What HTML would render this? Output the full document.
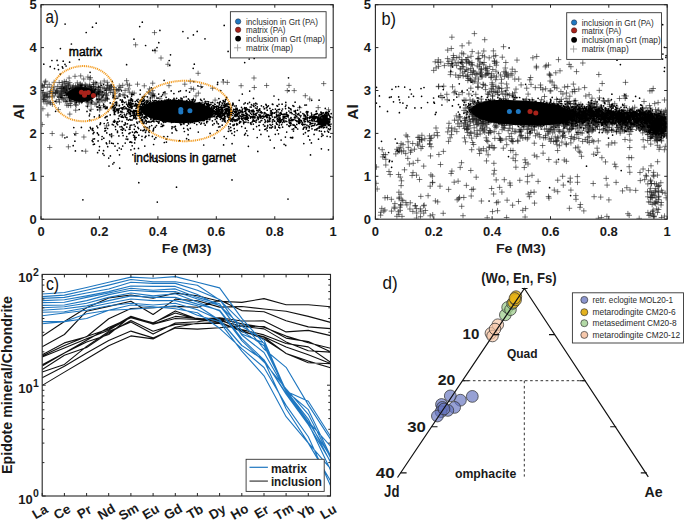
<!DOCTYPE html><html><head><meta charset="utf-8"><style>html,body{margin:0;padding:0;background:#fff;}svg{display:block;}svg text{font-family:"Liberation Sans", sans-serif;}</style></head><body><svg width="685" height="522" viewBox="0 0 685 522" font-family="Liberation Sans, sans-serif">
<rect width="685" height="522" fill="#fff"/>
<defs><clipPath id="ca"><rect x="41.5" y="5.2" width="291.2" height="213.5"/></clipPath><clipPath id="cb"><rect x="375.9" y="5.2" width="291.2" height="213.5"/></clipPath></defs>
<path clip-path="url(#ca)" d="M71.5 89.4h5.2M74.1 86.8v5.2M72.1 94.7h5.2M74.7 92.1v5.2M58.7 94h5.2M61.3 91.4v5.2M97.5 89.9h5.2M100.1 87.3v5.2M96.1 91h5.2M98.7 88.4v5.2M83.9 91.5h5.2M86.5 88.9v5.2M44.7 87.1h5.2M47.3 84.5v5.2M86 89.4h5.2M88.6 86.8v5.2M44.3 103.9h5.2M46.9 101.3v5.2M59.5 95.7h5.2M62.1 93.1v5.2M82.2 92.9h5.2M84.8 90.3v5.2M86.3 96.8h5.2M88.9 94.2v5.2M82.2 90.1h5.2M84.8 87.5v5.2M63.8 81.6h5.2M66.4 79v5.2M87 84.9h5.2M89.6 82.3v5.2M64.6 97.4h5.2M67.2 94.8v5.2M69.9 93.3h5.2M72.5 90.7v5.2M88.4 91h5.2M91 88.4v5.2M67.9 98.8h5.2M70.5 96.2v5.2M66.5 84.8h5.2M69.1 82.2v5.2M61 91.1h5.2M63.6 88.5v5.2M84.5 102.2h5.2M87.1 99.6v5.2M77.3 84.2h5.2M79.9 81.6v5.2M74.4 97.9h5.2M77 95.3v5.2M85.8 93h5.2M88.4 90.4v5.2M48.6 87.3h5.2M51.2 84.7v5.2M89.1 86.6h5.2M91.7 84v5.2M103.7 90.3h5.2M106.3 87.7v5.2M78.7 101h5.2M81.3 98.4v5.2M88.1 96.6h5.2M90.7 94v5.2M67.8 100.8h5.2M70.4 98.2v5.2M58 96.1h5.2M60.6 93.5v5.2M100.9 105.7h5.2M103.5 103.1v5.2M48.7 91.1h5.2M51.3 88.5v5.2M103.8 88.9h5.2M106.4 86.3v5.2M40.3 108.8h5.2M42.9 106.2v5.2M83.2 97.4h5.2M85.8 94.8v5.2M55.1 86.4h5.2M57.7 83.8v5.2M97.3 91.6h5.2M99.9 89v5.2M81.1 89.8h5.2M83.7 87.2v5.2M106.7 88.7h5.2M109.3 86.1v5.2M86.2 89.1h5.2M88.8 86.5v5.2M46.6 84.4h5.2M49.2 81.8v5.2M94.5 89.2h5.2M97.1 86.6v5.2M92.4 104.3h5.2M95 101.7v5.2M72.9 86.1h5.2M75.5 83.5v5.2M51.5 82.3h5.2M54.1 79.7v5.2M86.9 93.6h5.2M89.5 91v5.2M82.6 88.5h5.2M85.2 85.9v5.2M78.7 85.3h5.2M81.3 82.7v5.2M63.8 95.3h5.2M66.4 92.7v5.2M96.2 92.5h5.2M98.8 89.9v5.2M59.7 86.6h5.2M62.3 84v5.2M104.2 95.5h5.2M106.8 92.9v5.2M50.2 93.5h5.2M52.8 90.9v5.2M73.6 94.6h5.2M76.2 92v5.2M103.1 99.3h5.2M105.7 96.7v5.2M100.3 100.8h5.2M102.9 98.2v5.2M61.4 88.6h5.2M64 86v5.2M97.8 87.1h5.2M100.4 84.5v5.2M82.9 91.7h5.2M85.5 89.1v5.2M79.3 88.9h5.2M81.9 86.3v5.2M73 90.9h5.2M75.6 88.3v5.2M87.3 92.6h5.2M89.9 90v5.2M90.9 89h5.2M93.5 86.4v5.2M114.6 90.6h5.2M117.2 88v5.2M68.3 95h5.2M70.9 92.4v5.2M76.1 86.7h5.2M78.7 84.1v5.2M70 90.2h5.2M72.6 87.6v5.2M111.3 109.1h5.2M113.9 106.5v5.2M55 91.1h5.2M57.6 88.5v5.2M84 91.1h5.2M86.6 88.5v5.2M68.2 88.4h5.2M70.8 85.8v5.2M81.7 96h5.2M84.3 93.4v5.2M122.5 90.4h5.2M125.1 87.8v5.2M65.9 93.3h5.2M68.5 90.7v5.2M72.1 93h5.2M74.7 90.4v5.2M95.5 100.2h5.2M98.1 97.6v5.2M75.1 86.5h5.2M77.7 83.9v5.2M92.6 83.1h5.2M95.2 80.5v5.2M44.1 94.9h5.2M46.7 92.3v5.2M69.9 88.6h5.2M72.5 86v5.2M97.1 109.9h5.2M99.7 107.3v5.2M97.1 102h5.2M99.7 99.4v5.2M89.4 102.2h5.2M92 99.6v5.2M79.7 85h5.2M82.3 82.4v5.2M73.5 91.4h5.2M76.1 88.8v5.2M91.5 91.7h5.2M94.1 89.1v5.2M74.7 82.8h5.2M77.3 80.2v5.2M96.3 94.5h5.2M98.9 91.9v5.2M128.5 100h5.2M131.1 97.4v5.2M93.8 94.4h5.2M96.4 91.8v5.2M78.9 88.1h5.2M81.5 85.5v5.2M80.6 88.5h5.2M83.2 85.9v5.2M47.4 102.4h5.2M50 99.8v5.2M88.1 98.8h5.2M90.7 96.2v5.2M56.9 102.1h5.2M59.5 99.5v5.2M100.4 87.8h5.2M103 85.2v5.2M104.4 98.7h5.2M107 96.1v5.2M76.4 100h5.2M79 97.4v5.2M90.9 82.4h5.2M93.5 79.8v5.2M59.5 82.6h5.2M62.1 80v5.2M95.2 93.8h5.2M97.8 91.2v5.2M74.6 96.5h5.2M77.2 93.9v5.2M84 90h5.2M86.6 87.4v5.2M104.8 99.2h5.2M107.4 96.6v5.2M98 83.1h5.2M100.6 80.5v5.2M104 93.8h5.2M106.6 91.2v5.2M62.3 86.1h5.2M64.9 83.5v5.2M78.6 91.8h5.2M81.2 89.2v5.2M103.4 94.3h5.2M106 91.7v5.2M41.2 87.4h5.2M43.8 84.8v5.2M82.4 96.6h5.2M85 94v5.2M76.2 87.3h5.2M78.8 84.7v5.2M77.9 84.1h5.2M80.5 81.5v5.2M75.2 86h5.2M77.8 83.4v5.2M104.7 82.3h5.2M107.3 79.7v5.2M63.6 87h5.2M66.2 84.4v5.2M40.8 99.6h5.2M43.4 97v5.2M39.1 85.8h5.2M41.7 83.2v5.2M53 92.7h5.2M55.6 90.1v5.2M72.7 92.8h5.2M75.3 90.2v5.2M65.2 91.1h5.2M67.8 88.5v5.2M110.4 92.4h5.2M113 89.8v5.2M86.5 86.2h5.2M89.1 83.6v5.2M72.6 100.8h5.2M75.2 98.2v5.2M65.8 85.7h5.2M68.4 83.1v5.2M45.1 96.5h5.2M47.7 93.9v5.2M95.5 87.5h5.2M98.1 84.9v5.2M76.5 87.5h5.2M79.1 84.9v5.2M79.5 100.2h5.2M82.1 97.6v5.2M46.7 96.8h5.2M49.3 94.2v5.2M93.9 96.3h5.2M96.5 93.7v5.2M59.2 97.6h5.2M61.8 95v5.2M47.3 93.4h5.2M49.9 90.8v5.2M54 90.3h5.2M56.6 87.7v5.2M64.2 105.1h5.2M66.8 102.5v5.2M90.2 94.4h5.2M92.8 91.8v5.2M81.9 95.6h5.2M84.5 93v5.2M91.2 87.8h5.2M93.8 85.2v5.2M89 90.5h5.2M91.6 87.9v5.2M101.7 88.4h5.2M104.3 85.8v5.2M85 106.1h5.2M87.6 103.5v5.2M93.4 84.2h5.2M96 81.6v5.2M70.7 95.7h5.2M73.3 93.1v5.2M113.2 104h5.2M115.8 101.4v5.2M85.3 77h5.2M87.9 74.4v5.2M58.8 88.2h5.2M61.4 85.6v5.2M112.2 93.4h5.2M114.8 90.8v5.2M87 86.8h5.2M89.6 84.2v5.2M59.2 93.2h5.2M61.8 90.6v5.2M81.9 87.3h5.2M84.5 84.7v5.2M75.7 93.9h5.2M78.3 91.3v5.2M57.1 95h5.2M59.7 92.4v5.2M93.3 92h5.2M95.9 89.4v5.2M60.2 98.1h5.2M62.8 95.5v5.2M127 85.3h5.2M129.6 82.7v5.2M88.5 109.3h5.2M91.1 106.7v5.2M88.2 89.6h5.2M90.8 87v5.2M108.4 89.9h5.2M111 87.3v5.2M75.1 89.3h5.2M77.7 86.7v5.2M39.5 86h5.2M42.1 83.4v5.2M82.6 97.2h5.2M85.2 94.6v5.2M101.6 81h5.2M104.2 78.4v5.2M49.8 96.9h5.2M52.4 94.3v5.2M81.9 91.5h5.2M84.5 88.9v5.2M68.8 98.9h5.2M71.4 96.3v5.2M116.7 86h5.2M119.3 83.4v5.2M53.7 101.3h5.2M56.3 98.7v5.2M108.7 86.3h5.2M111.3 83.7v5.2M111 87.4h5.2M113.6 84.8v5.2M59.8 91h5.2M62.4 88.4v5.2M75.3 89.3h5.2M77.9 86.7v5.2M62.6 93.4h5.2M65.2 90.8v5.2M85.1 90.2h5.2M87.7 87.6v5.2M88.5 91.3h5.2M91.1 88.7v5.2M70.2 87.6h5.2M72.8 85v5.2M77.3 98h5.2M79.9 95.4v5.2M64.5 92.6h5.2M67.1 90v5.2M74.3 91.6h5.2M76.9 89v5.2M76.4 91.5h5.2M79 88.9v5.2M73.8 100.7h5.2M76.4 98.1v5.2M84.4 85.9h5.2M87 83.3v5.2M84.6 93.9h5.2M87.2 91.3v5.2M84.9 98.9h5.2M87.5 96.3v5.2M40.4 92.3h5.2M43 89.7v5.2M58.7 87.9h5.2M61.3 85.3v5.2M55.8 109.6h5.2M58.4 107v5.2M56.6 82.5h5.2M59.2 79.9v5.2M69.1 101.5h5.2M71.7 98.9v5.2M61.9 89.3h5.2M64.5 86.7v5.2M85.8 91.5h5.2M88.4 88.9v5.2M104.6 88.1h5.2M107.2 85.5v5.2M76 88.8h5.2M78.6 86.2v5.2M107.8 86.4h5.2M110.4 83.8v5.2M95.8 99.6h5.2M98.4 97v5.2M73.6 87.9h5.2M76.2 85.3v5.2M70.8 85.8h5.2M73.4 83.2v5.2M87.7 86.8h5.2M90.3 84.2v5.2M72.4 76.3h5.2M75 73.7v5.2M99.9 94h5.2M102.5 91.4v5.2M78.1 75.9h5.2M80.7 73.3v5.2M69.9 87h5.2M72.5 84.4v5.2M95 92.6h5.2M97.6 90v5.2M54.2 91.4h5.2M56.8 88.8v5.2M83.2 85.4h5.2M85.8 82.8v5.2M91.3 92.5h5.2M93.9 89.9v5.2M92.6 89.2h5.2M95.2 86.6v5.2M80.3 92.3h5.2M82.9 89.7v5.2M71.8 88.2h5.2M74.4 85.6v5.2M56.4 96.7h5.2M59 94.1v5.2M76.5 102.1h5.2M79.1 99.5v5.2M68.1 105.6h5.2M70.7 103v5.2M63.4 89h5.2M66 86.4v5.2M87.1 93h5.2M89.7 90.4v5.2M72 101.8h5.2M74.6 99.2v5.2M111.1 89.3h5.2M113.7 86.7v5.2M97.2 98.3h5.2M99.8 95.7v5.2M72.9 104.4h5.2M75.5 101.8v5.2M91.2 86.6h5.2M93.8 84v5.2M40.3 93h5.2M42.9 90.4v5.2M88.4 104h5.2M91 101.4v5.2M41.7 99.5h5.2M44.3 96.9v5.2M64.4 101.7h5.2M67 99.1v5.2M77 91h5.2M79.6 88.4v5.2M88.4 88.1h5.2M91 85.5v5.2M104.9 85.2h5.2M107.5 82.6v5.2M51.5 95.9h5.2M54.1 93.3v5.2M56.3 99.6h5.2M58.9 97v5.2M74.8 92.6h5.2M77.4 90v5.2M85.7 102.9h5.2M88.3 100.3v5.2M52.9 92.8h5.2M55.5 90.2v5.2M72.6 94.6h5.2M75.2 92v5.2M75.2 97.5h5.2M77.8 94.9v5.2M89.7 90.4h5.2M92.3 87.8v5.2M74.7 97h5.2M77.3 94.4v5.2M73.1 110.2h5.2M75.7 107.6v5.2M57.7 92.4h5.2M60.3 89.8v5.2M47.8 91.4h5.2M50.4 88.8v5.2M79.2 101.5h5.2M81.8 98.9v5.2M71.6 94.7h5.2M74.2 92.1v5.2M85.1 88.7h5.2M87.7 86.1v5.2M75.7 98.1h5.2M78.3 95.5v5.2M73.6 93.1h5.2M76.2 90.5v5.2M90.3 90.8h5.2M92.9 88.2v5.2M62.7 101.4h5.2M65.3 98.8v5.2M69.3 97.4h5.2M71.9 94.8v5.2M55.3 93.4h5.2M57.9 90.8v5.2M67.1 92h5.2M69.7 89.4v5.2M86.3 95.3h5.2M88.9 92.7v5.2M120.5 94.7h5.2M123.1 92.1v5.2M97.3 91.9h5.2M99.9 89.3v5.2M97.6 107.9h5.2M100.2 105.3v5.2M62.1 91.1h5.2M64.7 88.5v5.2M87.8 77.6h5.2M90.4 75v5.2M82.5 84.4h5.2M85.1 81.8v5.2M90.9 86.5h5.2M93.5 83.9v5.2M86.1 93.6h5.2M88.7 91v5.2M86.1 99.6h5.2M88.7 97v5.2M98.8 99.2h5.2M101.4 96.6v5.2M81.1 79h5.2M83.7 76.4v5.2M72.1 92.5h5.2M74.7 89.9v5.2M98.5 92.5h5.2M101.1 89.9v5.2M61 91h5.2M63.6 88.4v5.2M87.4 88.1h5.2M90 85.5v5.2M61.7 81.4h5.2M64.3 78.8v5.2M108 92.5h5.2M110.6 89.9v5.2M81.5 95.4h5.2M84.1 92.8v5.2M103.2 97.2h5.2M105.8 94.6v5.2M89.2 95.7h5.2M91.8 93.1v5.2M63.2 88h5.2M65.8 85.4v5.2M101.7 92.7h5.2M104.3 90.1v5.2M63.5 87.4h5.2M66.1 84.8v5.2M75.4 90.6h5.2M78 88v5.2M105.3 85.4h5.2M107.9 82.8v5.2M66.5 78h5.2M69.1 75.4v5.2M76.4 87.6h5.2M79 85v5.2M64.1 92.9h5.2M66.7 90.3v5.2M43.1 81.1h5.2M45.7 78.5v5.2M102.3 100.5h5.2M104.9 97.9v5.2M47.8 103.1h5.2M50.4 100.5v5.2M98.7 95.6h5.2M101.3 93v5.2M75.2 94.7h5.2M77.8 92.1v5.2M74.1 99.6h5.2M76.7 97v5.2M76.8 101.9h5.2M79.4 99.3v5.2M75 90.7h5.2M77.6 88.1v5.2M85.3 94.1h5.2M87.9 91.5v5.2M59.2 91.6h5.2M61.8 89v5.2M67.2 82.6h5.2M69.8 80v5.2M91 93.4h5.2M93.6 90.8v5.2M67.4 97.2h5.2M70 94.6v5.2M58.6 94.9h5.2M61.2 92.3v5.2M82 89.3h5.2M84.6 86.7v5.2M87.2 79.1h5.2M89.8 76.5v5.2M63 92.6h5.2M65.6 90v5.2M129.5 104.7h5.2M132.1 102.1v5.2M66.5 91.6h5.2M69.1 89v5.2M79.3 90h5.2M81.9 87.4v5.2M71.9 90.3h5.2M74.5 87.7v5.2M77.4 87.7h5.2M80 85.1v5.2M40.4 98.3h5.2M43 95.7v5.2M76.3 99.3h5.2M78.9 96.7v5.2M56.5 88.6h5.2M59.1 86v5.2M64 88.6h5.2M66.6 86v5.2M90.6 90.7h5.2M93.2 88.1v5.2M86 93.3h5.2M88.6 90.7v5.2M49.6 92.8h5.2M52.2 90.2v5.2M85 96.1h5.2M87.6 93.5v5.2M74.5 87.8h5.2M77.1 85.2v5.2M59.7 88.5h5.2M62.3 85.9v5.2M111.8 96.2h5.2M114.4 93.6v5.2M79.2 93.6h5.2M81.8 91v5.2M42.2 95.4h5.2M44.8 92.8v5.2M93.7 103.2h5.2M96.3 100.6v5.2M107 87.5h5.2M109.6 84.9v5.2M146.7 92.6h5.2M149.3 90v5.2M134.9 84.2h5.2M137.5 81.6v5.2M67.4 103.5h5.2M70 100.9v5.2M51.1 89.1h5.2M53.7 86.5v5.2M118.1 87.5h5.2M120.7 84.9v5.2M148.4 94h5.2M151 91.4v5.2M127.8 100h5.2M130.4 97.4v5.2M91.9 94h5.2M94.5 91.4v5.2M129.8 93.1h5.2M132.4 90.5v5.2M65.6 86.1h5.2M68.2 83.5v5.2M73.9 96.2h5.2M76.5 93.6v5.2M53.4 92.7h5.2M56 90.1v5.2M120.1 85.3h5.2M122.7 82.7v5.2M51.5 87h5.2M54.1 84.4v5.2M106.5 90h5.2M109.1 87.4v5.2M83.8 91.5h5.2M86.4 88.9v5.2M39.6 85.8h5.2M42.2 83.2v5.2M73.6 105.3h5.2M76.2 102.7v5.2M113.7 89.5h5.2M116.3 86.9v5.2M141.7 96.4h5.2M144.3 93.8v5.2M67.3 92.1h5.2M69.9 89.5v5.2M150.7 93.9h5.2M153.3 91.3v5.2M40.9 96.9h5.2M43.5 94.3v5.2M96.6 95.1h5.2M99.2 92.5v5.2M68.5 97.4h5.2M71.1 94.8v5.2M116.4 89.4h5.2M119 86.8v5.2M42.4 94.3h5.2M45 91.7v5.2M77.9 99.5h5.2M80.5 96.9v5.2M61.6 88.9h5.2M64.2 86.3v5.2M131.6 93.1h5.2M134.2 90.5v5.2M62.4 98.7h5.2M65 96.1v5.2M151.8 96.2h5.2M154.4 93.6v5.2M65.4 83.8h5.2M68 81.2v5.2M64.3 92.4h5.2M66.9 89.8v5.2M149.7 96.9h5.2M152.3 94.3v5.2M96.3 91.2h5.2M98.9 88.6v5.2M87.1 89.3h5.2M89.7 86.7v5.2M116.2 89.9h5.2M118.8 87.3v5.2M84.4 93.6h5.2M87 91v5.2M63.3 89.8h5.2M65.9 87.2v5.2M44.5 93.1h5.2M47.1 90.5v5.2M45.4 101.3h5.2M48 98.7v5.2M141.7 85.8h5.2M144.3 83.2v5.2M124 80.7h5.2M126.6 78.1v5.2M76.9 92.8h5.2M79.5 90.2v5.2M60.1 84.8h5.2M62.7 82.2v5.2M42.1 96h5.2M44.7 93.4v5.2M116.1 96.2h5.2M118.7 93.6v5.2M77.2 89.2h5.2M79.8 86.6v5.2M58.2 88.5h5.2M60.8 85.9v5.2M79.5 92.6h5.2M82.1 90v5.2M150.1 83.2h5.2M152.7 80.6v5.2M62.6 83.3h5.2M65.2 80.7v5.2M80.1 88.5h5.2M82.7 85.9v5.2M88.9 101.3h5.2M91.5 98.7v5.2M44.2 97.5h5.2M46.8 94.9v5.2M145.9 91.8h5.2M148.5 89.2v5.2M61 99.9h5.2M63.6 97.3v5.2M41.9 84.4h5.2M44.5 81.8v5.2M86.4 89.3h5.2M89 86.7v5.2M43.2 100.8h5.2M45.8 98.2v5.2M42.5 82h5.2M45.1 79.4v5.2M68.4 88.2h5.2M71 85.6v5.2M125.7 88.9h5.2M128.3 86.3v5.2M70.2 95.4h5.2M72.8 92.8v5.2M150.3 95.6h5.2M152.9 93v5.2M122.2 95.3h5.2M124.8 92.7v5.2M75.4 92.7h5.2M78 90.1v5.2M126.7 92.2h5.2M129.3 89.6v5.2M145.5 100.9h5.2M148.1 98.3v5.2M41.2 101.8h5.2M43.8 99.2v5.2M65.7 105.4h5.2M68.3 102.8v5.2M149.9 90.6h5.2M152.5 88v5.2M83.6 92.7h5.2M86.2 90.1v5.2M96.1 87.2h5.2M98.7 84.6v5.2M146.9 88.9h5.2M149.5 86.3v5.2M124.7 84.2h5.2M127.3 81.6v5.2M67.2 114.1h5.2M69.8 111.5v5.2M59.7 135.1h5.2M62.3 132.5v5.2M49.6 133.5h5.2M52.2 130.9v5.2M65.8 146.8h5.2M68.4 144.2v5.2M45.3 115h5.2M47.9 112.4v5.2M47.1 147.5h5.2M49.7 144.9v5.2M39.6 124.5h5.2M42.2 121.9v5.2M49.8 104.3h5.2M52.4 101.7v5.2M119.3 112.5h5.2M121.9 109.9v5.2M83.1 151.2h5.2M85.7 148.6v5.2M73.3 133.5h5.2M75.9 130.9v5.2M109.1 135.7h5.2M111.7 133.1v5.2M81.3 137h5.2M83.9 134.4v5.2M103.9 125.9h5.2M106.5 123.3v5.2M286.4 85.4h5.2M289 82.8v5.2M176.5 103h5.2M179.1 100.4v5.2M302.7 95.7h5.2M305.3 93.1v5.2M220.7 82h5.2M223.3 79.4v5.2M284.7 90.6h5.2M287.3 88v5.2M198.3 86.5h5.2M200.9 83.9v5.2M182.2 84.2h5.2M184.8 81.6v5.2M212.5 100.1h5.2M215.1 97.5v5.2M224.7 82.4h5.2M227.3 79.8v5.2M195.8 93.1h5.2M198.4 90.5v5.2M297 107.7h5.2M299.6 105.1v5.2M173.2 114.3h5.2M175.8 111.7v5.2M238.5 85.7h5.2M241.1 83.1v5.2M315.6 107.6h5.2M318.2 105v5.2M162.4 93.8h5.2M165 91.2v5.2M188.5 88.5h5.2M191.1 85.9v5.2M325.9 109.8h5.2M328.5 107.2v5.2M220.5 102.5h5.2M223.1 99.9v5.2M307.1 99h5.2M309.7 96.4v5.2M291.6 90.6h5.2M294.2 88v5.2M321.1 83.6h5.2M323.7 81v5.2M264 85.5h5.2M266.6 82.9v5.2M193.4 95.9h5.2M196 93.3v5.2M191 89.2h5.2M193.6 86.6v5.2M200 102.8h5.2M202.6 100.2v5.2M190.9 99.9h5.2M193.5 97.3v5.2M157.3 98.7h5.2M159.9 96.1v5.2M187.7 81.2h5.2M190.3 78.6v5.2M210 88.2h5.2M212.6 85.6v5.2M251.4 78h5.2M254 75.4v5.2M166.4 85.7h5.2M169 83.1v5.2M251.7 87.5h5.2M254.3 84.9v5.2M195.5 73.3h5.2M198.1 70.7v5.2M133 44.8h5.2M135.6 42.2v5.2M165.3 64.3h5.2M167.9 61.7v5.2M151.9 32.6h5.2M154.5 30v5.2M152.5 50.9h5.2M155.1 48.3v5.2M158.4 58h5.2M161 55.4v5.2" stroke="#1e1e1e" stroke-width="0.6" fill="none"/>
<path clip-path="url(#ca)" d="M236.7 124.8h0M166.9 107.9h0M175.9 113.7h0M234.9 112.4h0M135.1 105h0M133.1 103.6h0M163.1 109.4h0M211.5 111.3h0M141.8 117.3h0M209.4 108.3h0M156.9 105.8h0M191.4 108.1h0M118.9 109.9h0M202 108.1h0M201.5 123.1h0M182.8 108.5h0M245.4 117.6h0M169.7 110.2h0M201.6 113.6h0M208.5 115.5h0M185.4 113.4h0M182.5 114.1h0M136.3 104h0M186.3 113.6h0M183.6 106.2h0M152.6 110.2h0M192.5 108.7h0M169.5 120.3h0M211 110.3h0M178.7 112h0M185.3 112.9h0M151.4 113.2h0M162.6 113h0M147.9 106.5h0M143.9 106.3h0M151.7 108h0M214.5 111h0M159.1 109.7h0M182.2 119h0M162.4 109.3h0M166 109.8h0M197.6 107.8h0M202.2 108.8h0M170.8 110.5h0M171.2 111.9h0M173.6 118.6h0M169.6 110.5h0M152.7 109.8h0M191.9 111.9h0M232.9 125h0M172.9 119.1h0M204.1 99.1h0M112.5 107.6h0M192 112.6h0M192.8 121.8h0M200.7 109.7h0M178.9 113.5h0M195.1 113.6h0M184.2 113.3h0M119.2 108.6h0M183.7 107.3h0M155.3 110h0M194.6 110.6h0M211 102.5h0M154.4 118.9h0M200.9 104.3h0M202.6 107.7h0M162.1 113.4h0M201.7 115.8h0M130.6 113.6h0M243.9 104h0M160.3 113.4h0M184.4 114.4h0M212.8 112.3h0M149.8 103.4h0M163 109.1h0M178 112.1h0M186.9 114.2h0M129.8 119.3h0M145 113h0M177.7 110.4h0M193 110.6h0M157.5 113.2h0M122.6 109.4h0M191.1 108.6h0M175.1 111.4h0M203 111.5h0M197.7 108.6h0M183.9 104.7h0M163.3 111.8h0M157.1 113.6h0M219.3 103.9h0M178.9 108h0M209.2 108h0M210 117.8h0M161.5 107.9h0M216.1 111.6h0M155.8 111.5h0M161 114.1h0M217.8 115.1h0M178.9 100.5h0M209.5 110.2h0M162.2 108.1h0M221 109.3h0M211.5 111.4h0M191.9 112.1h0M189.6 104.9h0M140.7 109.6h0M184.7 113.6h0M170.2 106.7h0M231 109.6h0M186.9 118.3h0M229 112.2h0M177.4 115.9h0M176.8 115.8h0M180.2 108.5h0M179.2 109.4h0M155.9 103.1h0M161.2 118.6h0M173.4 114.1h0M151.8 111.4h0M186 116.5h0M174.7 103.8h0M196.3 112h0M181.7 111.4h0M177.1 107.2h0M175.9 121.9h0M177.8 114.8h0M195.5 114.2h0M182.2 100.5h0M150.8 115h0M141.2 120.6h0M128.9 107.1h0M161.6 118.9h0M139.3 106.3h0M157.9 111.6h0M187 104.6h0M229.4 107.7h0M182.1 109.9h0M225.7 105.7h0M170.2 108.2h0M185.9 110.7h0M165.2 116.4h0M164.3 117.4h0M210.5 109.3h0M146.6 102.9h0M201.8 120.5h0M226.8 108.6h0M232.6 118.5h0M192.3 109.2h0M183.6 110h0M206 118.7h0M145.7 116h0M163.7 113h0M188 109.8h0M179.2 113.9h0M166.7 105.7h0M198.4 110.9h0M169.9 103h0M162.7 107h0M208.7 113h0M200 116.7h0M205 110.7h0M136.6 106h0M154.9 103.8h0M160.5 110.8h0M185.8 112.5h0M185.2 113.5h0M196 111.3h0M183.9 123.9h0M208.9 111.6h0M131.5 108.5h0M190.6 106.1h0M149.9 102.3h0M174.1 99.2h0M174.5 107.3h0M168.7 115.6h0M207.2 107.4h0M218.8 108.1h0M163.3 118h0M161.2 113.2h0M156.9 107.1h0M187 112.3h0M182.9 111.5h0M183.9 107.3h0M203.6 114.8h0M138.7 102.5h0M181.3 105.6h0M135.1 110.6h0M179 117.5h0M164.8 106.7h0M206.7 104.2h0M155.6 116.4h0M192 106.7h0M183.4 117h0M198.9 107.7h0M192.9 113.5h0M186.3 107.2h0M163.6 118.8h0M187 108.7h0M178.7 106.5h0M162.9 110.5h0M170.3 107.7h0M220.3 113.4h0M232.4 105.4h0M199.1 108.7h0M224.9 113.2h0M175.4 115.6h0M190.8 104.8h0M192.3 109.2h0M173.1 109.7h0M140.9 104.3h0M167.6 115.5h0M158.6 113.8h0M200.8 106.5h0M142.6 105h0M201.7 114.3h0M139.2 112.7h0M161.7 108.4h0M168.9 119.9h0M184.5 118.1h0M202.1 117.2h0M160.1 114h0M164.1 104h0M200.7 108.6h0M186.7 118.3h0M164.6 112.8h0M152.6 107.3h0M158.8 113.3h0M150.9 119.4h0M194 105h0M182.9 115.4h0M107.2 107.2h0M210.3 110.4h0M202.7 104.6h0M208 113.8h0M206 108h0M137.9 111.1h0M140.9 109.8h0M193.5 116.3h0M124.3 102.6h0M188.2 104.1h0M143.5 104.4h0M232.9 103.2h0M172.8 109.2h0M174.3 105.8h0M205.6 111.3h0M142.6 105.9h0M166 107.2h0M185.3 103.3h0M208.3 113.9h0M187.5 102.7h0M164.2 108.1h0M209.6 105.9h0M192 117.4h0M145.2 108.3h0M188.5 99h0M155.7 104.5h0M198.6 119.3h0M156.8 109.1h0M165.4 110.9h0M190.7 114.9h0M190.6 114.1h0M164 107.6h0M163.3 108.8h0M220.4 112.1h0M174.5 107.1h0M168.7 105.2h0M144.6 106.5h0M164.9 113.9h0M224.9 116.4h0M224.5 109.3h0M216.5 116.7h0M209.9 104.9h0M175.3 111.2h0M242.9 112.2h0M167.2 113.2h0M190.1 109.5h0M183 102.7h0M169.7 108.1h0M216.7 116.8h0M205.6 103h0M142.7 114.5h0M151 118.4h0M190.2 119.9h0M191.5 104.3h0M135.9 110.6h0M127.9 105.1h0M158.9 111.2h0M179.8 108.1h0M169.2 110.3h0M164 109.6h0M147.5 109.2h0M127.5 111.1h0M228.7 112.1h0M145.2 108.2h0M152.8 117.5h0M159 106.5h0M188.4 111.5h0M154 114.9h0M213.8 110.8h0M153.3 119.7h0M142.3 97.7h0M148.1 109.9h0M183.9 111.6h0M171 116.9h0M150.7 101.7h0M158.4 105.9h0M133.8 110.3h0M185.2 106h0M148.8 106.8h0M188.5 114.5h0M190.9 115.4h0M157.4 110h0M107 108.6h0M152 116.6h0M167.2 106.7h0M167.7 104.3h0M147.8 115.7h0M219.1 110.3h0M203.2 115.5h0M199.5 110.2h0M195.4 111.2h0M210.1 114.9h0M153 116.7h0M208.9 115.3h0M150.9 114.1h0M166.6 116.2h0M170.7 113.3h0M163.8 114.7h0M179.3 112.9h0M181.4 109.6h0M187.3 121.3h0M164.2 113.9h0M198.7 118.9h0M159.5 111.4h0M169.5 105.7h0M166.7 105.7h0M139.8 117.8h0M210.4 109.8h0M191.2 110.6h0M191.1 116.9h0M203.3 114.1h0M204.3 111.2h0M126.4 114.8h0M208 112.4h0M167.9 109.1h0M167.2 112.8h0M181 110.1h0M218.2 111.9h0M227.8 104h0M223.5 107.3h0M181.8 110.1h0M174.6 114h0M176.6 113.6h0M221.5 109.7h0M166.6 119.3h0M176.9 112.6h0M149.8 115h0M119.2 105.8h0M176.6 98.4h0M177.5 111.3h0M216.3 111.4h0M182.7 112.6h0M162.4 103h0M204.6 103.5h0M169.1 110.2h0M155.2 105.2h0M141.7 106.7h0M207.2 105.1h0M153.6 104.6h0M159.6 113.5h0M143.5 103.9h0M221.7 115.1h0M158.4 111.5h0M244.3 108.3h0M164.1 118.6h0M160.6 104.4h0M227.4 113.7h0M160.2 112.4h0M128.7 104.6h0M149.8 104.6h0M133.4 115h0M185.9 114.5h0M198.9 111.4h0M147.4 106.6h0M200.5 120.5h0M226.4 110.1h0M198.3 120.2h0M159.4 111.6h0M206.7 118.6h0M155.1 119.4h0M172 108.8h0M134 111.8h0M191.8 103.7h0M195.8 112.7h0M147.4 113.9h0M160.9 109.3h0M177 102.7h0M185.9 116h0M218.9 107.7h0M181 114.2h0M129.1 113.7h0M202.3 115.3h0M143.6 108.5h0M184.7 108h0M195.6 104.6h0M156.3 105.2h0M152.4 106.4h0M183 109.7h0M203.8 111.7h0M207.6 107.6h0M181.9 113.5h0M158.5 112.4h0M173 110.6h0M256.7 110.5h0M198.6 115.5h0M159.7 111.5h0M183.4 115.7h0M220.7 114.9h0M206.7 122.7h0M178.2 109.3h0M183.4 108h0M185.7 110.2h0M128.6 112.2h0M116.7 105.4h0M186.4 111.9h0M156.7 112.6h0M226.9 104.3h0M176.8 104.5h0M136.6 118.3h0M165.6 114.3h0M163.6 109.2h0M257.9 116.7h0M179.6 109.4h0M177.4 106.2h0M225 118.2h0M182.6 112.1h0M187.7 118.2h0M132.1 119.9h0M192.1 110.3h0M180.3 121.9h0M168.5 113.9h0M141.2 113.6h0M196.7 108.8h0M177.7 108.2h0M162.5 109.7h0M179.4 108.1h0M176.5 111.3h0M174.8 113.6h0M237.1 110.4h0M189.6 100.3h0M215.2 119.4h0M196.6 107.4h0M227.9 106.3h0M198.6 117h0M155.4 108.6h0M191.6 116h0M168.2 112.2h0M179.9 109.1h0M170.8 116.2h0M211 104.3h0M175.5 105.7h0M190 108h0M191 114.7h0M193.4 106.4h0M154.8 100.5h0M233.3 104.1h0M230.6 109.1h0M169.4 113.2h0M157 109.3h0M177.5 107.5h0M125.2 97.8h0M238.2 113h0M196.1 109.1h0M185.5 111.9h0M175.1 114.4h0M183 110.9h0M186.8 115h0M179.4 110.5h0M194.2 116.3h0M189.4 106.4h0M194 113h0M165.4 111.3h0M197.5 104h0M174.2 113.5h0M188.2 110.1h0M154.5 113.3h0M175.7 107.4h0M147 114.3h0M191.5 116.9h0M181.2 109.1h0M175.4 115.4h0M176.8 112.2h0M187.2 114.9h0M207 119.6h0M173.7 110.5h0M203.6 114.5h0M192.7 113.9h0M197.7 103.2h0M167.8 108.2h0M153.9 105.2h0M210.2 111.7h0M148.5 107.7h0M208.6 106.6h0M199.7 120.1h0M160.5 103.3h0M146.1 104.1h0M227.8 108.9h0M207.8 113.3h0M146.1 110h0M173.1 110.7h0M196.7 112h0M183.4 108.8h0M178.2 102h0M190 110.7h0M172.9 113.4h0M213.7 111.3h0M150 112.3h0M174.7 112.6h0M206.9 117.2h0M191.3 110.5h0M147.4 109.3h0M175.9 108.2h0M166.5 108.8h0M134.5 114.2h0M199 106.5h0M178 113.5h0M206.8 121.6h0M157.3 106.7h0M195.5 116.2h0M128.7 102h0M182.4 115h0M179.8 106.5h0M110.2 102.9h0M197.8 121.2h0M198.6 119.8h0M208.3 109.9h0M237.6 115.7h0M178.5 105.7h0M161.5 113.4h0M168.6 110.6h0M149.9 107.3h0M192.6 110.8h0M223 113.9h0M212.7 114.5h0M198.2 120.5h0M183.5 111.7h0M165.3 113.1h0M169.2 113.7h0M120.7 111.4h0M163.9 112.6h0M150.5 110.3h0M199 112.6h0M165.4 103.8h0M204 107.3h0M208.7 113.3h0M174.9 105.3h0M163.8 110.7h0M188.3 109.3h0M171.1 105.8h0M173.7 107.1h0M206.5 108.6h0M197.6 116.8h0M143.9 112.3h0M190.8 104h0M146.2 108h0M155.9 113.3h0M171.1 107.1h0M183.9 105.3h0M152.4 105.5h0M202.8 111.2h0M190.9 113.8h0M149.7 111.5h0M161.4 96.4h0M165.6 102.4h0M183.6 109.4h0M197.9 115.1h0M202.4 109.8h0M138.5 106.4h0M192.9 109.1h0M220 114.1h0M191.8 107.6h0M154.7 104.1h0M140.2 115.4h0M192.1 116.3h0M175.3 118.3h0M180.2 116.1h0M187.3 118.2h0M190.1 112.4h0M180 111h0M181.8 117h0M110.9 108h0M153.7 111.9h0M189.6 120.4h0M158.3 112.8h0M150.5 108.1h0M174.6 114.4h0M152.4 105.9h0M161 107.3h0M190.2 120h0M149.8 109.6h0M187.3 107.3h0M199.4 106.6h0M168.5 111.3h0M198.7 113.4h0M206.1 119.2h0M195.5 112.1h0M126.6 104.1h0M186.5 110.9h0M150 111.8h0M218.1 116h0M87 111.4h0M146.8 110.1h0M168 114.6h0M156.2 104.9h0M140.4 100h0M164 115.3h0M199 108.8h0M150.9 106.1h0M130 113.2h0M208 113h0M144.1 107h0M202.4 111.7h0M130.8 110.6h0M189.3 107.4h0M227.1 113.6h0M165.6 110.4h0M210.1 116.3h0M212.7 124.9h0M199.3 114.6h0M190.4 107.9h0M147.2 109.9h0M184.7 108.1h0M153.9 114.4h0M127.7 96.8h0M173.3 111.5h0M139 104.8h0M164.3 103.4h0M200.7 111.4h0M197.5 116.6h0M169.8 113.1h0M145 109.4h0M174.5 103.7h0M90.2 110.6h0M154.2 112h0M189.4 109.2h0M179.1 112.9h0M191.3 109.4h0M129.9 110.1h0M142.2 114.9h0M182.2 110.5h0M181.3 114.9h0M173 114.8h0M188.4 107.8h0M224.5 106.4h0M157.2 112h0M153.7 108.3h0M230.4 109.2h0M120.5 114.5h0M144.3 107h0M178.4 109.2h0M225.2 116.3h0M156 100.6h0M187.3 114.7h0M125 115.9h0M114.1 108h0M179.5 106h0M174.7 113.8h0M158.8 101h0M131.9 108.1h0M179 107.8h0M167.7 107.9h0M199.8 112.1h0M166.3 111.1h0M153 110.7h0M170.4 109.4h0M213.5 105.8h0M166.6 107.4h0M186.1 107.4h0M178.9 109.4h0M166 113.9h0M201.3 105.4h0M195.8 109.2h0M185.3 113h0M131.4 105.8h0M183.6 113.5h0M153 103.7h0M130.9 100.6h0M195.2 100.1h0M159.5 110.1h0M165 109.4h0M172.8 114h0M206.6 115.4h0M165 107.6h0M164.2 112.2h0M187.7 112.7h0M145.6 109.9h0M172.6 102.4h0M149.5 105h0M157.7 111.6h0M169.7 109.1h0M201 103.2h0M161.6 103.8h0M204.5 107.8h0M158.4 105.7h0M175.5 108.9h0M171.3 107.3h0M207.7 106.4h0M172.9 105.8h0M216.5 116.5h0M217.1 118.4h0M192.6 108.4h0M217.3 110.8h0M165.7 114h0M145.4 105.8h0M172.1 113.8h0M192.3 114.8h0M166.8 112.4h0M221.8 105.4h0M174.2 117.9h0M185.6 110.6h0M187.5 108.3h0M169.9 106h0M200.3 110.5h0M167.6 112.5h0M196.5 116.5h0M174.1 114h0M141.7 106.5h0M177.7 110.5h0M201.3 118.6h0M176.6 109.2h0M200.2 116.6h0M197.2 110.3h0M214 106.6h0M192.8 101.1h0M178.3 112.7h0M169.4 114.8h0M177.6 119.5h0M176.1 108.6h0M204.4 113.3h0M214.9 115.1h0M174.8 119.4h0M158.3 113.7h0M216.7 109.6h0M150 107.2h0M190.7 112.2h0M178.9 112.1h0M164.4 118.3h0M176 104.7h0M215.1 113.3h0M159.2 110.9h0M201.4 109.9h0M163.3 108.4h0M173 108.1h0M167.9 117.1h0M179.8 107.2h0M149.9 110.1h0M200.8 113.2h0M161.6 100.7h0M199.6 106.7h0M154.1 102.3h0M135.9 111.5h0M197.3 105.2h0M154.5 112.8h0M183.4 119.7h0M194.7 108.7h0M166.9 107.8h0M198.2 110h0M191.7 104.2h0M166.1 109.5h0M165 105.4h0M167.9 108.1h0M181.8 110.5h0M222.1 112.7h0M214.4 108.2h0M211.9 112.7h0M202 108.1h0M162.7 108.9h0M175.1 110.7h0M211.4 115.2h0M135.6 117h0M166.8 113.2h0M178.7 108.1h0M223 110.9h0M190.1 114.4h0M193.1 105h0M212.4 120.8h0M200.9 104.3h0M199.3 118.2h0M170.6 107.7h0M188.9 114.7h0M155.8 105.4h0M144.5 102.9h0M178.8 109.3h0M144.6 112.1h0M195.8 118h0M230.8 119h0M147.4 109.3h0M190.5 107.8h0M168.9 111.3h0M172.4 113.1h0M113.1 103.9h0M184.7 110.2h0M162.4 108.9h0M178 111h0M206.3 119.5h0M184.7 115.7h0M170.3 103.6h0M150.9 110.1h0M163.4 105.8h0M153.6 117.4h0M191.3 112.7h0M170.3 105.5h0M155.9 111.5h0M182.1 108.9h0M165.3 105.5h0M234.9 114.6h0M225.6 122h0M213.9 113.5h0M181.8 112.3h0M162.3 115.9h0M168.4 104.4h0M207.1 113.3h0M165 113.4h0M148 101.4h0M195.1 110.7h0M165.9 114.8h0M211.6 108.3h0M154.3 105.3h0M150.4 106.7h0M154.1 111.7h0M190.8 109.2h0M203.9 115.4h0M218.2 106h0M178.1 108.5h0M158.7 110.6h0M145 109h0M183.4 104.8h0M202.3 107.8h0M169.2 111.3h0M169.7 109.3h0M129.6 105.4h0M138.8 111.5h0M178.9 113h0M220.3 112.6h0M218 106.8h0M165.8 108.4h0M211.1 113.4h0M180.6 113.3h0M179.8 112.3h0M180.4 106.2h0M213.5 111.4h0M183.4 107h0M171 115.2h0M206.4 115.9h0M201.8 115.9h0M224.5 117.1h0M199.8 104.7h0M154.1 103h0M157.6 117.9h0M196.6 108.2h0M173.2 121.9h0M177 112h0M168.8 111.6h0M133.1 111.6h0M223.8 105.3h0M169.2 113.6h0M188.3 106.2h0M196.6 116.6h0M182.4 110.2h0M214.6 106.6h0M191.6 105.6h0M168.4 103.3h0M167.6 108.5h0M201.5 115.7h0M160.6 118h0M182.5 111.1h0M170.1 108.1h0M124.9 108.8h0M180.5 111.9h0M198.4 103.5h0M167.1 114.5h0M163.1 109.7h0M193.1 115.1h0M203.6 116.2h0M199.2 109.5h0M190 101.3h0M171.7 111.2h0M190.4 107.2h0M144.5 108.2h0M159.6 107.1h0M212.9 111.7h0M175.6 109.7h0M103.7 104.4h0M192.5 110.4h0M168.3 113.6h0M173.8 105h0M175.7 104.5h0M113.4 110.4h0M185.3 111h0M136.4 112.1h0M209.9 117.7h0M153.3 114.7h0M164.4 107.2h0M193.3 120.4h0M215.2 114.7h0M163.5 102.6h0M176.3 116.2h0M162.2 113.4h0M152.8 111.2h0M200.5 109.9h0M143.5 96.8h0M153.3 109.2h0M179.1 107.2h0M170 108.3h0M231.5 112.2h0M151 108.2h0M158.1 111.6h0M183.1 109.3h0M171.2 106.6h0M173.5 116.4h0M200.5 113.1h0M209 114.8h0M192.8 109.8h0M110.2 114.9h0M150.1 103.3h0M130.7 104.8h0M205.9 109.4h0M195.4 113.5h0M178.1 109.6h0M189 107.8h0M173.1 113.6h0M164.1 108.3h0M136.4 114.8h0M167.9 112.8h0M171.5 122.5h0M169.7 111.5h0M197.9 120.4h0M170.6 108.2h0M190.7 105.7h0M205 116.4h0M194.4 112.8h0M158 103h0M162.4 114h0M168 114.1h0M203.8 109.9h0M213.7 110.1h0M162.8 105.3h0M161.8 112.2h0M174.1 110.3h0M208.6 114.5h0M187.2 111.1h0M146.5 114.5h0M172.8 108.6h0M186.4 108.8h0M179.6 112.7h0M189.1 115.6h0M144.3 110.9h0M142.1 111.7h0M159.4 112.5h0M177.2 114.3h0M167.6 118h0M182 114.8h0M188.6 123.9h0M158 108.8h0M116.4 110h0M180.7 110.3h0M140.4 108.2h0M182.1 115.2h0M197.2 111.6h0M178.8 112.7h0M192.2 110.7h0M207.2 109.7h0M162.7 111.1h0M201.6 113.2h0M188.1 108.6h0M173.8 121.1h0M181.7 109.8h0M181.8 114.3h0M209.1 112.4h0M162.5 113.4h0M187.4 116h0M152.9 100.6h0M211.7 107.1h0M213 109.2h0M135.5 103.6h0M209.8 109.6h0M128.6 103.2h0M213.1 114.2h0M181.6 107.2h0M176.2 105.6h0M180.4 107.6h0M180.5 117.5h0M153 95.3h0M185.4 104.9h0M207.3 103.9h0M192.5 113.9h0M178.8 119.5h0M173.5 106.3h0M123.2 107.7h0M199.3 105.4h0M154.7 112.8h0M130.5 113.6h0M192 101.7h0M149.1 103.3h0M189.2 113.3h0M234.3 124.3h0M176.6 109.6h0M232.7 104.4h0M236.2 112.2h0M203.4 105.3h0M191.4 109.5h0M173.6 112.4h0M146.9 100.6h0M166.9 119.8h0M185.1 111.1h0M182.8 102.5h0M175.6 111.8h0M159.3 110.1h0M167.1 109.3h0M258.2 111.8h0M156.4 101h0M200.4 107.7h0M196.6 107.6h0M195.6 104.8h0M204.1 105.4h0M165.5 110.2h0M159.7 105.6h0M199.6 113.6h0M193.3 99.2h0M210 117h0M176 107.7h0M177.4 108.9h0M208.5 110.3h0M150.2 106.3h0M175.8 110h0M163.8 116.5h0M146.4 111.1h0M150.9 122.1h0M207.7 117.1h0M159.8 107.5h0M116.6 102.2h0M158.6 106.9h0M166 108.8h0M181 110.8h0M131.5 115.7h0M177.3 104.1h0M164.4 107.7h0M182.5 108.6h0M203.7 118.5h0M185.4 111.7h0M170.3 114.3h0M158.2 114.7h0M150.2 98.1h0M221.9 112.2h0M197.4 115.8h0M107.1 116.4h0M182 104.2h0M177.3 115.2h0M172.1 115h0M142.6 110.4h0M168.1 114h0M155.6 114.1h0M184.4 104.5h0M172.9 100.2h0M136.9 107.9h0M148.7 110.3h0M181 108.2h0M207.3 114.3h0M146.5 110.4h0M185.9 114.2h0M201.2 103.8h0M141.9 107.7h0M204.4 120.5h0M183.6 111.9h0M141.8 103.3h0M183.9 113.1h0M189.7 108.1h0M198.1 108.7h0M188.8 116.5h0M167.5 109.7h0M107.4 98.3h0M168.6 115.2h0M131.7 107.8h0M179.2 113.4h0M167.7 114.4h0M159.1 110.4h0M161.8 106.9h0M174.7 109.9h0M188.7 105.2h0M193.7 110.2h0M174.1 114.2h0M169.6 107.2h0M184.1 112.7h0M144.2 116.5h0M186.6 106.2h0M187.9 117.3h0M172.9 109.4h0M154.8 108.2h0M173.2 114.3h0M146.5 105.8h0M187.5 115.1h0M152.3 105.6h0M193.6 112.6h0M219.2 113.5h0M151.3 104.6h0M173.5 108.9h0M179.3 115.3h0M147.9 110.4h0M214.3 116.6h0M213.1 110.9h0M149.9 108.4h0M192.9 115.3h0M123.8 107h0M149.9 107.6h0M129.4 109.5h0M157.6 116.7h0M172.2 109.6h0M164.1 115.6h0M183.8 118.9h0M192 108.9h0M221.3 108.2h0M187.4 109.8h0M179 116.8h0M215.7 109.6h0M171 115.7h0M216.3 109.6h0M148 106.5h0M226.8 112.5h0M188.6 112.9h0M162.3 105.2h0M257 113h0M175.2 106.9h0M170.5 107h0M199.5 116.1h0M150.9 110h0M199.6 110.2h0M210 118.1h0M190.9 114h0M180.9 109.3h0M153.6 110.8h0M148.6 108.4h0M156.6 112.1h0M183.9 113.9h0M207.6 114.7h0M200 110.2h0M151.9 110.7h0M157 111.5h0M171.4 102.1h0M167.6 103.1h0M189.7 117.1h0M119.4 105.4h0M127.6 105.5h0M204.6 109.8h0M173 111.6h0M184.9 112.3h0M164.7 111.9h0M208.1 114.6h0M188 116.3h0M160.2 116.3h0M173.3 107.4h0M186.1 113.2h0M193.9 112.8h0M187.8 109.8h0M192.1 122.5h0M145.2 105.9h0M175.6 100.3h0M172.4 113h0M216.4 109.5h0M226.6 110.1h0M173.2 107.2h0M158.3 112h0M164.2 111.2h0M198.1 113.6h0M186.5 113.2h0M200.8 124.1h0M173 109.7h0M150.9 105h0M183.8 105h0M202.8 108.6h0M174.5 115.5h0M172.7 112.6h0M184.7 113h0M256 120.8h0M208.2 113.9h0M172.2 106.2h0M178.4 116.2h0M188.8 111.9h0M126 107.8h0M151.5 113.1h0M190.6 109.7h0M171 100.5h0M189 113.9h0M184.3 111.4h0M122.4 115.8h0M143 100h0M173.7 111.8h0M164 105.7h0M179 102.9h0M198.3 103.9h0M175.4 108.8h0M167.3 111h0M134.4 111.7h0M154.2 112.7h0M209.2 110.6h0M209.4 107.9h0M201.7 106.9h0M163 106.4h0M170.2 112.8h0M208.6 101.9h0M153.5 101.8h0M199.4 115.3h0M185.3 109.2h0M187.8 112.6h0M145.8 109.3h0M200.2 107.9h0M195.1 106.3h0M153.2 109.9h0M187 106.4h0M182.3 108.5h0M181.7 101.2h0M123 108.7h0M241.1 111.9h0M131.9 108.4h0M142 112.4h0M184 103.1h0M190.1 108.1h0M204.1 110.7h0M156.6 110.3h0M186.9 112.2h0M161.4 111.7h0M140.3 113.9h0M176 112.2h0M179.3 104.3h0M185.9 111.1h0M148.6 114.5h0M187.8 115h0M189.2 115.9h0M181.7 111.1h0M203.6 113.4h0M168.9 109.2h0M179.7 103h0M171.8 112.9h0M170.3 108.2h0M184.3 107.7h0M143.3 98.1h0M224.9 112.5h0M147.7 108.8h0M188.8 121.2h0M178.7 117.4h0M189.9 104.8h0M204.5 118.5h0M213.3 107.8h0M169.2 108h0M216.7 113.6h0M177.9 113.2h0M207.6 121.5h0M214.3 116.4h0M201.8 118.9h0M154.6 112.5h0M199.3 118.8h0M193.6 114.1h0M209.8 113.2h0M190.6 111.9h0M223.7 114h0M177.7 101.6h0M180.3 107.6h0M159.7 109.1h0M120.9 108.1h0M162 116.9h0M142.5 104.2h0M189.1 117.9h0M224.2 115.5h0M169 109.2h0M149.6 117h0M159.5 104.6h0M202.4 118.7h0M208.8 111.6h0M191 110.9h0M188.8 115.6h0M155.3 113h0M169 107.5h0M147.6 102.3h0M162.3 112.7h0M196.1 109.3h0M169.8 115.2h0M153 117h0M207.3 106.8h0M225.6 110.1h0M186.8 107.5h0M202.4 112.7h0M187.2 101.2h0M135.5 115.5h0M154 106.3h0M208.4 113.3h0M195.3 111.5h0M185.9 113.4h0M177.6 110.7h0M207 101.6h0M132.4 106.6h0M178.2 106.3h0M205.2 108.1h0M198.8 115.7h0M135.2 101.5h0M208.9 116.1h0M211 108.8h0M116.2 104.3h0M153.3 104.4h0M161.1 113.4h0M139.2 110.2h0M204.1 114.7h0M131.2 99.2h0M225.1 109.2h0M164.7 115.7h0M136.8 106.6h0M211.3 116.7h0M178.3 111.9h0M171.8 108.1h0M231.3 115.5h0M199.9 106.5h0M171.1 111.1h0M144.3 104.5h0M164.9 113.1h0M180 114.6h0M151.9 111h0M216 113h0M191.7 117.8h0M129 100.6h0M168.2 117.3h0M175.6 107.8h0M134.5 113.1h0M184.9 115.1h0M198.5 107h0M189.6 113h0M177.2 113.5h0M175 109.1h0M170.7 106h0M244.2 115.6h0M187 107.2h0M194.7 112.3h0M166.2 105.6h0M194.2 108.9h0M157.9 107h0M198.5 112.2h0M194.7 101.4h0M130.7 106.1h0M148.6 115.8h0M172.4 108h0M179.7 116h0M141.8 111.9h0M178.7 114.5h0M140.1 101.3h0M157 110.6h0M164.4 112.8h0M179.4 112.1h0M194.1 116.6h0M140.5 100.4h0M176.4 107.1h0M208.4 109.2h0M179.3 117.8h0M137.6 104.7h0M195.6 108.7h0M136.1 118.9h0M151.4 115.1h0M182.4 115.5h0M218.6 115h0M164 106.2h0M186.7 115.1h0M199.3 102.6h0M147.1 110.7h0M150.9 118.5h0M194.3 108.1h0M203.2 109.6h0M126.9 108.9h0M161.3 115.4h0M150.1 106.1h0M170.8 101.4h0M190.4 119.9h0M201.2 105.8h0M179.1 116.3h0M223.5 118.3h0M176.2 119.3h0M146.3 117.3h0M206.2 106.3h0M168 116.5h0M176.8 108.9h0M139.3 114.6h0M175.7 107.3h0M180.2 108.7h0M146.3 120.9h0M186.3 115.2h0M175.2 112.3h0M190.7 114.7h0M215.4 111.9h0M191.9 108.3h0M205 109.8h0M133.4 111.9h0M226.1 110.2h0M192.7 109h0M161.9 113.2h0M161.7 104.7h0M187.7 102.8h0M191.2 102.4h0M190.1 116.6h0M223.1 110.7h0M209 110.8h0M169.9 109.6h0M149.4 115.1h0M155.4 112.2h0M143.4 109.9h0M186.2 101.6h0M225.8 112.6h0M201.2 112.5h0M188.4 111.2h0M164.4 109.8h0M140.1 107.2h0M170.9 115.4h0M169 107.8h0M160.8 107.8h0M193.1 104h0M150.2 110.1h0M191.6 104.2h0M185.1 107.4h0M140.4 112h0M221.3 113.6h0M234.3 116.1h0M171.1 117.8h0M194.8 110h0M230.6 111.8h0M171.8 117h0M176.2 106.2h0M197.5 105.7h0M200.8 111.7h0M194 110.4h0M143.7 101.4h0M188.1 115.9h0M188.3 109.7h0M204.2 104.9h0M99.3 105.2h0M218.1 116.5h0M130 107.6h0M187.1 109.3h0M149.5 111.8h0M183.4 107.4h0M235.4 111.4h0M162.6 121.1h0M206.3 112.3h0M175.5 115.2h0M197.5 119.7h0M181.2 110.2h0M186.2 104.8h0M175.8 110.1h0M200.7 118.7h0M170.7 110.1h0M203.3 115.3h0M199.3 109.6h0M139.5 116.2h0M140.9 108.6h0M183.7 107.5h0M199.8 114h0M206.3 107.9h0M190.7 108.9h0M144.7 107.7h0M151.4 115.3h0M169.2 109.7h0M176.9 112.2h0M152.2 108.8h0M159 116.6h0M180.8 103.9h0M167.8 115.3h0M214.5 104h0M170.6 111.4h0M183.9 97h0M181.8 106.1h0M189.9 119.6h0M149.5 115.4h0M189.7 110.6h0M225.2 113.7h0M186.4 110.6h0M182 99.9h0M185.8 104h0M212.3 114.8h0M196.3 113.1h0M181.2 110h0M178.9 112.9h0M219.1 113.4h0M196.7 103.4h0M194.7 106.4h0M214.7 106.9h0M223.4 119h0M229.7 112.4h0M132.5 112h0M141.8 109.4h0M139.3 114h0M186.1 110.2h0M157.4 111h0M175.7 110.2h0M178.2 111.7h0M201.4 119.1h0M165.4 109.6h0M167.8 112.9h0M166.9 109.3h0M211 112.7h0M171.3 108.7h0M172 119.5h0M185.4 112.7h0M163.3 107.1h0M179.5 113.4h0M121.1 116.7h0M178.7 111.2h0M189.8 110h0M165.8 116.2h0M149.6 110.3h0M148.1 106h0M143.5 117.8h0M173.2 118.8h0M221.1 116.9h0M177 111.8h0M156.8 118.2h0M129.4 104.8h0M205.2 101.4h0M139.9 106.6h0M178 106.7h0M164.8 106.8h0M201.9 108.7h0M216.4 112.9h0M218.9 115.5h0M222.2 125.2h0M178.7 114.5h0M178.4 105.8h0M197.2 110.9h0M223.1 119.3h0M156.9 102.8h0M187 120.8h0M187.3 116.6h0M217.2 106.7h0M164 104h0M156.4 105.5h0M193.6 111.8h0M140.9 110.6h0M118.1 111.1h0M129.7 103.1h0M152.9 121.2h0M193.7 109.5h0M165 100.2h0M198.7 111.1h0M161.4 124h0M190.9 106.6h0M162.8 116.8h0M177.2 118.5h0M178.5 107h0M218 110.9h0M183.5 107.3h0M215.1 113.5h0M146 113.2h0M145.2 113.6h0M175.2 108.9h0M182.4 110.5h0M168.9 108.3h0M201.6 107.9h0M217.7 113.5h0M171.7 102.4h0M183.6 108.9h0M169.5 105.8h0M167.7 115h0M176.7 112.7h0M200.3 113.3h0M181.6 111.8h0M187.3 114h0M207.4 118.4h0M168.2 113.6h0M195.4 111.1h0M191.1 112.7h0M159.5 115.3h0M169.5 112.9h0M185.7 109.3h0M204 112.1h0M158.7 114.9h0M179.9 109h0M229.6 111.7h0M224.6 103.5h0M150.8 103.9h0M208.2 105.4h0M178.1 106.1h0M165.7 110.5h0M178.8 102.3h0M172.7 105.9h0M180.1 114.1h0M184.7 107.8h0M159.6 107h0M159.6 114.1h0M184.1 112h0M152.5 117.4h0M178.9 109.5h0M166.3 109.3h0M138.2 107.3h0M189.3 109.8h0M162.2 109.7h0M181.8 105.7h0M185.6 109.7h0M159.3 105.9h0M209.2 114.1h0M195.1 109.8h0M177.1 116.7h0M224.5 121.2h0M186.3 112.7h0M208.4 113.8h0M179.4 107.8h0M190.3 113.6h0M196.2 109.5h0M204.3 114h0M177.1 112.5h0M156.3 108.7h0M189.1 104.4h0M169.8 108.5h0M208.3 112.3h0M180 110.1h0M160.2 114.7h0M207.6 110.9h0M176.4 116.4h0M181.4 105.3h0M148.2 113.8h0M207.4 105h0M219 114.8h0M194.1 114.8h0M192 112.9h0M183.5 104.5h0M187.2 112.1h0M179.8 109.5h0M164.9 109.2h0M194 103.9h0M124.4 114.3h0M146 105.4h0M242.2 112.1h0M181.5 105.4h0M114.5 109.2h0M96.9 106.9h0M165 112.4h0M187.2 113.7h0M207.4 111.7h0M188.3 99.1h0M166.6 105.9h0M156.7 104h0M203.5 110.9h0M204.2 104.1h0M214.3 112h0M176.9 105.4h0M140 112.1h0M191 108.5h0M226.9 104.2h0M186.8 108.9h0M144 110.3h0M185.1 112h0M179.9 107.9h0M153.5 112.4h0M132 103.6h0M150.9 117.6h0M198.4 112.4h0M203.5 113.3h0M233.7 109.4h0M182.3 110.3h0M173 106.7h0M230.4 114.5h0M150 106.8h0M206.1 118.6h0M160.3 114.7h0M192.9 108.8h0M159.3 115.2h0M196.1 120.9h0M195.1 112h0M228.2 107.9h0M163.3 111.4h0M171.1 113.8h0M180.5 106.2h0M139.2 110.3h0M217.1 108.6h0M157.2 113.6h0M156.2 117.3h0M208.1 111.4h0M160.3 116.7h0M168.4 112.7h0M222.9 114.4h0M181.3 105.8h0M195.6 112.1h0M121.8 102.1h0M193.8 113.2h0M176 115h0M155.1 116.7h0M191.3 108.7h0M182.9 107.2h0M192.2 110.6h0M155.5 107.1h0M209 108.9h0M210.6 114h0M153 103.9h0M163.3 109h0M173.4 110.4h0M171.3 112.9h0M132.3 100.1h0M183.6 119.8h0M154.9 115h0M159.2 121.8h0M193.2 103.6h0M172 107h0M193.8 117h0M209.8 119.6h0M163.5 111.8h0M210.7 111.3h0M175.1 114.3h0M180.7 110.6h0M197.2 104.9h0M197.3 111.3h0M174.4 103.1h0M183.5 110.9h0M224.6 105.1h0M193 111.7h0M162 105.1h0M166.7 105.8h0M158.2 109.4h0M188.7 110.4h0M184.4 109.1h0M149.4 114.7h0M174.5 102.2h0M175.1 114.8h0M161.4 109.9h0M208.7 114.4h0M192.8 110.3h0M169.2 114.7h0M174.4 113.9h0M192.2 119.3h0M207.3 108.2h0M193.2 104.3h0M193.8 119.1h0M179.7 108.6h0M160.8 115.2h0M189.5 108.7h0M167.4 111.4h0M165.3 112.8h0M176.9 105.7h0M137 110.7h0M219.8 110.7h0M182.3 107h0M152.6 115.3h0M135.8 115.8h0M184.7 107h0M167.7 113.4h0M188.7 108.2h0M184.9 119.7h0M164.4 121.8h0M184.6 114.8h0M161.5 103.1h0M212.2 109.7h0M185.4 110.1h0M163.3 110.3h0M227.3 116.5h0M161.4 109.3h0M201.2 107.7h0M153.6 110.4h0M171.6 116.1h0M180.3 112.9h0M201.9 109.5h0M158.4 109.6h0M169.2 113.2h0M165.9 105.3h0M167.8 118.1h0M158.5 106.2h0M233.4 117.5h0M169.2 111.8h0M142.3 107.5h0M177 109.3h0M235.6 114h0M198.6 107.6h0M162.1 112.8h0M218.2 108.8h0M182 115.8h0M200.9 109.1h0M234.5 106h0M198.9 110.2h0M179.9 113.2h0M186.2 109.8h0M195 106.3h0M186.3 113.4h0M199 104.3h0M157 108h0M192.4 108.7h0M191.2 111.6h0M175.7 102.8h0M222.6 118.7h0M113.5 106.3h0M161.1 112.4h0M137.6 107.5h0M176.9 113.1h0M201.3 100.4h0M216 106.7h0M167.8 107.3h0M177.4 105.3h0M193.2 111.4h0M192.5 114.5h0M198.6 104.5h0M169.1 107.8h0M135.8 104.8h0M200.8 116.2h0M222.9 111.8h0M134.1 115.3h0M200.7 112.7h0M206.5 118.8h0M175.8 106.1h0M161 106.9h0M169.2 108.7h0M186.6 100.7h0M146.7 105.9h0M211.9 117h0M180.4 100.2h0M205.2 125.2h0M172.3 118.3h0M186.1 114.3h0M164 114h0M185.9 113.1h0M155.2 110.9h0M188.7 115h0M206.7 119.3h0M188.8 112.8h0M218.5 115.1h0M161.4 116.2h0M229.1 109.7h0M150.6 111.2h0M153.9 102.8h0M189 120.4h0M183.7 106.7h0M178.4 108.5h0M175.5 109.6h0M183.8 114.1h0M187.2 110.2h0M177.4 113.8h0M152.4 108.6h0M199.4 122.5h0M164.7 104h0M201.7 114.8h0M212.9 116.5h0M158.2 101h0M167.2 111.2h0M136.2 113.8h0M148.3 110.2h0M131.4 104.1h0M169.2 113.1h0M162.1 106.7h0M217.6 114h0M219.6 104.8h0M212.7 110.6h0M140.2 106.2h0M167.9 109.4h0M130.1 110.2h0M184.3 115.2h0M185.9 103.3h0M184.2 114h0M239.3 122.8h0M154.8 107.9h0M163.2 120.6h0M185 107.1h0M158 103.2h0M191.1 105.7h0M139.3 109.2h0M219.3 102.9h0M212.1 111.9h0M183 113.7h0M206.5 114.9h0M181.5 120.3h0M139.8 101.1h0M179.8 109.7h0M122.1 108.8h0M231.4 119.5h0M117.4 109.2h0M164.7 111.1h0M146.1 115.7h0M146.6 106.5h0M177.1 106.8h0M150.7 106.9h0M167 109.8h0M202.3 111.4h0M169.3 118h0M180 107.1h0M162.1 110.4h0M132.9 115.2h0M188.7 105.1h0M170.4 118.1h0M168.6 117.5h0M171.2 101.5h0M186 111.6h0M205 113.4h0M186.9 110.1h0M189.8 117.9h0M196.6 107.3h0M119.5 121.1h0M155.2 102.9h0M178.9 107.5h0M192.6 107.1h0M161.9 112.8h0M188 108.2h0M193.2 109.6h0M165.8 105.1h0M190.5 106.2h0M112.6 103.6h0M115.3 107.4h0M161.1 109.5h0M166 111.7h0M183.3 109.2h0M157.7 121.7h0M158.1 107.4h0M156.5 107.9h0M168.8 114.7h0M208.6 104.1h0M175.7 110.8h0M203.2 117.8h0M155.7 104.6h0M201.7 113.8h0M158.2 108.3h0M141.8 111.6h0M172.3 121.9h0M193.7 107.7h0M206.1 118.4h0M144.9 113.2h0M144.4 99.8h0M152.9 111.2h0M183.7 108.7h0M216.1 117.1h0M201.2 110.8h0M147.8 108.8h0M141.8 101.7h0M159.3 105.3h0M212.2 114.8h0M154.9 109.2h0M151 105.4h0M182.9 114.4h0M160.4 106.6h0M140.5 101.4h0M157.8 110.8h0M154.2 102.2h0M199.9 105.3h0M195.4 110.9h0M222.6 109.2h0M189.8 108.4h0M197.6 110.1h0M174 118h0M232.2 118.7h0M122 111.9h0M229 106.8h0M162.6 108.8h0M177.7 120h0M169.6 109h0M209 117.4h0M119.2 115.9h0M187 110.6h0M182.3 110.1h0M168.7 116.7h0M190.2 109.3h0M193.5 105.3h0M145.8 120.5h0M131.5 98.9h0M154.3 107.9h0M177.9 107.2h0M262.7 116.2h0M173.9 113.3h0M184.8 108.4h0M152.8 103.5h0M208.5 109.7h0M175.4 111.7h0M135.1 106h0M152.7 112.1h0M204.5 116h0M164.6 106.1h0M227.2 115.7h0M207.4 114.8h0M188.5 108.8h0M148.4 104.7h0M225.6 112.2h0M185.4 116.5h0M225.3 112.1h0M144.8 105.8h0M139.9 112.5h0M122.3 102.1h0M236.5 115.8h0M161.1 112.8h0M163.5 107.5h0M216.7 116.8h0M189.9 119.6h0M218.4 112.6h0M159.9 102.8h0M175.5 104.1h0M206.6 103.9h0M157.3 109.6h0M188 111.9h0M218.4 115.5h0M204.7 105.2h0M127 113.4h0M154.6 112.4h0M188.6 111.9h0M180.4 112.9h0M176.2 108.3h0M197.9 115.1h0M175.3 114.1h0M173.6 117.3h0M203.4 108.4h0M175.1 113.8h0M166.3 113.4h0M137.7 101.5h0M264.8 119.6h0M147.6 106.8h0M194.3 118.7h0M127.8 106.3h0M126 102h0M165.3 109.8h0M178.3 113.3h0M174.6 111.9h0M211.1 112.3h0M177.5 113.1h0M161.7 113.5h0M178.6 102h0M207.7 110.6h0M222.2 107.5h0M183.8 111.6h0M149.5 108.4h0M170 117.8h0M144.6 100.3h0M184 108.5h0M183.6 113h0M190.5 106h0M170.2 107.9h0M205.3 113.9h0M182.8 114.3h0M194.2 113h0M208.5 115.4h0M222.8 113.8h0M156.2 114.1h0M195.8 115.3h0M225.8 106.4h0M192 117.9h0M177.7 114.1h0M130.7 106.9h0M236.2 115.3h0M199.6 105.4h0M153.1 111.3h0M185.4 108.7h0M148.2 108.5h0M175.5 106.1h0M136.3 111.8h0M165.1 111.7h0M197.3 114.3h0M250.3 116.6h0M200.4 106.7h0M203.7 112.6h0M156.5 111.1h0M195.8 110.7h0M193.6 108.5h0M155.1 114.2h0M216.2 114.3h0M136.7 100.4h0M156.4 114.3h0M203.8 116.9h0M155.4 104.9h0M156.8 98h0M180.9 98.1h0M181.7 110.5h0M161.5 111.1h0M165.2 110.3h0M198.6 117.4h0M154.2 119.7h0M217.9 112.5h0M178 110.9h0M204.8 110.1h0M200.7 112.3h0M175.1 110.8h0M129.4 103.7h0M136.8 113.8h0M196 111.1h0M199.7 103.4h0M227.3 105.9h0M172.4 100.8h0M155.2 110.2h0M204.5 112.6h0M175.2 112.2h0M214.2 123.6h0M211.8 106.9h0M176.4 107.9h0M152.9 104.5h0M258.8 118h0M215.1 112.3h0M169.4 112.6h0M173.3 116.4h0M142.6 101.5h0M177.9 108h0M186.5 108.7h0M138.2 113.7h0M195 106.6h0M148.2 112.3h0M150.2 106.5h0M187.4 110.8h0M161.2 108.4h0M179.2 114.2h0M187.1 114.1h0M203.4 108.6h0M160.3 107.2h0M180.1 114.1h0M154.3 117.6h0M148.6 107.9h0M210.1 114.8h0M182.5 109.2h0M198.9 109.3h0M210.6 108.2h0M158.3 108.1h0M116.7 109.2h0M178.9 107.9h0M170.4 106.4h0M213.1 115.9h0M164 108.9h0M191.2 110.5h0M200.2 117h0M198.7 105.9h0M207.5 109.7h0M172.1 108.5h0M176.4 118.1h0M162.4 110.3h0M164.8 114.6h0M172.2 112.2h0M180.2 111h0M182.9 106.1h0M181.9 108.9h0M146.2 123.4h0M167.8 107.1h0M169.4 113.3h0M145.7 105.3h0M164.5 109h0M208.1 109.2h0M237.3 113.5h0M203.5 108.3h0M161.1 109.8h0M163.5 115h0M186.2 114.6h0M222.5 115.8h0M164 109.7h0M164.7 109.9h0M162.4 116.8h0M114.9 114.4h0M218.3 110h0M182.4 113h0M174.5 109.1h0M141.8 113.1h0M154.9 103.9h0M150.6 104.1h0M166.1 97.3h0M176.3 110.4h0M213.9 107.8h0M203 116.6h0M208.2 103.8h0M175.6 112.8h0M149.6 104.8h0M186.1 110.9h0M145.9 101.8h0M201.3 111.6h0M217.2 116.6h0M201.5 116.2h0M215.4 113.3h0M210.5 113.8h0M188.8 105.7h0M154.6 109.3h0M156.3 105.8h0M162.5 111.8h0M173 105h0M150.9 109.8h0M169.7 112.9h0M157.6 110.7h0M183.5 118.2h0M184.5 116.5h0M178.7 99.9h0M152.9 110h0M171.6 105.8h0M165.9 118.6h0M136 108.3h0M185 105.9h0M164.2 107h0M150.3 103.5h0M176.5 113.8h0M183 102.6h0M156.1 115.7h0M151.6 115.1h0M177 109h0M174 109.6h0M209.5 113.2h0M145.4 120.2h0M184.7 114.1h0M171.8 108.5h0M190.5 118.5h0M153.2 109.4h0M174.6 105.1h0M165.1 119.9h0M209.1 119.5h0M152.8 107.9h0M150.5 97.9h0M184.6 108.4h0M166.9 99.8h0M187.2 125.5h0M214.3 138h0M144.4 112.5h0M171.9 128.6h0M226.7 97.3h0M131.1 111.4h0M142.6 121.8h0M204.1 114.6h0M162.5 114.9h0M122.1 100.5h0M138.1 99.4h0M149.2 122.1h0M223.1 113.8h0M142.4 123.1h0M189.6 92.2h0M190 121.3h0M124.1 124.9h0M162.1 113.1h0M141.7 99.8h0M130.3 125.4h0M185.5 110.1h0M151.8 103.9h0M113.2 95.2h0M249.7 91.1h0M171.2 90.9h0M168.7 99.1h0M159.1 113.7h0M186.6 138.7h0M158.7 94.1h0M55.6 111.3h0M201.7 112h0M174 98.4h0M179.4 140.6h0M130.8 120.1h0M172.1 122h0M162.7 94.8h0M55.3 101.4h0M202.2 108.5h0M167.2 115.4h0M180.5 113.1h0M139.2 106.2h0M135.3 116.8h0M153 131h0M189.6 117.1h0M122.4 117.2h0M114.3 97.8h0M186.2 90.7h0M145.1 107.2h0M129.9 127.2h0M163.3 111h0M201.7 119.7h0M208.4 103.9h0M133.5 118.5h0M131.9 94.3h0M145.8 104.9h0M201.3 119.5h0M148.2 111.8h0M137.3 132.5h0M130.1 111.9h0M173.9 93.6h0M97.5 109.8h0M123 101.4h0M193 114.6h0M222.4 121h0M146.6 129.7h0M141.8 114.8h0M192.1 99.8h0M156.5 125.6h0M154 121.7h0M149 121.4h0M133.7 116.9h0M147.3 118.4h0M114.3 114.4h0M188.3 108h0M145.9 130.8h0M117.5 131.2h0M142.4 120.2h0M99.7 107.7h0M108.6 125h0M139.4 105.7h0M236 120.8h0M156.3 121.2h0M159.1 118.4h0M259.6 130.1h0M162.5 126.3h0M180.1 122.9h0M188.3 130h0M246.1 113.6h0M100.1 107.3h0M149 130.9h0M183.3 122.8h0M194.4 123.2h0M200.6 114.3h0M180.1 114.2h0M152.9 120.8h0M183.6 107.2h0M151.3 87.8h0M230.2 130.8h0M207.5 117.1h0M175.4 126.3h0M228.7 126.7h0M163.6 125.4h0M239.2 100.3h0M117.1 121.9h0M180.3 121.7h0M153.4 129.9h0M176.1 130.1h0M197.9 85.8h0M154.4 95.4h0M180.7 124.7h0M153.7 128.4h0M171 107.4h0M201.5 119.8h0M121.9 117.2h0M229.3 112.7h0M164.3 142.5h0M150.4 109.3h0M131.2 99.1h0M145.5 127.2h0M144.9 117.4h0M204.1 123.4h0M99.9 117.2h0M186.2 96.7h0M124.6 97.5h0M192 110.5h0M137.9 127.4h0M130.9 104.4h0M174.8 102.7h0M234.7 116h0M164.9 92h0M117.9 121.9h0M152.8 121h0M172 126.8h0M210.1 133.4h0M136.2 137.5h0M114.3 108.8h0M190.2 118.7h0M198.2 108.4h0M145.1 116.7h0M180.4 90.8h0M150.2 111.5h0M187 100.8h0M182.5 102.7h0M126.9 119.5h0M94.3 116.8h0M253.8 113.1h0M170 112.8h0M172.1 132.9h0M140.8 118.4h0M173 127h0M162.7 125.4h0M117.4 124.5h0M136.6 105.6h0M216.7 108.9h0M158.7 123.2h0M108 122.8h0M225.1 101.6h0M175 119.3h0M166.8 110.8h0M166.4 110.8h0M137.9 115.6h0M153.6 102.6h0M120.3 99.9h0M163.5 122.5h0M167.5 114.6h0M158 110.8h0M145.1 137.4h0M192.6 116.5h0M228.8 111.3h0M92 100.6h0M141 109.3h0M249.5 102.4h0M125.8 117.3h0M106.7 107.8h0M187.6 129h0M183.6 104.4h0M196.8 124.6h0M140.8 130.2h0M118.4 112.2h0M168.1 99.8h0M176.9 120.2h0M113.4 96.8h0M172.8 116.5h0M129.2 129.3h0M190.3 128.3h0M188.5 108.3h0M152.4 136.4h0M182 98.5h0M135.9 131.9h0M207.3 114.3h0M143.4 100.8h0M156.3 110.5h0M151.7 125.5h0M174.8 126.9h0M100.5 122.9h0M212.7 102.4h0M247.7 103.7h0M226.8 113h0M150.4 110.3h0M131.2 106.9h0M149.9 112.9h0M134.9 117.8h0M203.2 118.8h0M141.5 112.6h0M199.5 118.4h0M123.1 135.6h0M116.7 102.8h0M163.4 110.1h0M206.7 112.6h0M184.6 122.4h0M106.7 108.3h0M163.1 108.9h0M127 117.9h0M241.7 126.6h0M170.3 99.8h0M158 114.5h0M87.3 106.4h0M150.2 100.1h0M163.3 120.7h0M182.9 119.1h0M147.5 96.9h0M203.2 114.7h0M196.7 105.8h0M188.3 115.5h0M169.3 111h0M187.7 111.7h0M146.2 117h0M183.7 128.3h0M166.3 106.7h0M172.9 119.6h0M165.8 122.1h0M203.2 120.7h0M104.7 131h0M177.8 113.5h0M149.1 132.3h0M161.1 126.5h0M142.2 116.1h0M138.1 112.2h0M139.2 121.8h0M158.2 98h0M225.3 104.4h0M139.3 116h0M200.6 106.1h0M106.1 116.7h0M139.2 106.8h0M190.4 122.7h0M246.3 119.5h0M257.5 118.1h0M163.5 92.6h0M147.1 121.9h0M221.5 116.5h0M184.4 131.5h0M233.2 103.9h0M179.9 107.3h0M148.1 121.9h0M108.2 111.5h0M212.6 105.5h0M200.8 107.3h0M132.4 132.1h0M190.5 114h0M203.3 119.4h0M133.9 110.6h0M145.9 136.2h0M144 126.8h0M125.2 122.8h0M201.9 87.2h0M230.9 121.1h0M209.1 116.9h0M181.6 124.3h0M163.9 136.6h0M233.3 125.4h0M188.4 123.2h0M176.7 130.5h0M152.7 104.8h0M188.7 139.8h0M198.3 132.1h0M177.3 109.7h0M142.8 119.9h0M157.5 111.1h0M200.6 99.3h0M178.8 91.6h0M131.4 94.2h0M156.9 106.6h0M162 115h0M132.5 111.3h0M241.9 114.2h0M165.9 116h0M193.2 118.5h0M166.5 113.4h0M215.1 104.4h0M127.5 123.8h0M167.4 105.7h0M202.7 118.6h0M245.7 118h0M218.9 98.6h0M226 113.6h0M188.1 134.7h0M100.5 123.5h0M193.4 103h0M162.8 103.3h0M141.9 107.1h0M92.2 140.7h0M106.8 143.8h0M166.4 142.1h0M109.7 134.5h0M148.9 135.4h0M145.5 121h0M114 162.6h0M107.7 146.7h0M166.1 139.1h0M104.2 123.5h0M129.9 142.2h0M153.7 115.8h0M135.1 139.7h0M108.7 158.1h0M137.4 123.3h0M107.6 128.5h0M203.7 145h0M89.6 120.2h0M118.9 135.9h0M142.9 130.7h0M151.4 121.5h0M155.3 127.2h0M79.2 109.5h0M89.7 114h0M134.4 148.7h0M130.2 116.3h0M105.3 128.3h0M111.7 143.2h0M114.5 110.7h0M144.4 129.3h0M126.8 127.1h0M135.2 126.3h0M89.3 115.8h0M109 166.1h0M144.8 146.1h0M125.4 130.3h0M115.1 121.3h0M122.4 132.9h0M106.8 132.9h0M104.9 128.3h0M159 114.5h0M138.5 148.4h0M152.3 115.6h0M176 161.1h0M129 133.7h0M153.6 144.5h0M119.9 95.8h0M151.5 157.4h0M129.1 109.4h0M114.5 120.4h0M130.9 149.8h0M114.3 112.7h0M155.9 137.6h0M154.5 139.1h0M134.3 129.3h0M100 124.4h0M119.7 168.2h0M109.6 141.1h0M109.5 143h0M112.8 164h0M149.1 128h0M134.5 132.8h0M130.1 132.8h0M103.6 150.7h0M130.4 114.4h0M134.1 105.9h0M97.3 132.8h0M114.5 111.4h0M167.6 136.5h0M145.5 132.5h0M105.7 130.6h0M104.7 106.8h0M142.2 112h0M136.9 163.9h0M147.1 127.7h0M73.8 127.6h0M151.9 104.5h0M105.1 117.7h0M136.3 131.5h0M122.1 121.4h0M141.9 119.6h0M119.3 148h0M159 110.4h0M115.7 129.5h0M147.2 154.3h0M140.1 94.3h0M134.9 139.2h0M175.6 128.9h0M133.5 135.2h0M132.8 154.8h0M99.2 150.3h0M149.4 130.4h0M155.2 158.3h0M114.9 108.1h0M110.4 155.9h0M111.5 134h0M128.4 110.3h0M159.2 106.8h0M142 136.3h0M117.3 150.3h0M157.9 111h0M130.7 141.9h0M144.2 122h0M132.2 145.8h0M134.2 137.2h0M145.6 120.5h0M138.8 135.2h0M163.7 117.9h0M157.8 117h0M143.9 123.4h0M104.1 155.3h0M107.2 120.2h0M149.6 126.5h0M130.7 102.7h0M119.5 154.8h0M93.1 133.7h0M144.7 118.5h0M123.6 117.3h0M127.6 139.5h0M253.4 117.8h0M289.1 108.3h0M271.1 125.5h0M323.4 112.9h0M267.6 126.1h0M245.5 119.3h0M245.8 110.3h0M303.9 115.8h0M234.2 128.7h0M271.2 110.6h0M259.9 110.4h0M259.2 125.4h0M230.4 119.6h0M321.5 127.1h0M291.5 120.7h0M249.1 109.6h0M267.1 127.9h0M319.6 118.3h0M321.9 133.9h0M232.2 112.4h0M321.3 127.4h0M263.4 124.5h0M329.2 111.4h0M309.7 118.3h0M259 114.5h0M302.1 122.5h0M269.7 119.8h0M307.5 117.9h0M299.6 107.1h0M241.5 107.3h0M259.1 122h0M317.8 117h0M324 124.2h0M228.6 117.6h0M224.2 120.4h0M267.3 117.6h0M328.3 125.3h0M264 114h0M235.9 108.1h0M278.2 120.1h0M264.8 116.6h0M272.6 112.7h0M267.2 110.2h0M239.9 115.6h0M222.4 110.9h0M305.5 115.6h0M317.7 119.7h0M266.6 107.8h0M277.6 119h0M223.9 113.9h0M292.4 120.5h0M321.1 125.4h0M309.8 120.5h0M279.4 115.8h0M290.9 118.2h0M271.8 115.6h0M220.2 113.9h0M248.1 122.5h0M267.1 116.4h0M237 111.3h0M309.3 127.7h0M255.9 113.6h0M308.3 126h0M261.1 120.6h0M280.3 112.7h0M292.9 105.7h0M277 119h0M254.4 117.6h0M242.6 114.5h0M267 117.4h0M315.3 118.6h0M250.7 123.6h0M242.8 116.2h0M298.7 123.2h0M256.2 115.5h0M309.2 126.5h0M328.6 132.2h0M217.5 102.7h0M316.3 114h0M260.6 115.1h0M304.1 120.9h0M305.7 116.4h0M279 117.4h0M220.5 119.3h0M304.2 118.3h0M216.4 107.3h0M245.8 119.6h0M288.8 125.9h0M266.8 117.6h0M239.8 122.4h0M277.3 124.3h0M238.9 119.5h0M251.7 116.9h0M256 114h0M299.5 121.9h0M299.7 120.6h0M229.6 114h0M227.3 116.7h0M245 119.2h0M317.1 120.8h0M323.3 122.7h0M295.6 110.5h0M280.3 118.1h0M325.3 108.4h0M217.8 115.3h0M238.9 110.7h0M265.4 115.7h0M311.6 120.7h0M251.5 104.6h0M247.4 114.4h0M240.5 111.1h0M229.9 110.7h0M236.8 114.5h0M267.2 110h0M251.1 124.3h0M298.8 120.5h0M255.5 108h0M280.3 122.2h0M270.5 118.3h0M317.2 118h0M285.6 108.6h0M317.4 113.6h0M220.1 114.5h0M277.4 121.1h0M311.4 123.6h0M292.1 113.7h0M238.2 118.4h0M328.3 125.1h0M237.7 115h0M247.6 116.8h0M229.7 110.3h0M236.2 109.4h0M306.9 113.8h0M314.4 116.1h0M230.7 112.3h0M269.9 108.4h0M322.5 123.5h0M325.4 116.6h0M255.5 105.3h0M239.1 117h0M278.5 115.2h0M313 121.1h0M304.5 119.5h0M227.7 120.8h0M325.5 113.8h0M298.7 113.7h0M252.5 117.8h0M301.9 124.2h0M221.3 108.8h0M307.9 121.8h0M270.1 115.3h0M278.4 121.6h0M219.2 115.3h0M314.2 120.1h0M293.5 131.1h0M324.2 114.6h0M325.3 114h0M299.2 115.1h0M285.4 106.5h0M266.3 115.5h0M284.1 116.4h0M219.6 117.1h0M321.5 120.9h0M231.9 112.7h0M329.7 121.6h0M233 117.8h0M318.6 124h0M231.3 120h0M263.4 116.1h0M264.1 116.7h0M222.8 111.1h0M325 121h0M312.2 120.2h0M295.6 120.3h0M272.5 120h0M274.7 117.1h0M307.7 112.6h0M264.2 108.8h0M246.6 114.9h0M290.1 112.7h0M281.3 113h0M274.7 121.2h0M329 121.1h0M253.8 114.9h0M252 111.8h0M220.3 109.5h0M321.3 131.3h0M295.8 117.8h0M299.5 118.9h0M299.4 123.5h0M239.8 121.3h0M304.7 121.8h0M235.4 119.8h0M308 111.8h0M327.8 118.6h0M228.5 111.5h0M298.8 119.3h0M305.2 127h0M275.1 128.1h0M290.2 122.9h0M291.1 123.6h0M302.6 122.5h0M281.6 114.1h0M264.3 112.6h0M265.6 121.2h0M260.9 118.1h0M265 126.1h0M226.6 103.8h0M218.2 114.1h0M267.5 121.9h0M283.8 120.5h0M218.1 110.3h0M315.9 116.4h0M269.3 118.5h0M253.2 105.6h0M311.6 116.1h0M243.8 115.3h0M307.1 111.7h0M269.8 119.8h0M307.3 117.3h0M314.7 118.7h0M284 120h0M328.6 122.5h0M232.9 119.8h0M223.2 113.7h0M308.5 121.7h0M292.2 129.3h0M322.6 119h0M286.6 112.6h0M264.3 112.5h0M244.8 107.6h0M230.2 117.7h0M242.4 118.6h0M253.3 110.1h0M266.4 115.4h0M298.4 122.1h0M254 103.9h0M253.6 120.1h0M285.4 114h0M287.3 114.8h0M289 119.1h0M230.5 112.9h0M280.2 115.6h0M286.8 114.3h0M319 124.5h0M283.1 118.3h0M247.7 114.7h0M246.2 118.2h0M266.3 114.1h0M238.2 116.3h0M231.3 113.1h0M261.3 111.8h0M302.9 124.2h0M261.5 113h0M304.5 115.1h0M321.3 123.8h0M244.9 108.9h0M294 119.6h0M259.8 116.6h0M317.2 117.7h0M257.3 117.8h0M276.3 122.9h0M239.9 112.7h0M294 114.5h0M278.2 109.5h0M265.7 116.5h0M224.2 113.8h0M310.1 116.4h0M279 119.4h0M249.5 112h0M248.2 120.5h0M306.2 112.1h0M295.9 113.2h0M229.3 118.9h0M221.4 111.4h0M276.5 114h0M310 124.6h0M243.9 117.8h0M328.2 121.1h0M221.6 118.1h0M328.2 121.6h0M229.7 104h0M290.7 125.2h0M250.2 107h0M227.8 110.9h0M327.8 112.4h0M289.6 120.1h0M247.4 119.1h0M226.2 112.2h0M286.1 118.3h0M256.2 113.8h0M322.4 115.7h0M244.6 111.4h0M291.2 112.3h0M274.5 112.8h0M229 104.5h0M236.2 114.2h0M270.6 110.8h0M279.4 119.2h0M269.7 127.7h0M221.1 112.9h0M252.6 116.6h0M232.6 121.4h0M231 119.5h0M249.9 110.8h0M228.7 120.3h0M294.5 117.3h0M234 119.4h0M291.4 119.7h0M235.1 111.9h0M262.2 112.8h0M279.2 114h0M279.2 125.2h0M226.3 108.5h0M253.9 106.4h0M321.3 124.9h0M303.5 128.3h0M281.6 119.8h0M229.7 114.1h0M316 118h0M253 121.1h0M227.8 110.4h0M296.8 116.3h0M316.7 129.2h0M252.5 110.4h0M295.3 111.9h0M258.7 117.8h0M311.1 117.5h0M268.8 115.1h0M252.9 120h0M274.8 117.6h0M256.6 126.6h0M295.3 127.2h0M302.9 113.6h0M279.6 120.3h0M317.2 117.3h0M307.6 120.5h0M238.6 112.6h0M326.2 112h0M276.6 115.2h0M279.5 122.8h0M279.8 119h0M226.6 111.7h0M232.1 115.3h0M293 124.6h0M295.2 126h0M322.4 120.1h0M243.3 114.8h0M305.1 115.9h0M304.1 114.3h0M234.1 125.2h0M301.5 121.2h0M261.7 120.5h0M325.8 120.5h0M305.5 121.4h0M299.7 123.1h0M271.8 115.6h0M316.8 125.1h0M294.3 125.1h0M308 117.7h0M276.6 116.8h0M318.6 120.7h0M297.7 129h0M233.3 113.6h0M254.8 118h0M258.8 125.5h0M329.6 122.3h0M230.4 115.3h0M225 117.8h0M246.1 117.1h0M267.3 106.8h0M311.8 114.7h0M280 121.9h0M285 116.6h0M255.8 103.2h0M299.1 121.1h0M310.4 117.6h0M255.7 114.7h0M230.7 127.4h0M311.4 113h0M325.6 120.4h0M219 109.6h0M247.5 109.4h0M250.6 113.3h0M293.1 125.1h0M250.5 118.1h0M300.1 122.2h0M270 124.5h0M269.2 117.2h0M269.4 115.5h0M286.5 114.2h0M316.5 111h0M313.6 117.8h0M236.3 119.9h0M247.2 116.4h0M229 128.8h0M217 116h0M284.4 114.2h0M229.1 111.4h0M319.9 124.5h0M253.8 116.9h0M326.4 118.1h0M283.5 117.1h0M278.2 119.2h0M299.9 107.1h0M228.2 115.1h0M258.9 109.8h0M325.4 121.1h0M245.2 102.9h0M246.4 113.2h0M280.2 122h0M322.7 115.6h0M324.2 118.1h0M309.9 122.7h0M218.4 123.9h0M245.3 109h0M258.2 119.4h0M297 120.8h0M290.7 108.9h0M224.5 107.1h0M295.7 120.5h0M225.2 111.3h0M330 119.6h0M306.9 125.1h0M326.8 115.5h0M247.6 118.2h0M275.4 109.1h0M292.6 119.6h0M312.4 125.6h0M313 116.6h0M239 114h0M277.5 118.4h0M281.8 110.8h0M266.4 107.5h0M237.4 120.4h0M265.2 113h0M216.7 106.2h0M231.3 109.7h0M245.4 111.5h0M316.8 130h0M236.2 105.9h0M284.6 117.8h0M257.9 110.6h0M243.3 114.4h0M283.3 114.4h0M224.9 114.1h0M295.5 116h0M266.4 114.4h0M328.7 123.3h0M270.5 113h0M234.8 120.9h0M253.2 111.1h0M307.1 118.7h0M287.8 116.1h0M267.9 114.7h0M301.4 120.5h0M292.7 120.5h0M286 116.2h0M302.7 125.1h0M294.5 117.8h0M285.8 121h0M269.2 115.4h0M279 104.3h0M279.8 127.8h0M253.8 114.5h0M300.5 112h0M244.6 122.2h0M260.9 134.4h0M323.3 127.8h0M315.1 117.4h0M239.5 123.1h0M223.8 101.3h0M251.2 124h0M288.2 117h0M322.3 120.9h0M224.4 113.9h0M220.5 114.4h0M276.3 116.9h0M288.4 115.3h0M263.5 106.8h0M325.7 125.5h0M278.1 112h0M246.3 115.1h0M244.8 115.6h0M252.9 111.2h0M220.5 117.4h0M250.4 122.8h0M228.7 119.9h0M305.1 124.4h0M264.3 112.6h0M266.3 105.2h0M320.9 121.4h0M300.2 120.1h0M220.3 116h0M311 123.4h0M252 122.1h0M246.8 109.7h0M218.6 116.2h0M255.1 117h0M327.8 119.6h0M319.2 120.4h0M263.9 117h0M229 115.4h0M306.3 128.9h0M306.5 119h0M226.9 113.2h0M312.3 117.1h0M243.1 120.4h0M314 116.9h0M216.5 109.9h0M328.3 128.9h0M307.7 115.2h0M282.5 109h0M322 121.5h0M326.1 113.6h0M242.1 110.7h0M253.3 124.1h0M223.2 100.6h0M265.9 104.3h0M272.9 104.4h0M296.3 127.6h0M254.7 116.9h0M263.4 116.8h0M317.5 128.5h0M251.6 110.7h0M281.6 124.7h0M262.8 118.3h0M227.4 114.7h0M251.8 114.5h0M298 117.9h0M299.7 121.8h0M298.6 121.4h0M310.4 122.6h0M280.7 120.3h0M261.3 116.7h0M314.9 117.4h0M288.4 115.4h0M246.4 116.5h0M274.4 113.2h0M277.9 116h0M271.2 111.4h0M289 122h0M283 116.8h0M216.4 117.8h0M328.1 120.5h0M229.1 116.5h0M241.7 116.4h0M218.6 115.5h0M272.6 113.2h0M259.9 116.1h0M239.7 110.7h0M244.1 115h0M253.3 119.9h0M253.3 113.2h0M218.5 108.8h0M272.5 124.3h0M216.6 111.9h0M268.4 105.8h0M239.7 110.1h0M230.2 123.9h0M273.4 119.6h0M252.7 116.7h0M286.8 121.5h0M287 124.6h0M259.4 115.3h0M311.8 119.6h0M314.9 118.6h0M304 120.6h0M235.9 116.4h0M314.3 117.4h0M309.7 117.4h0M323 125.2h0M246 122.1h0M242.9 118.4h0M259.8 108.8h0M237.3 109.2h0M231.8 115.4h0M288.9 111.1h0M276.1 112.2h0M240.2 121.6h0M277.3 115.6h0M233.1 110.9h0M225.1 120h0M291.1 109.8h0M226.3 112.4h0M276.7 110.7h0M219.4 107.7h0M284.8 114.3h0M225.5 113.2h0M283.5 121.7h0M276.7 124.1h0M261.4 105.8h0M264.5 126.1h0M328.9 123.7h0M304 127.4h0M289 120.3h0M325.6 112.5h0M241 116.4h0M281.1 121.2h0M305.4 118.2h0M241.5 116.4h0M265 122.4h0M296.9 121.4h0M330.2 136.8h0M307.5 120.4h0M272.8 109.5h0M323.5 125.5h0M219.3 111.7h0M269.9 121.3h0M228.3 114.8h0M271.5 114.2h0M266.9 115.4h0M256 122.3h0M260.6 116.3h0M231.5 107.6h0M326.9 120.4h0M248.4 118.1h0M300.9 115.6h0M272.5 117h0M231.4 114.6h0M239.8 118.3h0M260.2 112.4h0M326.4 127.4h0M326.1 118.6h0M289.5 126.4h0M254.4 121.2h0M220.4 107.2h0M282.7 119.6h0M223.9 113.7h0M289.6 123.4h0M248.6 111.1h0M247.7 117.8h0M318.2 119.8h0M271.8 113.1h0M328.1 118.6h0M307 117.3h0M224.9 121.4h0M297.5 114.4h0M306.7 111.6h0M257 108.7h0M309.1 130.5h0M270.8 115.1h0M245.7 111.7h0M222 108.5h0M235 109.7h0M314.7 125h0M233.5 120h0M228.6 113.2h0M246.3 107.9h0M274.3 121.2h0M285.8 102.4h0M284.1 144.3h0M222.1 111.9h0M243.7 123.7h0M231.9 133.4h0M268.8 121.5h0M269.9 108.3h0M277.6 106.2h0M251.5 104.8h0M321.4 148.8h0M328.6 113.9h0M267.6 115.2h0M245.6 119.6h0M232.1 143.7h0M274 96h0M267.7 125.3h0M228.3 131.3h0M305.9 119.1h0M237.5 124.4h0M217.7 82.4h0M285.9 105h0M264.6 108.7h0M321.8 120.1h0M242.3 94.1h0M221.8 112.8h0M260.6 117.2h0M327.1 136.3h0M220.2 101.7h0M275.1 126.1h0M282.4 122.6h0M267.2 130.8h0M295.1 102.2h0M230 114.4h0M246.3 116.2h0M288.9 90.8h0M314.8 129.9h0M230.5 112.2h0M270.2 140.1h0M329.8 129.7h0M240.9 121.8h0M231.1 130.5h0M314.1 134.4h0M217.5 84.4h0M246.2 116.7h0M246.4 114.8h0M306.7 127.4h0M318.5 139.2h0M217 122.8h0M285.4 137.1h0M275.3 134.3h0M229.3 114.4h0M225.4 99.9h0M228.5 117.5h0M278.6 99.6h0M257 104h0M243.5 122h0M280.8 114.1h0M265.8 129.2h0M282.1 104.2h0M237 119.3h0M282.6 127.2h0M297.6 110.2h0M218.6 127h0M284.6 122h0M309.8 139.9h0M249.2 115.4h0M245.5 133.4h0M241.8 119.3h0M303.5 134.1h0M245.2 118.5h0M311.7 100.3h0M244.6 134.9h0M224.4 118.9h0M313.9 125.6h0M293.7 128.9h0M294.1 111.1h0M234.6 131.8h0M293.9 106.3h0M283 114.7h0M245.6 113.5h0M219.9 126.7h0M321.6 136.3h0M279.5 109.3h0M275.3 127.4h0M248.4 146.3h0M271.9 114.3h0M216.6 121.3h0M287.4 115.3h0M274.3 147.9h0M303.2 118.6h0M226.3 98.9h0M284.3 117.9h0M290.7 125.2h0M267.8 120.2h0M311.5 126.3h0M230.5 119.7h0M319.4 130.9h0M296.8 124.4h0M321.7 112.7h0M308.3 136.2h0M226.3 138.5h0M255.2 114.3h0M232.7 105.2h0M217.2 130.5h0M223.6 144.9h0M286.7 132.1h0M316.2 111.4h0M237 108.3h0M254.1 111.3h0M221.6 106h0M291.1 137.7h0M303.8 143.6h0M224.9 106.9h0M323 135.3h0M272.4 104.2h0M236.1 108.7h0M328.5 149.8h0M272.5 126.9h0M253.5 129.1h0M268.8 136.4h0M247.7 135.5h0M242.4 109.2h0M234.3 135.3h0M223.9 115.2h0M247.3 109.4h0M304.3 124.6h0M251.2 107.1h0M315.4 116.6h0M304.9 105.1h0M287.1 116.1h0M271.3 127.9h0M237.2 130.5h0M295.6 115.1h0M313.4 116.1h0M281.1 140.1h0M272.4 121.9h0M260.1 122.1h0M256.4 120.2h0M220.8 90.6h0M290.8 122.6h0M234.3 111.8h0M308 130.9h0M290.5 137.5h0M246.8 130.8h0M311.4 142.9h0M312 128.8h0M245.3 128.2h0M225.1 111h0M316.1 129.3h0M278.5 133.8h0M316.6 113.6h0M294.5 117.4h0M277.3 130.2h0M241.7 118.2h0M292.7 137.4h0M319.1 100.2h0M326.9 127h0M228.2 103.1h0M257.3 106.8h0M325.4 118.1h0M303.2 129.2h0M322.5 117h0M222.3 103.6h0M224.2 136.6h0M324.7 131.7h0M264.8 129.5h0M285.7 145.4h0M318.3 128h0M253.5 98.4h0M290.1 120.7h0M291 117.7h0M318.7 121.8h0M257.8 151.4h0M238.5 112.6h0M288.7 107.5h0M300.5 116.8h0M234.3 115.8h0M310.5 154.9h0M306.4 105h0M278.7 127.2h0M310.3 117.5h0M292.5 137.9h0M236.6 123.6h0M314.2 114.6h0M305.4 132.7h0M223.1 79.8h0M223.3 119.2h0M324.6 120.1h0M257.2 137.5h0M277 105.7h0M319.8 123.2h0M312.3 118.4h0M322.1 116.4h0M320.6 120.3h0M326.1 117.3h0M324.4 124h0M332.5 117.6h0M328.9 115.1h0M329.1 119.1h0M325 118.4h0M316.5 117.8h0M318.8 119.1h0M318.6 118.1h0M320.9 112.2h0M323.8 118.8h0M319.1 121.5h0M322.8 121.5h0M321.1 123.5h0M326.3 121.8h0M319.5 119.3h0M319.5 121.1h0M320.8 123.6h0M322 123.3h0M317.6 119.3h0M321.7 125.4h0M321.3 119.9h0M324.9 119.3h0M324.1 118.5h0M320.9 123.2h0M325.7 121.9h0M323 118.3h0M327.1 116.4h0M320 121.8h0M325.4 125.3h0M317.6 118.5h0M320.4 123.6h0M326.5 118.8h0M327 121.6h0M321.8 121.7h0M324.3 127.3h0M320 118.2h0M319.6 120.7h0M323.5 118.8h0M321 124.3h0M330.4 126.4h0M323.5 121.2h0M331.2 113.7h0M327.2 123.9h0M319.5 123h0M320.8 119.7h0M319.6 121.3h0M329.4 115.7h0M315 123.7h0M321.4 116.2h0M321.6 114.2h0M324.6 115.7h0M319.3 121.6h0M327.4 118.6h0M315 121.4h0M323.8 118.4h0M320.3 114.7h0M323.7 115.7h0M324.8 120.2h0M321.6 124.4h0M326.7 118h0M327 121.8h0M318.7 121.8h0M321.7 120.6h0M327.3 123.6h0M320.9 118.2h0M326.9 113.2h0M325.3 123.3h0M318.5 123.2h0M323.3 119.7h0M322.7 122.6h0M322.2 120.8h0M325.6 120.2h0M319.5 124.4h0M329.4 120.8h0M322.3 120.6h0M327.9 121.6h0M323.8 121.3h0M325.5 123.9h0M323.9 117.1h0M328.1 118.5h0M324.3 115.3h0M326.1 115.9h0M317.9 124.2h0M326.5 121.4h0M321.2 123.7h0M329.4 124.5h0M323.5 125.2h0M322.3 113.1h0M318.7 115.1h0M319.3 126.5h0M324.5 124.1h0M316.8 116.8h0M319.9 124.1h0M323.8 121.2h0M327.9 120.2h0M329.9 116.7h0M330.7 116.8h0M323.3 118.7h0M323.1 125.7h0M318 118.1h0M312.9 123.3h0M317.5 120.7h0M318.6 119.7h0M322.2 122.1h0M319.4 127.9h0M323.4 124.8h0M321.8 119.3h0M327.5 118.2h0M329.4 125.2h0M325.9 115.3h0M324.7 124.2h0M324.7 122.2h0M320.3 117h0M322.3 124.2h0M320.1 114h0M319.4 118.3h0M323.8 116.6h0M321.8 123.7h0M320.3 123.9h0M321.7 116.3h0M325.9 121.1h0M325.7 119.6h0M327.9 115h0M321.7 120.6h0M322.3 116.5h0M324.7 117.9h0M326.9 122.6h0M323.6 115.9h0M327 117.8h0M321.8 121.7h0M319.4 121.4h0M322.8 125.3h0M328 123.1h0M324.1 118.5h0M320.7 126.5h0M327.2 119.2h0M322 116.8h0M326.9 123.7h0M322.7 126.4h0M321.9 115.8h0M319.5 117.8h0M316.6 121.5h0M327.1 114.8h0M325 118h0M330.4 128.6h0M315.7 114.2h0M323.3 119.7h0M323.2 122.6h0M323 120.9h0M325.9 118.3h0M327.2 118.6h0M318.9 115.9h0M311.6 120.1h0M324.5 122.3h0M331 124.1h0M318.1 122.2h0M324.8 117.9h0M323.5 118.3h0M320 122.5h0M323.6 125h0M323.8 121.8h0M326 123.9h0M320.8 122.4h0M321.5 123.8h0M321.9 125h0M325.3 118.3h0M323 121.1h0M319.3 123.7h0M322.1 123.5h0M318 120h0M323 121.9h0M319.6 120.7h0M320.1 121.9h0M323.8 118.1h0M326.3 122.5h0M328.2 124.4h0M322.3 116.2h0M321.5 121.8h0M317.9 121h0M321.2 123h0M328.1 123.1h0M330.2 117.7h0M325.8 122.5h0M320.9 127.1h0M324.2 121.4h0M324.7 122.7h0M325.1 125.5h0M313.7 118.9h0M327.6 131h0M328.5 121.7h0M80.7 99.8h0M73.6 91.8h0M75.8 94.5h0M80.7 87.3h0M89.6 99h0M78 98.4h0M70.3 96.8h0M91.4 94.2h0M87.7 94.8h0M78.5 94.1h0M81.4 87.6h0M97.3 93h0M87.1 101.4h0M81 85.9h0M75.3 91.5h0M92.4 95.8h0M80.1 96h0M88.8 94.3h0M94.8 90.2h0M81.9 85.2h0M79.4 96.5h0M80 97.5h0M78.5 94.6h0M89.6 99.9h0M70.2 97.1h0M79.5 92.8h0M75.4 89h0M77.6 95.1h0M82.5 90.2h0M84.6 94.3h0M77.4 93.8h0M85.4 95.6h0M81.8 100.8h0M77.5 90.2h0M94 94.6h0M63.7 87.9h0M80.6 85.3h0M78.5 90.8h0M76.8 89.5h0M91.8 98.1h0M93 84.3h0M80.1 98.6h0M84.4 95.8h0M69.3 98.1h0M84.1 99.7h0M91.1 92.8h0M80.5 89.4h0M74.2 91.9h0M70.6 95.5h0M87.4 96.2h0M81 92.1h0M94.9 89.8h0M85.9 95.3h0M69.8 88.3h0M97.8 102h0M89.4 94.5h0M88 93.2h0M80.4 94.4h0M81.7 90.2h0M79.8 96.3h0M87.5 92.1h0M85.7 93.4h0M94.4 90.4h0M83.8 95.1h0M87.6 101h0M77.6 96.9h0M83.4 95.7h0M102.8 91.7h0M85.4 86.4h0M82 95.5h0M92.4 91.4h0M89.8 90.1h0M78.9 96.7h0M75.9 94h0M90.4 98.1h0M77.5 99.1h0M98.9 91.5h0M83.8 98.7h0M73.3 96.6h0M82.3 98.9h0M80.1 90h0M82.1 94h0M64.3 95.3h0M80.8 96.8h0M70.3 94.6h0M73.4 96.3h0M68.5 94.7h0M89.7 97.3h0M84.7 99.7h0M86.9 92.4h0M78.7 91.2h0M74.6 94.2h0M96.2 94.4h0M72.5 90.3h0M86.5 95.3h0M66.7 101h0M69.2 89.1h0M84.5 97.4h0M91.7 89.2h0M74.9 92.6h0M68.1 93h0M97.3 99.4h0M82.5 96.6h0M81.2 94h0M84.3 91.2h0M86.3 90.6h0M90.5 90.5h0M76.3 92.9h0M78.8 97.4h0M98.5 93.3h0M82.4 101.8h0M80 91.6h0M80.3 96.3h0M94.4 95.5h0M79.2 94.7h0M80 90.6h0M86.8 94.6h0M79 95.2h0M96.2 95.4h0M87.5 100h0M84.7 91.9h0M92.7 93.2h0M86.9 93.2h0M91 87.1h0M83.7 97.3h0M87 94.8h0M87.4 91.6h0M83.3 95.9h0M84.6 98.8h0M84.3 97.5h0M85.8 93.9h0M80.2 98.6h0M82.4 96.8h0M80.8 91.9h0M90 98.9h0M89.8 89.5h0M91.4 93.4h0M81.2 88.2h0M79.3 99.8h0M82.8 93.3h0M73.3 98.7h0M98.6 94h0M88.5 96.4h0M69.3 95h0M93.2 96.7h0M67 95h0M79.6 94.3h0M73.2 95.5h0M77.4 91.2h0M83.3 91.3h0M81.6 102h0M65.6 92.5h0M89.3 91.2h0M81.4 100.7h0M77.9 92.9h0M93.6 95.6h0M77.3 97.1h0M90.5 91.3h0M66.7 90h0M74.3 99.6h0M68.6 96.9h0M101.4 85.3h0M71.6 96.8h0M83.3 92.9h0M78 100h0M78.5 96.8h0M67 93.8h0M69.7 100.5h0M94.7 91h0M94.1 93.9h0M78.5 94.7h0M70.5 91.7h0M84.3 95.4h0M66.3 94.8h0M95.7 89.2h0M89.4 95.6h0M83.2 92.4h0M83.6 90.6h0M76.4 102.6h0M61.7 97.6h0M70.4 92h0M91 94.4h0M86.5 94.1h0M83.5 96h0M78.6 90.1h0M79.8 94.5h0M92 90.9h0M78.7 93.5h0M73.5 93.9h0M84.7 94.4h0M83.4 93.1h0M60.8 97.3h0M82.6 96.1h0M73.9 95.2h0M95.5 95.2h0M76.6 96.1h0M72 92.6h0M73.7 91.1h0M89.6 92.3h0M90.7 94.7h0M67.2 94.6h0M87.4 99.9h0M71.8 90.5h0M85.7 89.6h0M87.6 94.1h0M85.6 91.3h0M81.8 95.1h0M84.6 95.5h0M102.3 97.1h0M69.3 99h0M90.8 95.8h0M83.3 95.1h0M84.3 99.5h0M82.7 96.4h0M91.1 92.1h0M71.4 97.8h0M86.8 90.1h0M88.5 94.9h0M91.4 102.8h0M77.5 97.8h0M73.3 92.4h0M84.4 93.3h0M80.9 92.1h0M88.6 96.4h0M89.9 97.7h0M96.9 99h0M79.6 98.2h0M82.4 89.7h0M75.7 88h0M93.9 93h0M77.1 91.1h0M57.9 97.1h0M90.1 94.5h0M103 96.8h0M70.8 95.1h0M86.9 88.3h0M67.1 93.8h0M92.7 96.8h0M78.2 98.7h0M88.5 91.4h0M122.6 104.6h0M128.2 109.2h0M124.4 97.3h0M132.6 101.2h0M115.4 98.7h0M92.3 129.9h0M137.1 105.9h0M99.4 115h0M112.1 106.7h0M103.4 95.1h0M90.1 72.3h0M98.9 86.7h0M123.7 128.9h0M96.9 106.9h0M118.1 113h0M114.4 105.6h0M98 106.9h0M146.5 115.8h0M99.8 99.3h0M133.4 94.5h0M105.3 108.6h0M117.1 110.3h0M119.9 93.9h0M122 107.8h0M111.4 85h0M96.7 82.3h0M124.7 106.5h0M103.6 84.4h0M131.6 96.1h0M144 130.4h0M115.7 111.6h0M103.9 106.7h0M121.9 101h0M112.3 124.4h0M122.2 99.9h0M144.6 95.8h0M114.5 122.2h0M153.2 116.2h0M117.1 98.2h0M121.5 90.8h0M99.4 116.4h0M116.7 123.3h0M105.5 90.1h0M118.5 109h0M106.1 107h0M113.8 121.3h0M125.6 123.9h0M132.7 112h0M81.4 127.4h0M118.4 118.7h0M140.3 90.1h0M144.5 96.3h0M133.7 115.4h0M133 113.2h0M113.5 125h0M115.1 102.5h0M113.4 121.8h0M127.3 96h0M113 97.7h0M128.5 120.2h0M252.4 32.9h0M170.5 54.8h0M169.2 60.5h0M260.4 28.8h0M134 39.2h0M112.2 81.4h0M235.8 35.3h0M142.3 22.2h0M244.7 62.6h0M255.5 31.2h0M92.5 27.2h0M169.8 65.4h0M154.9 50.2h0M194.3 64.2h0M71.4 44h0M244.3 40.2h0M159.9 30.4h0M60.2 74.2h0M60.4 48.6h0M193.2 68.3h0M193.8 81.7h0M65.1 24.1h0M288.5 77.8h0M228.1 51.4h0M197.2 31.4h0M224.2 25.4h0M234.9 27h0M86.2 32.5h0M139.7 26.6h0M263.8 23.9h0M254.2 58.4h0M193.4 34.9h0M70.9 49.5h0M205 38.8h0M145.6 45.5h0M249.2 59h0M234.9 27.7h0M152.7 50.3h0M182.9 31.6h0M126.6 64.7h0M158.8 42.7h0M96.2 23.2h0M187.9 38h0M164.1 80.3h0M157 47.6h0M79.2 59.6h0M50.2 66.7h0M65 64.3h0M51.9 60.5h0M63.2 61.2h0M57.1 60.4h0M54.5 68.6h0M58.5 69.6h0M69.6 62.2h0M43.8 64.2h0M66.1 66h0M62.3 66.8h0M58 65.1h0M62.9 68.1h0M176.5 187.2h0M157.3 202.1h0M232 179.9h0M82.9 199.8h0M288 199.1h0M138.8 182.7h0M157.3 162.1h0M82.1 150.8h0M99.5 146.6h0M117.6 124.7h0M73.2 145.7h0M74.9 141.2h0M93.1 130.5h0M97.6 133.5h0M74.8 134.7h0M134.1 124.7h0M75.4 150.9h0M135.5 131.6h0M122.5 128h0M113.3 143.6h0M90.3 127.4h0M98.1 140.9h0M88.9 130.6h0M141.9 139.9h0M131.8 142.4h0M97.7 127.7h0M120 126.8h0M136.9 122.2h0M106.3 142.9h0M64.9 137.8h0M92.8 128.4h0M117.5 132.5h0M102.9 153.7h0M130 129.2h0M102.1 136.5h0M127.8 139h0M101.9 139.3h0M122.5 130.2h0M90.8 128.7h0M94 132.4h0M138.6 128.6h0M94.4 144.2h0M98.6 134.9h0M67 137.1h0M134.7 136.1h0M121.1 129.5h0M97.6 152.7h0M131.8 125h0M121.3 149.1h0M103.8 138.2h0M93.1 139.1h0M125.2 143.1h0M111.5 136.5h0M122.7 146h0M117.9 143.5h0M126.1 139h0M135 137.9h0M115.4 126.7h0M134.6 142.9h0M121.7 126.7h0M93 141.7h0M93.3 144.5h0M96.9 126.1h0M126.7 136.6h0M115 146.1h0M124.7 125.1h0M94.5 138.8h0" stroke="#000" stroke-width="1.7" stroke-linecap="round" fill="none"/>
<ellipse cx="177" cy="111.5" rx="36" ry="11.5" fill="#000" transform="rotate(3 177 111.5)"/>
<ellipse cx="81.5" cy="94.5" rx="14" ry="7.5" fill="#000"/>
<circle cx="81.4" cy="92.2" r="2.5" fill="#a8231b"/>
<circle cx="85.2" cy="93" r="2.5" fill="#a8231b"/>
<circle cx="84.5" cy="95.3" r="2.5" fill="#a8231b"/>
<circle cx="88.3" cy="92.5" r="2.5" fill="#a8231b"/>
<circle cx="93.4" cy="95.6" r="2.5" fill="#a8231b"/>
<circle cx="180.8" cy="109.4" r="2.5" fill="#1f78c1"/>
<circle cx="180.8" cy="112" r="2.5" fill="#1f78c1"/>
<circle cx="189.9" cy="110.8" r="2.5" fill="#1f78c1"/>
<ellipse cx="83.3" cy="93.7" rx="31.8" ry="27.6" fill="none" stroke="#f39a1c" stroke-width="2" stroke-dasharray="1.1 0.8"/>
<ellipse cx="184.6" cy="111" rx="46.7" ry="30.2" fill="none" stroke="#f39a1c" stroke-width="2" stroke-dasharray="1.1 0.8"/>
<rect x="41" y="4.7" width="292.2" height="214.5" fill="none" stroke="#262626" stroke-width="1.1"/>
<path d="M41 219.2v-3M41 4.7v3M99.4 219.2v-3M99.4 4.7v3M157.9 219.2v-3M157.9 4.7v3M216.3 219.2v-3M216.3 4.7v3M274.8 219.2v-3M274.8 4.7v3M333.2 219.2v-3M333.2 4.7v3M41 219.2h3M333.2 219.2h-3M41 176.3h3M333.2 176.3h-3M41 133.4h3M333.2 133.4h-3M41 90.5h3M333.2 90.5h-3M41 47.6h3M333.2 47.6h-3M41 4.7h3M333.2 4.7h-3" stroke="#262626" stroke-width="1" fill="none"/>
<text x="41" y="235.7" font-size="13" font-weight="bold" text-anchor="middle" fill="#1a1a1a">0</text>
<text x="99.4" y="235.7" font-size="13" font-weight="bold" text-anchor="middle" fill="#1a1a1a">0.2</text>
<text x="157.9" y="235.7" font-size="13" font-weight="bold" text-anchor="middle" fill="#1a1a1a">0.4</text>
<text x="216.3" y="235.7" font-size="13" font-weight="bold" text-anchor="middle" fill="#1a1a1a">0.6</text>
<text x="274.8" y="235.7" font-size="13" font-weight="bold" text-anchor="middle" fill="#1a1a1a">0.8</text>
<text x="333.2" y="235.7" font-size="13" font-weight="bold" text-anchor="middle" fill="#1a1a1a">1</text>
<text x="36.7" y="223.8" font-size="13" font-weight="bold" text-anchor="end" fill="#1a1a1a">0</text>
<text x="36.7" y="180.9" font-size="13" font-weight="bold" text-anchor="end" fill="#1a1a1a">1</text>
<text x="36.7" y="138" font-size="13" font-weight="bold" text-anchor="end" fill="#1a1a1a">2</text>
<text x="36.7" y="95.2" font-size="13" font-weight="bold" text-anchor="end" fill="#1a1a1a">3</text>
<text x="36.7" y="52.2" font-size="13" font-weight="bold" text-anchor="end" fill="#1a1a1a">4</text>
<text x="36.7" y="9.3" font-size="13" font-weight="bold" text-anchor="end" fill="#1a1a1a">5</text>
<text x="186.6" y="252.7" font-size="13.5" font-weight="bold" text-anchor="middle" fill="#1a1a1a" textLength="49.8" lengthAdjust="spacingAndGlyphs">Fe (M3)</text>
<text transform="translate(23.5 112) rotate(-90)" font-size="15.5" font-weight="bold" text-anchor="middle" fill="#1a1a1a">Al</text>
<rect x="230.4" y="11.7" width="95.7" height="46.2" fill="#fff" stroke="#333" stroke-width="0.9"/>
<circle cx="238.1" cy="21.5" r="2.7" fill="#1f78c1" stroke="#223" stroke-width="0.5"/>
<text x="246" y="24.7" font-size="9.3" font-weight="normal" text-anchor="start" fill="#2a2a2a" textLength="72" lengthAdjust="spacingAndGlyphs">inclusion in Grt (PA)</text>
<circle cx="238.1" cy="29.8" r="2.7" fill="#a8231b" stroke="#311" stroke-width="0.5"/>
<text x="246" y="33" font-size="9.3" font-weight="normal" text-anchor="start" fill="#2a2a2a" textLength="39.5" lengthAdjust="spacingAndGlyphs">matrix (PA)</text>
<circle cx="238.1" cy="38.6" r="2.9" fill="#000"/>
<text x="246" y="41.8" font-size="9.3" font-weight="normal" text-anchor="start" fill="#2a2a2a" textLength="79" lengthAdjust="spacingAndGlyphs">inclusion in Grt (map)</text>
<path d="M234.1 47.8h7M237.6 44.3v7" stroke="#999" stroke-width="0.9"/>
<text x="246" y="51" font-size="9.3" font-weight="normal" text-anchor="start" fill="#2a2a2a" textLength="47" lengthAdjust="spacingAndGlyphs">matrix (map)</text>
<text x="45.4" y="22.8" font-size="17.5" font-weight="normal" text-anchor="start" fill="#111" textLength="13.5" lengthAdjust="spacingAndGlyphs">a)</text>
<text x="68.8" y="56.4" font-size="12.5" font-weight="normal" text-anchor="start" fill="#000" textLength="33.2" lengthAdjust="spacingAndGlyphs" stroke="#000" stroke-width="0.45">matrix</text>
<text x="133.7" y="161.9" font-size="12.5" font-weight="normal" text-anchor="start" fill="#000" textLength="102.2" lengthAdjust="spacingAndGlyphs" stroke="#000" stroke-width="0.45">inclusions in garnet</text>
<path clip-path="url(#cb)" d="M511.7 113.3h5.6M514.5 110.5v5.6M594.4 106.3h5.6M597.2 103.5v5.6M556.3 117.6h5.6M559.1 114.8v5.6M469.6 113.9h5.6M472.4 111.1v5.6M538.7 117.7h5.6M541.5 114.9v5.6M574.8 117.9h5.6M577.6 115.1v5.6M532.5 114.9h5.6M535.3 112.1v5.6M539.4 105.4h5.6M542.2 102.6v5.6M614 118.2h5.6M616.8 115.4v5.6M475.1 116.8h5.6M477.9 114v5.6M633.7 126.1h5.6M636.5 123.3v5.6M602.9 120h5.6M605.7 117.2v5.6M576.2 115.7h5.6M579 112.9v5.6M658.3 120.7h5.6M661.1 117.9v5.6M589.4 127.1h5.6M592.2 124.3v5.6M644 112.9h5.6M646.8 110.1v5.6M585.5 109h5.6M588.3 106.2v5.6M549.5 114.6h5.6M552.3 111.8v5.6M581.1 115.1h5.6M583.9 112.3v5.6M634 121.7h5.6M636.8 118.9v5.6M529.6 114.1h5.6M532.4 111.3v5.6M489.7 110.6h5.6M492.5 107.8v5.6M521.2 126.7h5.6M524 123.9v5.6M502.5 115.2h5.6M505.3 112.4v5.6M525.4 119.4h5.6M528.2 116.6v5.6M538.1 108.8h5.6M540.9 106v5.6M599.9 116.5h5.6M602.7 113.7v5.6M582.2 115.3h5.6M585 112.5v5.6M610.4 116.8h5.6M613.2 114v5.6M599.6 116.2h5.6M602.4 113.4v5.6M481.7 104.1h5.6M484.5 101.3v5.6M500.3 116.5h5.6M503.1 113.7v5.6M549 112.8h5.6M551.8 110v5.6M537.7 113.6h5.6M540.5 110.8v5.6M640.5 111.6h5.6M643.3 108.8v5.6M593.5 122.2h5.6M596.3 119.4v5.6M583.1 124.8h5.6M585.9 122v5.6M566 116.4h5.6M568.8 113.6v5.6M546.6 112.5h5.6M549.4 109.7v5.6M548.2 119h5.6M551 116.2v5.6M601.7 112.6h5.6M604.5 109.8v5.6M553.6 116.4h5.6M556.4 113.6v5.6M547.5 113.6h5.6M550.3 110.8v5.6M623.3 113.6h5.6M626.1 110.8v5.6M505.6 117.4h5.6M508.4 114.6v5.6M581.9 116h5.6M584.7 113.2v5.6M620.1 113.7h5.6M622.9 110.9v5.6M505.6 108.6h5.6M508.4 105.8v5.6M595.3 119h5.6M598.1 116.2v5.6M514 116.9h5.6M516.8 114.1v5.6M528.1 119.6h5.6M530.9 116.8v5.6M639.8 109h5.6M642.6 106.2v5.6M623.6 123.5h5.6M626.4 120.7v5.6M508.2 109.2h5.6M511 106.4v5.6M558.9 113.2h5.6M561.7 110.4v5.6M546 115.6h5.6M548.8 112.8v5.6M507.1 110.3h5.6M509.9 107.5v5.6M564.2 119.7h5.6M567 116.9v5.6M479.1 114.1h5.6M481.9 111.3v5.6M625.5 125h5.6M628.3 122.2v5.6M609.9 118.1h5.6M612.7 115.3v5.6M517.9 117.9h5.6M520.7 115.1v5.6M585.8 104.3h5.6M588.6 101.5v5.6M609.8 114h5.6M612.6 111.2v5.6M565.4 117.3h5.6M568.2 114.5v5.6M577.3 114.7h5.6M580.1 111.9v5.6M620 116.6h5.6M622.8 113.8v5.6M602.9 115.9h5.6M605.7 113.1v5.6M560.8 114.1h5.6M563.6 111.3v5.6M660.9 126h5.6M663.7 123.2v5.6M639.5 122.4h5.6M642.3 119.6v5.6M583.6 110.5h5.6M586.4 107.7v5.6M557 111.8h5.6M559.8 109v5.6M628.9 126.8h5.6M631.7 124v5.6M518.3 120.5h5.6M521.1 117.7v5.6M583 116.9h5.6M585.8 114.1v5.6M472 109h5.6M474.8 106.2v5.6M500 118.3h5.6M502.8 115.5v5.6M636 127.8h5.6M638.8 125v5.6M613.5 121.3h5.6M616.3 118.5v5.6M590.6 115.4h5.6M593.4 112.6v5.6M534 115.3h5.6M536.8 112.5v5.6M500.9 115.3h5.6M503.7 112.5v5.6M474.4 114.4h5.6M477.2 111.6v5.6M495.5 109.2h5.6M498.3 106.4v5.6M557.9 109.3h5.6M560.7 106.5v5.6M559.7 108.7h5.6M562.5 105.9v5.6M518.5 113h5.6M521.3 110.2v5.6M486.8 109h5.6M489.6 106.2v5.6M547.3 113.8h5.6M550.1 111v5.6M501.5 116h5.6M504.3 113.2v5.6M612.6 117.3h5.6M615.4 114.5v5.6M640.1 120.4h5.6M642.9 117.6v5.6M657.6 118.4h5.6M660.4 115.6v5.6M485.3 117.4h5.6M488.1 114.6v5.6M563.3 123.3h5.6M566.1 120.5v5.6M643.1 114.2h5.6M645.9 111.4v5.6M646.2 112.6h5.6M649 109.8v5.6M644.3 116.2h5.6M647.1 113.4v5.6M568.9 120.8h5.6M571.7 118v5.6M634.8 122.3h5.6M637.6 119.5v5.6M475 108.5h5.6M477.8 105.7v5.6M508.8 104.9h5.6M511.6 102.1v5.6M529.3 104.1h5.6M532.1 101.3v5.6M537.8 106h5.6M540.6 103.2v5.6M553.7 116.6h5.6M556.5 113.8v5.6M489.5 115.2h5.6M492.3 112.4v5.6M654.3 116.7h5.6M657.1 113.9v5.6M551.2 110.8h5.6M554 108v5.6M478.2 112.3h5.6M481 109.5v5.6M644.7 110.9h5.6M647.5 108.1v5.6M585.3 112.3h5.6M588.1 109.5v5.6M524.4 110.8h5.6M527.2 108v5.6M661.2 125.6h5.6M664 122.8v5.6M578 104.3h5.6M580.8 101.5v5.6M542.4 119.2h5.6M545.2 116.4v5.6M604.1 118.8h5.6M606.9 116v5.6M473.4 119.4h5.6M476.2 116.6v5.6M603.4 117.4h5.6M606.2 114.6v5.6M487.5 115.7h5.6M490.3 112.9v5.6M482.1 114.3h5.6M484.9 111.5v5.6M634.7 119.9h5.6M637.5 117.1v5.6M550.1 106h5.6M552.9 103.2v5.6M552.6 115.4h5.6M555.4 112.6v5.6M504.6 119.7h5.6M507.4 116.9v5.6M637.3 115.9h5.6M640.1 113.1v5.6M643.3 120.1h5.6M646.1 117.3v5.6M598.8 116.4h5.6M601.6 113.6v5.6M603.3 123.7h5.6M606.1 120.9v5.6M627.7 126.9h5.6M630.5 124.1v5.6M591.2 115.8h5.6M594 113v5.6M653.9 122.7h5.6M656.7 119.9v5.6M599.2 114.6h5.6M602 111.8v5.6M594.3 115.3h5.6M597.1 112.5v5.6M528.7 109.9h5.6M531.5 107.1v5.6M563.9 117.5h5.6M566.7 114.7v5.6M567.3 111.5h5.6M570.1 108.7v5.6M643.3 121.3h5.6M646.1 118.5v5.6M610.3 130.2h5.6M613.1 127.4v5.6M641.6 125.2h5.6M644.4 122.4v5.6M615.4 119.8h5.6M618.2 117v5.6M512 113.7h5.6M514.8 110.9v5.6M596.1 111.4h5.6M598.9 108.6v5.6M536.7 109.1h5.6M539.5 106.3v5.6M544.6 110.1h5.6M547.4 107.3v5.6M615.1 127.8h5.6M617.9 125v5.6M556.2 131.2h5.6M559 128.4v5.6M649.9 123.6h5.6M652.7 120.8v5.6M587.7 106.3h5.6M590.5 103.5v5.6M477.8 105.8h5.6M480.6 103v5.6M491.8 114.2h5.6M494.6 111.4v5.6M616.2 121.4h5.6M619 118.6v5.6M603.1 111.5h5.6M605.9 108.7v5.6M597.3 107.4h5.6M600.1 104.6v5.6M561.4 116.7h5.6M564.2 113.9v5.6M630.1 111h5.6M632.9 108.2v5.6M485.3 115.2h5.6M488.1 112.4v5.6M541.7 116.2h5.6M544.5 113.4v5.6M501.5 117.8h5.6M504.3 115v5.6M558.1 111.5h5.6M560.9 108.7v5.6M488.3 107.2h5.6M491.1 104.4v5.6M611 115h5.6M613.8 112.2v5.6M489.8 99.4h5.6M492.6 96.6v5.6M592.3 119.4h5.6M595.1 116.6v5.6M591.5 120h5.6M594.3 117.2v5.6M576.3 119h5.6M579.1 116.2v5.6M562.1 118h5.6M564.9 115.2v5.6M632.3 122.1h5.6M635.1 119.3v5.6M534.2 117.1h5.6M537 114.3v5.6M640.8 113.5h5.6M643.6 110.7v5.6M569.2 113.9h5.6M572 111.1v5.6M553 112.6h5.6M555.8 109.8v5.6M633.5 119.1h5.6M636.3 116.3v5.6M557.9 117h5.6M560.7 114.2v5.6M479.1 105.7h5.6M481.9 102.9v5.6M484.8 107.4h5.6M487.6 104.6v5.6M507.4 121.3h5.6M510.2 118.5v5.6M531 109.8h5.6M533.8 107v5.6M570.8 113.8h5.6M573.6 111v5.6M616 129.1h5.6M618.8 126.3v5.6M579.8 113.6h5.6M582.6 110.8v5.6M600.4 116.7h5.6M603.2 113.9v5.6M494.4 110.9h5.6M497.2 108.1v5.6M479.7 112.8h5.6M482.5 110v5.6M663.6 126.5h5.6M666.4 123.7v5.6M585.4 112.9h5.6M588.2 110.1v5.6M492.1 115h5.6M494.9 112.2v5.6M613.1 113.5h5.6M615.9 110.7v5.6M621.8 119.8h5.6M624.6 117v5.6M559.1 118.8h5.6M561.9 116v5.6M647.9 117.5h5.6M650.7 114.7v5.6M589.3 112.4h5.6M592.1 109.6v5.6M663.5 112.1h5.6M666.3 109.3v5.6M559.1 114.2h5.6M561.9 111.4v5.6M572.3 114.8h5.6M575.1 112v5.6M585.9 118.9h5.6M588.7 116.1v5.6M530.9 113.8h5.6M533.7 111v5.6M550.2 123.9h5.6M553 121.1v5.6M498.6 111.8h5.6M501.4 109v5.6M579.1 125.1h5.6M581.9 122.3v5.6M614.7 114.2h5.6M617.5 111.4v5.6M603.7 119h5.6M606.5 116.2v5.6M626.6 120h5.6M629.4 117.2v5.6M530.2 102.1h5.6M533 99.3v5.6M655.8 133.2h5.6M658.6 130.4v5.6M641.8 126.9h5.6M644.6 124.1v5.6M621.8 122.8h5.6M624.6 120v5.6M583.7 112.2h5.6M586.5 109.4v5.6M626.3 129.1h5.6M629.1 126.3v5.6M511.3 107.2h5.6M514.1 104.4v5.6M570.7 114h5.6M573.5 111.2v5.6M525.8 111.2h5.6M528.6 108.4v5.6M478.2 118.6h5.6M481 115.8v5.6M546.3 118.2h5.6M549.1 115.4v5.6M624.8 126.8h5.6M627.6 124v5.6M485.6 114.3h5.6M488.4 111.5v5.6M533.4 111h5.6M536.2 108.2v5.6M635 118.8h5.6M637.8 116v5.6M495.4 116.9h5.6M498.2 114.1v5.6M600.4 120.6h5.6M603.2 117.8v5.6M639.3 112.5h5.6M642.1 109.7v5.6M657.7 133h5.6M660.5 130.2v5.6M546.8 105.5h5.6M549.6 102.7v5.6M523.2 114.5h5.6M526 111.7v5.6M533.1 124.9h5.6M535.9 122.1v5.6M488.3 113.7h5.6M491.1 110.9v5.6M643.1 123.2h5.6M645.9 120.4v5.6M548.5 121.6h5.6M551.3 118.8v5.6M543.5 122.1h5.6M546.3 119.3v5.6M555.5 110.4h5.6M558.3 107.6v5.6M608.4 116.2h5.6M611.2 113.4v5.6M472.6 113h5.6M475.4 110.2v5.6M652.9 116.5h5.6M655.7 113.7v5.6M548 105.4h5.6M550.8 102.6v5.6M512.8 107.4h5.6M515.6 104.6v5.6M586.2 116.4h5.6M589 113.6v5.6M479.5 107.1h5.6M482.3 104.3v5.6M641.1 119.2h5.6M643.9 116.4v5.6M615.5 118.5h5.6M618.3 115.7v5.6M550.3 109.4h5.6M553.1 106.6v5.6M607.4 119h5.6M610.2 116.2v5.6M567.4 110.8h5.6M570.2 108v5.6M515.3 121.7h5.6M518.1 118.9v5.6M567.5 111.9h5.6M570.3 109.1v5.6M479.8 115.9h5.6M482.6 113.1v5.6M514.2 107.4h5.6M517 104.6v5.6M544.7 119.7h5.6M547.5 116.9v5.6M504.6 114.8h5.6M507.4 112v5.6M640 108.3h5.6M642.8 105.5v5.6M487.5 107.2h5.6M490.3 104.4v5.6M577.2 121.9h5.6M580 119.1v5.6M591.3 118.7h5.6M594.1 115.9v5.6M641.6 120.3h5.6M644.4 117.5v5.6M508 111.2h5.6M510.8 108.4v5.6M640.6 127.1h5.6M643.4 124.3v5.6M545 120.3h5.6M547.8 117.5v5.6M532.2 116.9h5.6M535 114.1v5.6M647.4 126.5h5.6M650.2 123.7v5.6M500.3 117.4h5.6M503.1 114.6v5.6M646.2 112.6h5.6M649 109.8v5.6M560.1 114.9h5.6M562.9 112.1v5.6M593.9 119.8h5.6M596.7 117v5.6M533.3 115.9h5.6M536.1 113.1v5.6M505.4 117.3h5.6M508.2 114.5v5.6M521.5 115.1h5.6M524.3 112.3v5.6M647.4 128.5h5.6M650.2 125.7v5.6M549.8 105.8h5.6M552.6 103v5.6M519 109.5h5.6M521.8 106.7v5.6M609.3 124h5.6M612.1 121.2v5.6M474.9 111h5.6M477.7 108.2v5.6M513.2 113.4h5.6M516 110.6v5.6M641.3 125.7h5.6M644.1 122.9v5.6M626.6 134.3h5.6M629.4 131.5v5.6M469.4 114.5h5.6M472.2 111.7v5.6M547.3 116.7h5.6M550.1 113.9v5.6M639.2 119.8h5.6M642 117v5.6M498.2 116.4h5.6M501 113.6v5.6M543.5 116.9h5.6M546.3 114.1v5.6M559.9 116.4h5.6M562.7 113.6v5.6M599.3 114.1h5.6M602.1 111.3v5.6M591.3 104h5.6M594.1 101.2v5.6M489.7 104.9h5.6M492.5 102.1v5.6M512.5 114.3h5.6M515.3 111.5v5.6M564.8 110.6h5.6M567.6 107.8v5.6M645.5 113.8h5.6M648.3 111v5.6M590.9 112.7h5.6M593.7 109.9v5.6M519.2 117.3h5.6M522 114.5v5.6M642.3 114.8h5.6M645.1 112v5.6M620.8 120.6h5.6M623.6 117.8v5.6M538.8 114.3h5.6M541.6 111.5v5.6M628.6 124h5.6M631.4 121.2v5.6M593.8 115h5.6M596.6 112.2v5.6M476.8 116.6h5.6M479.6 113.8v5.6M490.9 119h5.6M493.7 116.2v5.6M550.5 112.4h5.6M553.3 109.6v5.6M572.5 119.6h5.6M575.3 116.8v5.6M536.5 119.7h5.6M539.3 116.9v5.6M536.2 116.2h5.6M539 113.4v5.6M649.7 127.1h5.6M652.5 124.3v5.6M534.3 133.3h5.6M537.1 130.5v5.6M560.1 123h5.6M562.9 120.2v5.6M540.7 106.2h5.6M543.5 103.4v5.6M601.8 114.5h5.6M604.6 111.7v5.6M521.6 107.4h5.6M524.4 104.6v5.6M647.5 129h5.6M650.3 126.2v5.6M579.7 106.3h5.6M582.5 103.5v5.6M535.6 126.6h5.6M538.4 123.8v5.6M604.5 121.8h5.6M607.3 119v5.6M630 126h5.6M632.8 123.2v5.6M496.3 115.6h5.6M499.1 112.8v5.6M631.5 124.2h5.6M634.3 121.4v5.6M528.3 120.2h5.6M531.1 117.4v5.6M618.1 123.2h5.6M620.9 120.4v5.6M662.8 121.4h5.6M665.6 118.6v5.6M619.9 123.1h5.6M622.7 120.3v5.6M605 127.4h5.6M607.8 124.6v5.6M544.1 103.1h5.6M546.9 100.3v5.6M600.1 120.9h5.6M602.9 118.1v5.6M553.9 117h5.6M556.7 114.2v5.6M642.7 119.6h5.6M645.5 116.8v5.6M631.3 124.2h5.6M634.1 121.4v5.6M626 122.3h5.6M628.8 119.5v5.6M473.1 114.8h5.6M475.9 112v5.6M587.8 114.4h5.6M590.6 111.6v5.6M538.1 123.8h5.6M540.9 121v5.6M549.2 122.4h5.6M552 119.6v5.6M491.4 101.7h5.6M494.2 98.9v5.6M560.5 114.7h5.6M563.3 111.9v5.6M555.2 112.8h5.6M558 110v5.6M469 110.6h5.6M471.8 107.8v5.6M644 114.9h5.6M646.8 112.1v5.6M561.4 114.2h5.6M564.2 111.4v5.6M581 115.2h5.6M583.8 112.4v5.6M593.9 109.3h5.6M596.7 106.5v5.6M661.4 116.6h5.6M664.2 113.8v5.6M489 109.5h5.6M491.8 106.7v5.6M525.5 113.6h5.6M528.3 110.8v5.6M626.7 117.4h5.6M629.5 114.6v5.6M522.7 114.1h5.6M525.5 111.3v5.6M624.6 128.9h5.6M627.4 126.1v5.6M473.8 120.7h5.6M476.6 117.9v5.6M592.5 122.8h5.6M595.3 120v5.6M587 126.1h5.6M589.8 123.3v5.6M573.2 111.5h5.6M576 108.7v5.6M537.7 120.8h5.6M540.5 118v5.6M505.5 112.7h5.6M508.3 109.9v5.6M600.4 113.4h5.6M603.2 110.6v5.6M470.9 118.2h5.6M473.7 115.4v5.6M548.1 114.7h5.6M550.9 111.9v5.6M567.7 118.9h5.6M570.5 116.1v5.6M602.5 122.5h5.6M605.3 119.7v5.6M472.2 112.4h5.6M475 109.6v5.6M606.5 114h5.6M609.3 111.2v5.6M571.4 109.6h5.6M574.2 106.8v5.6M610.2 106.5h5.6M613 103.7v5.6M615.1 108.5h5.6M617.9 105.7v5.6M639.5 115.8h5.6M642.3 113v5.6M542.9 106.6h5.6M545.7 103.8v5.6M605.8 119.6h5.6M608.6 116.8v5.6M654.1 125.5h5.6M656.9 122.7v5.6M554.6 123.9h5.6M557.4 121.1v5.6M498.5 110.7h5.6M501.3 107.9v5.6M644 125.4h5.6M646.8 122.6v5.6M497.2 102.4h5.6M500 99.6v5.6M493.1 115.8h5.6M495.9 113v5.6M554.9 117.5h5.6M557.7 114.7v5.6M508 114.5h5.6M510.8 111.7v5.6M603 126.6h5.6M605.8 123.8v5.6M495.1 105.4h5.6M497.9 102.6v5.6M484.8 109.7h5.6M487.6 106.9v5.6M608.9 130.3h5.6M611.7 127.5v5.6M628.8 122.7h5.6M631.6 119.9v5.6M597 114.2h5.6M599.8 111.4v5.6M525.7 119.8h5.6M528.5 117v5.6M480.9 114.1h5.6M483.7 111.3v5.6M592.5 125h5.6M595.3 122.2v5.6M569 128h5.6M571.8 125.2v5.6M542.5 111.2h5.6M545.3 108.4v5.6M496.2 103.5h5.6M499 100.7v5.6M644.1 122.5h5.6M646.9 119.7v5.6M661.6 123.5h5.6M664.4 120.7v5.6M565.2 114.5h5.6M568 111.7v5.6M564.7 123.2h5.6M567.5 120.4v5.6M517.8 107.1h5.6M520.6 104.3v5.6M658.6 119.3h5.6M661.4 116.5v5.6M631.1 114.6h5.6M633.9 111.8v5.6M514.6 114.1h5.6M517.4 111.3v5.6M548.9 119.4h5.6M551.7 116.6v5.6M560.7 115.4h5.6M563.5 112.6v5.6M652.8 109.7h5.6M655.6 106.9v5.6M649.7 119.2h5.6M652.5 116.4v5.6M555 114.2h5.6M557.8 111.4v5.6M613.6 131.7h5.6M616.4 128.9v5.6M662 124.6h5.6M664.8 121.8v5.6M602.4 118h5.6M605.2 115.2v5.6M481.6 106.1h5.6M484.4 103.3v5.6M545.9 114.8h5.6M548.7 112v5.6M505.1 117.7h5.6M507.9 114.9v5.6M574.2 109.9h5.6M577 107.1v5.6M490.4 117.1h5.6M493.2 114.3v5.6M553.3 113.9h5.6M556.1 111.1v5.6M550.7 105h5.6M553.5 102.2v5.6M555.6 112h5.6M558.4 109.2v5.6M556.6 118.6h5.6M559.4 115.8v5.6M660.6 122.8h5.6M663.4 120v5.6M595.7 110.8h5.6M598.5 108v5.6M534.4 118.3h5.6M537.2 115.5v5.6M631.4 123.2h5.6M634.2 120.4v5.6M577.7 117.5h5.6M580.5 114.7v5.6M605.2 124.9h5.6M608 122.1v5.6M545.1 111.7h5.6M547.9 108.9v5.6M532.5 110h5.6M535.3 107.2v5.6M471.7 110.5h5.6M474.5 107.7v5.6M562.8 122.4h5.6M565.6 119.6v5.6M606.6 115.2h5.6M609.4 112.4v5.6M609.1 116.8h5.6M611.9 114v5.6M476.9 107h5.6M479.7 104.2v5.6M657.9 125.2h5.6M660.7 122.4v5.6M636.9 123.6h5.6M639.7 120.8v5.6M553.7 112.5h5.6M556.5 109.7v5.6M619.3 127.1h5.6M622.1 124.3v5.6M662.7 118.4h5.6M665.5 115.6v5.6M615.3 127.4h5.6M618.1 124.6v5.6M565.5 116.6h5.6M568.3 113.8v5.6M582.5 128.1h5.6M585.3 125.3v5.6M661.9 114.2h5.6M664.7 111.4v5.6M579.9 118.9h5.6M582.7 116.1v5.6M579.4 117.4h5.6M582.2 114.6v5.6M650.6 119.5h5.6M653.4 116.7v5.6M518.7 103.9h5.6M521.5 101.1v5.6M608.4 119.4h5.6M611.2 116.6v5.6M620.4 111.1h5.6M623.2 108.3v5.6M475.2 107.8h5.6M478 105v5.6M516.6 119.2h5.6M519.4 116.4v5.6M529 122.7h5.6M531.8 119.9v5.6M503.7 115.9h5.6M506.5 113.1v5.6M482.6 110.9h5.6M485.4 108.1v5.6M547.7 107.1h5.6M550.5 104.3v5.6M618 119.1h5.6M620.8 116.3v5.6M584.2 122h5.6M587 119.2v5.6M497.4 118.7h5.6M500.2 115.9v5.6M515.1 118.5h5.6M517.9 115.7v5.6M599.2 107.9h5.6M602 105.1v5.6M576 104.9h5.6M578.8 102.1v5.6M649.2 121.8h5.6M652 119v5.6M612.1 121.5h5.6M614.9 118.7v5.6M589 123.1h5.6M591.8 120.3v5.6M617.5 112.4h5.6M620.3 109.6v5.6M601.8 114.7h5.6M604.6 111.9v5.6M646.7 105.6h5.6M649.5 102.8v5.6M553.8 99.4h5.6M556.6 96.6v5.6M536.2 122.3h5.6M539 119.5v5.6M506.3 112.7h5.6M509.1 109.9v5.6M497.1 106h5.6M499.9 103.2v5.6M515.3 113.5h5.6M518.1 110.7v5.6M588.5 118h5.6M591.3 115.2v5.6M548.6 116.1h5.6M551.4 113.3v5.6M562.4 119.8h5.6M565.2 117v5.6M510.5 102.1h5.6M513.3 99.3v5.6M540.6 113.5h5.6M543.4 110.7v5.6M526.6 109h5.6M529.4 106.2v5.6M574.7 118.4h5.6M577.5 115.6v5.6M496.4 122.1h5.6M499.2 119.3v5.6M630.1 113h5.6M632.9 110.2v5.6M628.8 115.4h5.6M631.6 112.6v5.6M479.2 113.7h5.6M482 110.9v5.6M494.3 116.5h5.6M497.1 113.7v5.6M541.1 120.3h5.6M543.9 117.5v5.6M608.1 116.5h5.6M610.9 113.7v5.6M550.5 107.6h5.6M553.3 104.8v5.6M496.2 111.9h5.6M499 109.1v5.6M625.3 122.2h5.6M628.1 119.4v5.6M617.7 124h5.6M620.5 121.2v5.6M509 110.7h5.6M511.8 107.9v5.6M496.1 114.2h5.6M498.9 111.4v5.6M578.9 121.5h5.6M581.7 118.7v5.6M540.8 115h5.6M543.6 112.2v5.6M617.9 115.1h5.6M620.7 112.3v5.6M553.5 108.7h5.6M556.3 105.9v5.6M499 103.3h5.6M501.8 100.5v5.6M513.7 109.4h5.6M516.5 106.6v5.6M620.9 112.5h5.6M623.7 109.7v5.6M475 103.7h5.6M477.8 100.9v5.6M631.4 123h5.6M634.2 120.2v5.6M551.4 117.4h5.6M554.2 114.6v5.6M520.2 112.7h5.6M523 109.9v5.6M639.2 122h5.6M642 119.2v5.6M631.9 107.3h5.6M634.7 104.5v5.6M648.9 116.2h5.6M651.7 113.4v5.6M631.9 114.5h5.6M634.7 111.7v5.6M529.8 114h5.6M532.6 111.2v5.6M573.2 115.1h5.6M576 112.3v5.6M576.4 115.3h5.6M579.2 112.5v5.6M592.6 112.9h5.6M595.4 110.1v5.6M502.7 110.2h5.6M505.5 107.4v5.6M551 126.1h5.6M553.8 123.3v5.6M494.4 116.6h5.6M497.2 113.8v5.6M489.4 114.1h5.6M492.2 111.3v5.6M607.6 122h5.6M610.4 119.2v5.6M517.2 115.1h5.6M520 112.3v5.6M610.4 113.5h5.6M613.2 110.7v5.6M583.4 119.3h5.6M586.2 116.5v5.6M512 120.4h5.6M514.8 117.6v5.6M528.6 112.4h5.6M531.4 109.6v5.6M587.2 118.5h5.6M590 115.7v5.6M492.1 112.7h5.6M494.9 109.9v5.6M549.9 110.9h5.6M552.7 108.1v5.6M584.9 111.1h5.6M587.7 108.3v5.6M591.1 111.3h5.6M593.9 108.5v5.6M619.7 123.5h5.6M622.5 120.7v5.6M491.5 103.3h5.6M494.3 100.5v5.6M584.5 125.9h5.6M587.3 123.1v5.6M630.7 124.6h5.6M633.5 121.8v5.6M500.2 114.5h5.6M503 111.7v5.6M562.8 118h5.6M565.6 115.2v5.6M643.6 129.3h5.6M646.4 126.5v5.6M570.2 111h5.6M573 108.2v5.6M472.5 113.1h5.6M475.3 110.3v5.6M552.2 124.5h5.6M555 121.7v5.6M514.5 115.8h5.6M517.3 113v5.6M473.8 112h5.6M476.6 109.2v5.6M635.4 122.8h5.6M638.2 120v5.6M579.6 112.1h5.6M582.4 109.3v5.6M619.9 113.4h5.6M622.7 110.6v5.6M512.6 111.4h5.6M515.4 108.6v5.6M497.9 113.1h5.6M500.7 110.3v5.6M585.1 120.1h5.6M587.9 117.3v5.6M649.4 126.7h5.6M652.2 123.9v5.6M508.3 106.4h5.6M511.1 103.6v5.6M537.6 112.5h5.6M540.4 109.7v5.6M546.4 124h5.6M549.2 121.2v5.6M524.7 106.8h5.6M527.5 104v5.6M604.2 121.9h5.6M607 119.1v5.6M647.2 121.7h5.6M650 118.9v5.6M518.9 114.7h5.6M521.7 111.9v5.6M605.9 114.3h5.6M608.7 111.5v5.6M604.4 119.6h5.6M607.2 116.8v5.6M585.3 114.7h5.6M588.1 111.9v5.6M534.9 122.1h5.6M537.7 119.3v5.6M469.2 113.7h5.6M472 110.9v5.6M477.8 106.9h5.6M480.6 104.1v5.6M486 122.1h5.6M488.8 119.3v5.6M512.5 122.7h5.6M515.3 119.9v5.6M529.3 109.4h5.6M532.1 106.6v5.6M655.9 110h5.6M658.7 107.2v5.6M480 105.1h5.6M482.8 102.3v5.6M586.6 108.1h5.6M589.4 105.3v5.6M647.5 121.4h5.6M650.3 118.6v5.6M537.6 102.9h5.6M540.4 100.1v5.6M522.5 117.1h5.6M525.3 114.3v5.6M619.7 115.1h5.6M622.5 112.3v5.6M545.4 116.8h5.6M548.2 114v5.6M619.5 129.6h5.6M622.3 126.8v5.6M553.6 120.8h5.6M556.4 118v5.6M556.5 113.2h5.6M559.3 110.4v5.6M639.9 115.5h5.6M642.7 112.7v5.6M520 105.6h5.6M522.8 102.8v5.6M580.4 122.6h5.6M583.2 119.8v5.6M527.9 111.2h5.6M530.7 108.4v5.6M630.8 119h5.6M633.6 116.2v5.6M656.3 115.8h5.6M659.1 113v5.6M652 121.1h5.6M654.8 118.3v5.6M555 123.5h5.6M557.8 120.7v5.6M629.1 109.9h5.6M631.9 107.1v5.6M601.6 118.2h5.6M604.4 115.4v5.6M504.7 110.3h5.6M507.5 107.5v5.6M520.4 111h5.6M523.2 108.2v5.6M530.4 107.3h5.6M533.2 104.5v5.6M511 109.3h5.6M513.8 106.5v5.6M469.5 114.9h5.6M472.3 112.1v5.6M470.7 112.5h5.6M473.5 109.7v5.6M577.9 116.9h5.6M580.7 114.1v5.6M473.9 119h5.6M476.7 116.2v5.6M574.5 114.8h5.6M577.3 112v5.6M511.2 105.3h5.6M514 102.5v5.6M628 131.5h5.6M630.8 128.7v5.6M651.1 114.7h5.6M653.9 111.9v5.6M575.1 117.2h5.6M577.9 114.4v5.6M549.8 114.3h5.6M552.6 111.5v5.6M513.2 116.6h5.6M516 113.8v5.6M557.1 131.8h5.6M559.9 129v5.6M534.6 119h5.6M537.4 116.2v5.6M469.7 119.9h5.6M472.5 117.1v5.6M487.6 104.6h5.6M490.4 101.8v5.6M570.3 124.7h5.6M573.1 121.9v5.6M532.9 120.5h5.6M535.7 117.7v5.6M587.6 102.6h5.6M590.4 99.8v5.6M579.3 120.9h5.6M582.1 118.1v5.6M535.1 119.6h5.6M537.9 116.8v5.6M601.9 124.9h5.6M604.7 122.1v5.6M600.9 124.2h5.6M603.7 121.4v5.6M537.6 108.6h5.6M540.4 105.8v5.6M514.4 107.6h5.6M517.2 104.8v5.6M502.2 108.6h5.6M505 105.8v5.6M524.1 115.4h5.6M526.9 112.6v5.6M550.3 109.9h5.6M553.1 107.1v5.6M659.5 127.3h5.6M662.3 124.5v5.6M547.2 116.1h5.6M550 113.3v5.6M576 113.7h5.6M578.8 110.9v5.6M569.1 122.2h5.6M571.9 119.4v5.6M537.5 112.9h5.6M540.3 110.1v5.6M486.4 108.4h5.6M489.2 105.6v5.6M524.5 108.2h5.6M527.3 105.4v5.6M580.9 115.1h5.6M583.7 112.3v5.6M491.3 112h5.6M494.1 109.2v5.6M590.8 123.2h5.6M593.6 120.4v5.6M553 112.9h5.6M555.8 110.1v5.6M492.5 120.4h5.6M495.3 117.6v5.6M576.2 117.2h5.6M579 114.4v5.6M541.3 105.4h5.6M544.1 102.6v5.6M512.7 97.3h5.6M515.5 94.5v5.6M492.2 108.8h5.6M495 106v5.6M518 111.9h5.6M520.8 109.1v5.6M549.2 115.8h5.6M552 113v5.6M553.5 119.4h5.6M556.3 116.6v5.6M659.4 129.2h5.6M662.2 126.4v5.6M531.2 110.8h5.6M534 108v5.6M469.9 109.2h5.6M472.7 106.4v5.6M521.5 122.3h5.6M524.3 119.5v5.6M488.3 120.2h5.6M491.1 117.4v5.6M521.3 108h5.6M524.1 105.2v5.6M547 119.7h5.6M549.8 116.9v5.6M483 108.2h5.6M485.8 105.4v5.6M589.4 115.6h5.6M592.2 112.8v5.6M480.2 122h5.6M483 119.2v5.6M469.4 111.3h5.6M472.2 108.5v5.6M525.1 120.4h5.6M527.9 117.6v5.6M612.7 114.1h5.6M615.5 111.3v5.6M601.6 122.2h5.6M604.4 119.4v5.6M591.3 115h5.6M594.1 112.2v5.6M558.8 109.3h5.6M561.6 106.5v5.6M583.4 119.6h5.6M586.2 116.8v5.6M599.1 123.9h5.6M601.9 121.1v5.6M598.6 116.7h5.6M601.4 113.9v5.6M586.1 112.1h5.6M588.9 109.3v5.6M565.6 115.9h5.6M568.4 113.1v5.6M659.4 117.6h5.6M662.2 114.8v5.6M528.4 120.5h5.6M531.2 117.7v5.6M503.8 117.9h5.6M506.6 115.1v5.6M553.4 112.3h5.6M556.2 109.5v5.6M518.9 120.8h5.6M521.7 118v5.6M488.8 111.2h5.6M491.6 108.4v5.6M597.7 118.3h5.6M600.5 115.5v5.6M517.5 117.1h5.6M520.3 114.3v5.6M476.4 119.7h5.6M479.2 116.9v5.6M549.4 113.6h5.6M552.2 110.8v5.6M584 118h5.6M586.8 115.2v5.6M479.4 112.7h5.6M482.2 109.9v5.6M568 108.2h5.6M570.8 105.4v5.6M556 119.3h5.6M558.8 116.5v5.6M519.7 108.2h5.6M522.5 105.4v5.6M618.4 112.5h5.6M621.2 109.7v5.6M545.7 111h5.6M548.5 108.2v5.6M607.2 115.5h5.6M610 112.7v5.6M619.6 127.9h5.6M622.4 125.1v5.6M545.1 108h5.6M547.9 105.2v5.6M473.5 108.1h5.6M476.3 105.3v5.6M606.8 106.6h5.6M609.6 103.8v5.6M485.8 113.2h5.6M488.6 110.4v5.6M563 110.3h5.6M565.8 107.5v5.6M473.8 105.3h5.6M476.6 102.5v5.6M520.5 116.9h5.6M523.3 114.1v5.6M475.1 123.1h5.6M477.9 120.3v5.6M609.4 123.6h5.6M612.2 120.8v5.6M636.8 113.5h5.6M639.6 110.7v5.6M480.1 117.6h5.6M482.9 114.8v5.6M529.7 119.1h5.6M532.5 116.3v5.6M511.3 116h5.6M514.1 113.2v5.6M482.1 106.3h5.6M484.9 103.5v5.6M527.3 120.2h5.6M530.1 117.4v5.6M560.8 113.4h5.6M563.6 110.6v5.6M591.9 119.3h5.6M594.7 116.5v5.6M514.5 105.1h5.6M517.3 102.3v5.6M654.2 125.8h5.6M657 123v5.6M543.7 119.7h5.6M546.5 116.9v5.6M537.6 114.7h5.6M540.4 111.9v5.6M655.3 102.6h5.6M658.1 99.8v5.6M646.5 123.1h5.6M649.3 120.3v5.6M564.6 122.3h5.6M567.4 119.5v5.6M553.1 125.5h5.6M555.9 122.7v5.6M648.5 118.5h5.6M651.3 115.7v5.6M539.2 118.9h5.6M542 116.1v5.6M603.9 115.5h5.6M606.7 112.7v5.6M506.8 109.3h5.6M509.6 106.5v5.6M489.8 95.9h5.6M492.6 93.1v5.6M629.3 129.5h5.6M632.1 126.7v5.6M567.4 116.1h5.6M570.2 113.3v5.6M555.2 123.8h5.6M558 121v5.6M570.6 113.2h5.6M573.4 110.4v5.6M536.1 111.4h5.6M538.9 108.6v5.6M538.7 116.8h5.6M541.5 114v5.6M515.4 116.9h5.6M518.2 114.1v5.6M639.9 116.8h5.6M642.7 114v5.6M621.2 131.2h5.6M624 128.4v5.6M507 123.5h5.6M509.8 120.7v5.6M626.5 118h5.6M629.3 115.2v5.6M513.5 120.7h5.6M516.3 117.9v5.6M471.1 110.4h5.6M473.9 107.6v5.6M516.5 113.9h5.6M519.3 111.1v5.6M556.3 123.6h5.6M559.1 120.8v5.6M580.5 121.6h5.6M583.3 118.8v5.6M485.6 112.8h5.6M488.4 110v5.6M614 117.3h5.6M616.8 114.5v5.6M619.3 124.3h5.6M622.1 121.5v5.6M630.7 122.6h5.6M633.5 119.8v5.6M657.8 129.8h5.6M660.6 127v5.6M476.7 105.8h5.6M479.5 103v5.6M620.9 120.7h5.6M623.7 117.9v5.6M613 112.1h5.6M615.8 109.3v5.6M486.3 107.7h5.6M489.1 104.9v5.6M612 120.9h5.6M614.8 118.1v5.6M522.3 109.1h5.6M525.1 106.3v5.6M627.2 121.8h5.6M630 119v5.6M613.8 121.8h5.6M616.6 119v5.6M505.1 110.5h5.6M507.9 107.7v5.6M618.6 125.6h5.6M621.4 122.8v5.6M589.4 108.4h5.6M592.2 105.6v5.6M559.6 116.3h5.6M562.4 113.5v5.6M584.3 120.9h5.6M587.1 118.1v5.6M528.8 115.9h5.6M531.6 113.1v5.6M625.1 112.7h5.6M627.9 109.9v5.6M603.1 130.8h5.6M605.9 128v5.6M567.6 122.8h5.6M570.4 120v5.6M595.8 111.9h5.6M598.6 109.1v5.6M653.3 120.2h5.6M656.1 117.4v5.6M523.3 119.3h5.6M526.1 116.5v5.6M477.7 110.4h5.6M480.5 107.6v5.6M546 120.7h5.6M548.8 117.9v5.6M479.2 123.6h5.6M482 120.8v5.6M523.1 113.4h5.6M525.9 110.6v5.6M614.2 117.7h5.6M617 114.9v5.6M585.4 125h5.6M588.2 122.2v5.6M517.7 116.9h5.6M520.5 114.1v5.6M657.9 126.9h5.6M660.7 124.1v5.6M569.6 123.4h5.6M572.4 120.6v5.6M591 107.4h5.6M593.8 104.6v5.6M535.6 116.3h5.6M538.4 113.5v5.6M505.8 115.5h5.6M508.6 112.7v5.6M641.8 129.3h5.6M644.6 126.5v5.6M510.9 110.9h5.6M513.7 108.1v5.6M560.9 114.8h5.6M563.7 112v5.6M585.6 106.8h5.6M588.4 104v5.6M545.8 117.7h5.6M548.6 114.9v5.6M510 110.6h5.6M512.8 107.8v5.6M603.9 118.7h5.6M606.7 115.9v5.6M544.3 112.4h5.6M547.1 109.6v5.6M557.4 109.9h5.6M560.2 107.1v5.6M547.7 115.4h5.6M550.5 112.6v5.6M658.9 121.5h5.6M661.7 118.7v5.6M546.7 121h5.6M549.5 118.2v5.6M512.9 109.6h5.6M515.7 106.8v5.6M594.1 112h5.6M596.9 109.2v5.6M489.6 115.5h5.6M492.4 112.7v5.6M586.5 116.3h5.6M589.3 113.5v5.6M536.3 119.3h5.6M539.1 116.5v5.6M548 123.4h5.6M550.8 120.6v5.6M543.7 111.4h5.6M546.5 108.6v5.6M590.4 115.2h5.6M593.2 112.4v5.6M626.6 109h5.6M629.4 106.2v5.6M647.6 108.1h5.6M650.4 105.3v5.6M540.4 122.7h5.6M543.2 119.9v5.6M533.3 116.3h5.6M536.1 113.5v5.6M540.5 115.7h5.6M543.3 112.9v5.6M554.3 121.6h5.6M557.1 118.8v5.6M578.9 111.8h5.6M581.7 109v5.6M526.5 109.7h5.6M529.3 106.9v5.6M501.6 121.3h5.6M504.4 118.5v5.6M571.7 117.4h5.6M574.5 114.6v5.6M566.4 118.7h5.6M569.2 115.9v5.6M660.8 125.6h5.6M663.6 122.8v5.6M510.7 105.9h5.6M513.5 103.1v5.6M604.8 117.4h5.6M607.6 114.6v5.6M543.7 118.9h5.6M546.5 116.1v5.6M516.4 110.4h5.6M519.2 107.6v5.6M623.7 115.7h5.6M626.5 112.9v5.6M579.3 119.9h5.6M582.1 117.1v5.6M558.8 109.3h5.6M561.6 106.5v5.6M572.9 109.5h5.6M575.7 106.7v5.6M662.6 110.4h5.6M665.4 107.6v5.6M520.1 120.1h5.6M522.9 117.3v5.6M490.3 111.2h5.6M493.1 108.4v5.6M603.3 120.1h5.6M606.1 117.3v5.6M503.2 113.3h5.6M506 110.5v5.6M486 113.7h5.6M488.8 110.9v5.6M638.6 125.4h5.6M641.4 122.6v5.6M658.9 120.9h5.6M661.7 118.1v5.6M622.2 117.2h5.6M625 114.4v5.6M544.3 106.2h5.6M547.1 103.4v5.6M559.6 117.1h5.6M562.4 114.3v5.6M528.1 110.3h5.6M530.9 107.5v5.6M522.2 109.5h5.6M525 106.7v5.6M543 104.2h5.6M545.8 101.4v5.6M578.5 113.3h5.6M581.3 110.5v5.6M499.5 120.4h5.6M502.3 117.6v5.6M655.2 110.5h5.6M658 107.7v5.6M533.3 118.7h5.6M536.1 115.9v5.6M631.2 119.9h5.6M634 117.1v5.6M542.7 115.8h5.6M545.5 113v5.6M605.4 130.8h5.6M608.2 128v5.6M623.5 122.4h5.6M626.3 119.6v5.6M632.4 114h5.6M635.2 111.2v5.6M646.4 120.4h5.6M649.2 117.6v5.6M469.4 110.4h5.6M472.2 107.6v5.6M566.6 118.2h5.6M569.4 115.4v5.6M555.1 108.2h5.6M557.9 105.4v5.6M622.9 115.1h5.6M625.7 112.3v5.6M512.6 113h5.6M515.4 110.2v5.6M572.2 106.6h5.6M575 103.8v5.6M472.5 116h5.6M475.3 113.2v5.6M522.9 101.2h5.6M525.7 98.4v5.6M525.4 125h5.6M528.2 122.2v5.6M627.1 115.3h5.6M629.9 112.5v5.6M544.2 115.4h5.6M547 112.6v5.6M481.6 112.9h5.6M484.4 110.1v5.6M541.6 116.7h5.6M544.4 113.9v5.6M477.3 113.8h5.6M480.1 111v5.6M635.7 118.5h5.6M638.5 115.7v5.6M485.6 110.2h5.6M488.4 107.4v5.6M484.3 113.5h5.6M487.1 110.7v5.6M597.2 110.2h5.6M600 107.4v5.6M524.8 118.8h5.6M527.6 116v5.6M582.3 117.1h5.6M585.1 114.3v5.6M490.2 112.3h5.6M493 109.5v5.6M649.3 120h5.6M652.1 117.2v5.6M509.8 116.5h5.6M512.6 113.7v5.6M555.8 116.6h5.6M558.6 113.8v5.6M520.6 119.8h5.6M523.4 117v5.6M634 126.6h5.6M636.8 123.8v5.6M659.3 127.1h5.6M662.1 124.3v5.6M537.6 112.5h5.6M540.4 109.7v5.6M525.2 128.8h5.6M528 126v5.6M479.8 112.4h5.6M482.6 109.6v5.6M615 121.5h5.6M617.8 118.7v5.6M520.8 106.9h5.6M523.6 104.1v5.6M609.4 122.8h5.6M612.2 120v5.6M556.5 115.3h5.6M559.3 112.5v5.6M469.8 101.2h5.6M472.6 98.4v5.6M485 104.9h5.6M487.8 102.1v5.6M546.6 115.6h5.6M549.4 112.8v5.6M650.9 121.3h5.6M653.7 118.5v5.6M509.3 107.3h5.6M512.1 104.5v5.6M583.5 118.1h5.6M586.3 115.3v5.6M586.9 111.2h5.6M589.7 108.4v5.6M615.4 114.7h5.6M618.2 111.9v5.6M623.3 119.4h5.6M626.1 116.6v5.6M493.9 120.7h5.6M496.7 117.9v5.6M548.9 116.6h5.6M551.7 113.8v5.6M618.6 118.5h5.6M621.4 115.7v5.6M488.9 116.1h5.6M491.7 113.3v5.6M500.8 114.4h5.6M503.6 111.6v5.6M655.1 126.8h5.6M657.9 124v5.6M587.5 123.1h5.6M590.3 120.3v5.6M579.2 115.1h5.6M582 112.3v5.6M542.9 116.2h5.6M545.7 113.4v5.6M511.7 117.8h5.6M514.5 115v5.6M648.9 123h5.6M651.7 120.2v5.6M514.5 114.8h5.6M517.3 112v5.6M609.9 105.6h5.6M612.7 102.8v5.6M552.8 121.6h5.6M555.6 118.8v5.6M498 106.1h5.6M500.8 103.3v5.6M610 116.5h5.6M612.8 113.7v5.6M483.3 101.8h5.6M486.1 99v5.6M647.6 119h5.6M650.4 116.2v5.6M500.1 113.6h5.6M502.9 110.8v5.6M647.7 117.9h5.6M650.5 115.1v5.6M625.5 122.9h5.6M628.3 120.1v5.6M582.3 116.5h5.6M585.1 113.7v5.6M550 106.6h5.6M552.8 103.8v5.6M496.6 107.2h5.6M499.4 104.4v5.6M516.5 120.6h5.6M519.3 117.8v5.6M552.4 117.4h5.6M555.2 114.6v5.6M519.2 118.5h5.6M522 115.7v5.6M571.8 113.8h5.6M574.6 111v5.6M518.1 114.3h5.6M520.9 111.5v5.6M563.3 98.3h5.6M566.1 95.5v5.6M470.5 112.9h5.6M473.3 110.1v5.6M594.4 114.8h5.6M597.2 112v5.6M495.4 109.5h5.6M498.2 106.7v5.6M566.6 101.4h5.6M569.4 98.6v5.6M540.7 115.2h5.6M543.5 112.4v5.6M644.5 120.5h5.6M647.3 117.7v5.6M645 121.7h5.6M647.8 118.9v5.6M522.4 110.8h5.6M525.2 108v5.6M644.8 120.1h5.6M647.6 117.3v5.6M569.1 119.5h5.6M571.9 116.7v5.6M564.4 116.1h5.6M567.2 113.3v5.6M617.4 133h5.6M620.2 130.2v5.6M573.4 121.6h5.6M576.2 118.8v5.6M645.7 113.6h5.6M648.5 110.8v5.6M586.2 110h5.6M589 107.2v5.6M641.5 122.7h5.6M644.3 119.9v5.6M627.8 113.5h5.6M630.6 110.7v5.6M518.9 121h5.6M521.7 118.2v5.6M595.7 109.5h5.6M598.5 106.7v5.6M564.6 106.3h5.6M567.4 103.5v5.6M550 114.1h5.6M552.8 111.3v5.6M515.4 115.7h5.6M518.2 112.9v5.6M633.3 117.1h5.6M636.1 114.3v5.6M624.8 110.5h5.6M627.6 107.7v5.6M500.4 114.4h5.6M503.2 111.6v5.6M551.5 114.9h5.6M554.3 112.1v5.6M535.8 114.4h5.6M538.6 111.6v5.6M498.1 110.4h5.6M500.9 107.6v5.6M589.9 113.1h5.6M592.7 110.3v5.6M482.1 107.8h5.6M484.9 105v5.6M502.7 117.2h5.6M505.5 114.4v5.6M488.7 117.2h5.6M491.5 114.4v5.6M566.8 116.7h5.6M569.6 113.9v5.6M490 116.2h5.6M492.8 113.4v5.6M485.4 106.7h5.6M488.2 103.9v5.6M566.9 111.9h5.6M569.7 109.1v5.6M494.2 118.6h5.6M497 115.8v5.6M592.3 114.4h5.6M595.1 111.6v5.6M470.8 109.7h5.6M473.6 106.9v5.6M572.6 114.2h5.6M575.4 111.4v5.6M492.5 108.2h5.6M495.3 105.4v5.6M643.9 114.5h5.6M646.7 111.7v5.6M626.5 112.2h5.6M629.3 109.4v5.6M556.7 119.8h5.6M559.5 117v5.6M628.9 121.4h5.6M631.7 118.6v5.6M602.9 110h5.6M605.7 107.2v5.6M496.4 108.4h5.6M499.2 105.6v5.6M562.9 113.1h5.6M565.7 110.3v5.6M597 111.5h5.6M599.8 108.7v5.6M612.3 118.9h5.6M615.1 116.1v5.6M556.9 113.7h5.6M559.7 110.9v5.6M647.7 127.1h5.6M650.5 124.3v5.6M618.6 120.9h5.6M621.4 118.1v5.6M593.6 104h5.6M596.4 101.2v5.6M613.3 122.5h5.6M616.1 119.7v5.6M626.7 116h5.6M629.5 113.2v5.6M607.9 114.5h5.6M610.7 111.7v5.6M582.4 110.4h5.6M585.2 107.6v5.6M533.7 121.6h5.6M536.5 118.8v5.6M502.4 114.2h5.6M505.2 111.4v5.6M565.7 118.1h5.6M568.5 115.3v5.6M522.8 120.4h5.6M525.6 117.6v5.6M592.8 112.4h5.6M595.6 109.6v5.6M589.6 106h5.6M592.4 103.2v5.6M606.7 113.4h5.6M609.5 110.6v5.6M646.2 125.8h5.6M649 123v5.6M642.6 124.8h5.6M645.4 122v5.6M614.8 119.3h5.6M617.6 116.5v5.6M473.6 112.6h5.6M476.4 109.8v5.6M609 114.8h5.6M611.8 112v5.6M510.1 117.6h5.6M512.9 114.8v5.6M555.2 110.2h5.6M558 107.4v5.6M494.4 120.2h5.6M497.2 117.4v5.6M508.3 110.6h5.6M511.1 107.8v5.6M517.9 104.6h5.6M520.7 101.8v5.6M642.6 122.7h5.6M645.4 119.9v5.6M550.1 113.1h5.6M552.9 110.3v5.6M496.2 111.6h5.6M499 108.8v5.6M550.4 115.9h5.6M553.2 113.1v5.6M542.9 110.9h5.6M545.7 108.1v5.6M662.3 119.6h5.6M665.1 116.8v5.6M636.8 129.2h5.6M639.6 126.4v5.6M646.5 114.3h5.6M649.3 111.5v5.6M636.6 120.3h5.6M639.4 117.5v5.6M568.9 123.1h5.6M571.7 120.3v5.6M608.9 130h5.6M611.7 127.2v5.6M504.1 121.8h5.6M506.9 119v5.6M644.6 119.5h5.6M647.4 116.7v5.6M634.7 125.2h5.6M637.5 122.4v5.6M524.9 119.5h5.6M527.7 116.7v5.6M658.5 115.7h5.6M661.3 112.9v5.6M516.3 108.7h5.6M519.1 105.9v5.6M648.8 126.5h5.6M651.6 123.7v5.6M527.5 120h5.6M530.3 117.2v5.6M641.7 129.5h5.6M644.5 126.7v5.6M605.4 113.5h5.6M608.2 110.7v5.6M576.9 123.1h5.6M579.7 120.3v5.6M506.5 128.2h5.6M509.3 125.4v5.6M653.9 121.9h5.6M656.7 119.1v5.6M477.1 112.9h5.6M479.9 110.1v5.6M633.5 115.2h5.6M636.3 112.4v5.6M504.5 112.5h5.6M507.3 109.7v5.6M535.3 118h5.6M538.1 115.2v5.6M659 115.2h5.6M661.8 112.4v5.6M522.6 108.5h5.6M525.4 105.7v5.6M616.7 110.6h5.6M619.5 107.8v5.6M519.2 110.1h5.6M522 107.3v5.6M656.1 124.2h5.6M658.9 121.4v5.6M474.5 104.1h5.6M477.3 101.3v5.6M652.6 128.3h5.6M655.4 125.5v5.6M614.3 127.4h5.6M617.1 124.6v5.6M480.7 111.9h5.6M483.5 109.1v5.6M508.1 118.5h5.6M510.9 115.7v5.6M643 122.2h5.6M645.8 119.4v5.6M483 116.2h5.6M485.8 113.4v5.6M595.8 113.4h5.6M598.6 110.6v5.6M478.4 110.1h5.6M481.2 107.3v5.6M502.6 112.8h5.6M505.4 110v5.6M661.7 124.9h5.6M664.5 122.1v5.6M523.5 111h5.6M526.3 108.2v5.6M594.7 125.9h5.6M597.5 123.1v5.6M587.2 110.2h5.6M590 107.4v5.6M649.3 111.8h5.6M652.1 109v5.6M572.7 115.3h5.6M575.5 112.5v5.6M518.9 111.4h5.6M521.7 108.6v5.6M658.9 122.2h5.6M661.7 119.4v5.6M571.6 112h5.6M574.4 109.2v5.6M475.7 109.1h5.6M478.5 106.3v5.6M529 123.4h5.6M531.8 120.6v5.6M474.7 103.2h5.6M477.5 100.4v5.6M618.2 124.4h5.6M621 121.6v5.6M510.1 105.5h5.6M512.9 102.7v5.6M475.1 113.7h5.6M477.9 110.9v5.6M660.8 121.6h5.6M663.6 118.8v5.6M643 122.9h5.6M645.8 120.1v5.6M585.6 117.7h5.6M588.4 114.9v5.6M510.6 114.2h5.6M513.4 111.4v5.6M623.8 115h5.6M626.6 112.2v5.6M482.5 111.5h5.6M485.3 108.7v5.6M582.8 110.3h5.6M585.6 107.5v5.6M557.2 108h5.6M560 105.2v5.6M621.8 105.8h5.6M624.6 103v5.6M506.4 120.7h5.6M509.2 117.9v5.6M540.1 113.2h5.6M542.9 110.4v5.6M652.3 124.9h5.6M655.1 122.1v5.6M534.6 117.3h5.6M537.4 114.5v5.6M610.2 121.1h5.6M613 118.3v5.6M524.3 121.7h5.6M527.1 118.9v5.6M630.8 114.8h5.6M633.6 112v5.6M496.3 110.7h5.6M499.1 107.9v5.6M618.9 115h5.6M621.7 112.2v5.6M600.7 119.6h5.6M603.5 116.8v5.6M514.6 123.3h5.6M517.4 120.5v5.6M566 110.6h5.6M568.8 107.8v5.6M586.4 116.7h5.6M589.2 113.9v5.6M519.8 112.5h5.6M522.6 109.7v5.6M555.3 119h5.6M558.1 116.2v5.6M602.6 116.2h5.6M605.4 113.4v5.6M547.2 106.8h5.6M550 104v5.6M478.4 105.2h5.6M481.2 102.4v5.6M629.7 113.9h5.6M632.5 111.1v5.6M601.8 112.2h5.6M604.6 109.4v5.6M621.1 124.8h5.6M623.9 122v5.6M632.7 124.8h5.6M635.5 122v5.6M500.5 116.5h5.6M503.3 113.7v5.6M515.1 111h5.6M517.9 108.2v5.6M545.5 113.5h5.6M548.3 110.7v5.6M526 123.6h5.6M528.8 120.8v5.6M521.5 117.7h5.6M524.3 114.9v5.6M643.8 117.8h5.6M646.6 115v5.6M584.2 119.9h5.6M587 117.1v5.6M507.5 109.4h5.6M510.3 106.6v5.6M508.8 111.5h5.6M511.6 108.7v5.6M470.4 101.2h5.6M473.2 98.4v5.6M638 117.7h5.6M640.8 114.9v5.6M637.7 118.2h5.6M640.5 115.4v5.6M636.5 118.7h5.6M639.3 115.9v5.6M542.1 119.6h5.6M544.9 116.8v5.6M572.6 109h5.6M575.4 106.2v5.6M533.3 112.6h5.6M536.1 109.8v5.6M608.1 115.7h5.6M610.9 112.9v5.6M645.9 115.9h5.6M648.7 113.1v5.6M571.5 115.2h5.6M574.3 112.4v5.6M521 120.2h5.6M523.8 117.4v5.6M520.5 113.2h5.6M523.3 110.4v5.6M491.8 121.1h5.6M494.6 118.3v5.6M495.9 107.5h5.6M498.7 104.7v5.6M574.1 113.5h5.6M576.9 110.7v5.6M536.7 121.2h5.6M539.5 118.4v5.6M650.4 116.2h5.6M653.2 113.4v5.6M527.5 132.6h5.6M530.3 129.8v5.6M563.5 125.9h5.6M566.3 123.1v5.6M590.1 113.7h5.6M592.9 110.9v5.6M576.5 128h5.6M579.3 125.2v5.6M537.9 115.6h5.6M540.7 112.8v5.6M494.6 110.5h5.6M497.4 107.7v5.6M487.6 108.3h5.6M490.4 105.5v5.6M659.8 129.8h5.6M662.6 127v5.6M557.7 118.8h5.6M560.5 116v5.6M570.8 114.3h5.6M573.6 111.5v5.6M551.1 103.5h5.6M553.9 100.7v5.6M548.2 115.5h5.6M551 112.7v5.6M563 125h5.6M565.8 122.2v5.6M552 110.4h5.6M554.8 107.6v5.6M508.5 117.8h5.6M511.3 115v5.6M519.2 112.9h5.6M522 110.1v5.6M619.9 123h5.6M622.7 120.2v5.6M528.1 107.7h5.6M530.9 104.9v5.6M491.2 110.3h5.6M494 107.5v5.6M606.7 127.3h5.6M609.5 124.5v5.6M588.1 113.9h5.6M590.9 111.1v5.6M631.8 113.2h5.6M634.6 110.4v5.6M622.2 125.2h5.6M625 122.4v5.6M502.2 117h5.6M505 114.2v5.6M479.7 111h5.6M482.5 108.2v5.6M518.5 114.4h5.6M521.3 111.6v5.6M547 117.6h5.6M549.8 114.8v5.6M638.3 127.6h5.6M641.1 124.8v5.6M650.7 120.5h5.6M653.5 117.7v5.6M492.8 108.1h5.6M495.6 105.3v5.6M533.4 102.9h5.6M536.2 100.1v5.6M581.3 108h5.6M584.1 105.2v5.6M564.9 104.3h5.6M567.7 101.5v5.6M516.8 109.1h5.6M519.6 106.3v5.6M619.4 117.2h5.6M622.2 114.4v5.6M495.7 108.2h5.6M498.5 105.4v5.6M573.5 117.8h5.6M576.3 115v5.6M608.7 110.8h5.6M611.5 108v5.6M513.1 108.7h5.6M515.9 105.9v5.6M547 110h5.6M549.8 107.2v5.6M556.3 117.6h5.6M559.1 114.8v5.6M492.9 109.8h5.6M495.7 107v5.6M611.1 123.7h5.6M613.9 120.9v5.6M593.7 123.5h5.6M596.5 120.7v5.6M569.2 111.9h5.6M572 109.1v5.6M573 104.5h5.6M575.8 101.7v5.6M558.5 115.9h5.6M561.3 113.1v5.6M660.7 115h5.6M663.5 112.2v5.6M548.3 114h5.6M551.1 111.2v5.6M586 119.5h5.6M588.8 116.7v5.6M522 113.2h5.6M524.8 110.4v5.6M546.4 110.2h5.6M549.2 107.4v5.6M594.7 126.5h5.6M597.5 123.7v5.6M499.2 106.5h5.6M502 103.7v5.6M636.1 128.4h5.6M638.9 125.6v5.6M546.1 111h5.6M548.9 108.2v5.6M519.2 107.3h5.6M522 104.5v5.6M610.1 122.9h5.6M612.9 120.1v5.6M571.1 119.5h5.6M573.9 116.7v5.6M613.7 131.7h5.6M616.5 128.9v5.6M658.3 123.1h5.6M661.1 120.3v5.6M641.6 115.7h5.6M644.4 112.9v5.6M631.9 114.5h5.6M634.7 111.7v5.6M549.8 118.9h5.6M552.6 116.1v5.6M654.1 119.1h5.6M656.9 116.3v5.6M502.5 109.5h5.6M505.3 106.7v5.6M528.1 118.8h5.6M530.9 116v5.6M558.9 112.8h5.6M561.7 110v5.6M475.8 115.1h5.6M478.6 112.3v5.6M479.5 106.1h5.6M482.3 103.3v5.6M563 109h5.6M565.8 106.2v5.6M653.8 124.7h5.6M656.6 121.9v5.6M637 120.4h5.6M639.8 117.6v5.6M480.5 111.7h5.6M483.3 108.9v5.6M581.5 113.8h5.6M584.3 111v5.6M494.6 116.6h5.6M497.4 113.8v5.6M617.3 124.4h5.6M620.1 121.6v5.6M493.9 113.9h5.6M496.7 111.1v5.6M577.2 124.2h5.6M580 121.4v5.6M645.3 123.6h5.6M648.1 120.8v5.6M483.7 109.5h5.6M486.5 106.7v5.6M550.1 119.4h5.6M552.9 116.6v5.6M536.1 112.3h5.6M538.9 109.5v5.6M482.9 117.4h5.6M485.7 114.6v5.6M561.6 115h5.6M564.4 112.2v5.6M478.8 110.8h5.6M481.6 108v5.6M543.3 114.9h5.6M546.1 112.1v5.6M495.6 112.4h5.6M498.4 109.6v5.6M645.2 134.7h5.6M648 131.9v5.6M574.9 120.5h5.6M577.7 117.7v5.6M655.5 122.2h5.6M658.3 119.4v5.6M478.7 116.8h5.6M481.5 114v5.6M497.8 110.4h5.6M500.6 107.6v5.6M527 121.9h5.6M529.8 119.1v5.6M500.8 120.9h5.6M503.6 118.1v5.6M517.4 123.4h5.6M520.2 120.6v5.6M504.6 113.7h5.6M507.4 110.9v5.6M608 114.5h5.6M610.8 111.7v5.6M515.4 115h5.6M518.2 112.2v5.6M496.9 111.5h5.6M499.7 108.7v5.6M550.5 111.2h5.6M553.3 108.4v5.6M515.4 115.5h5.6M518.2 112.7v5.6M521 117.2h5.6M523.8 114.4v5.6M550.8 114.2h5.6M553.6 111.4v5.6M486.6 110.4h5.6M489.4 107.6v5.6M469.8 112h5.6M472.6 109.2v5.6M562.6 117.3h5.6M565.4 114.5v5.6M642.7 123.2h5.6M645.5 120.4v5.6M547.5 118.1h5.6M550.3 115.3v5.6M552.4 116h5.6M555.2 113.2v5.6M499.5 110.9h5.6M502.3 108.1v5.6M496.9 111.2h5.6M499.7 108.4v5.6M489 107.3h5.6M491.8 104.5v5.6M589.3 114.9h5.6M592.1 112.1v5.6M604.4 111.4h5.6M607.2 108.6v5.6M566.1 116.4h5.6M568.9 113.6v5.6M556.4 125.1h5.6M559.2 122.3v5.6M510.4 104.9h5.6M513.2 102.1v5.6M540.8 112.4h5.6M543.6 109.6v5.6M525.8 110.8h5.6M528.6 108v5.6M643.2 117.8h5.6M646 115v5.6M561.2 109.4h5.6M564 106.6v5.6M517.4 122.3h5.6M520.2 119.5v5.6M513.1 110.2h5.6M515.9 107.4v5.6M585.9 119.5h5.6M588.7 116.7v5.6M652 125.7h5.6M654.8 122.9v5.6M656.1 119h5.6M658.9 116.2v5.6M637.6 111.5h5.6M640.4 108.7v5.6M512.7 117.1h5.6M515.5 114.3v5.6M478.3 99.1h5.6M481.1 96.3v5.6M575 114.6h5.6M577.8 111.8v5.6M641.6 115.5h5.6M644.4 112.7v5.6M658.6 121.4h5.6M661.4 118.6v5.6M522.4 111.8h5.6M525.2 109v5.6M663.5 116.6h5.6M666.3 113.8v5.6M652.6 123.9h5.6M655.4 121.1v5.6M629.9 113.8h5.6M632.7 111v5.6M626.1 114.5h5.6M628.9 111.7v5.6M514.3 116.5h5.6M517.1 113.7v5.6M569.2 109h5.6M572 106.2v5.6M639.4 122.5h5.6M642.2 119.7v5.6M507.3 125.4h5.6M510.1 122.6v5.6M580.5 117.1h5.6M583.3 114.3v5.6M624.1 116.5h5.6M626.9 113.7v5.6M603.7 123.3h5.6M606.5 120.5v5.6M604.2 124h5.6M607 121.2v5.6M627.3 116.3h5.6M630.1 113.5v5.6M641.3 114.2h5.6M644.1 111.4v5.6M601.1 118h5.6M603.9 115.2v5.6M576.6 113.9h5.6M579.4 111.1v5.6M560.2 118.9h5.6M563 116.1v5.6M519 110.7h5.6M521.8 107.9v5.6M470.1 119.5h5.6M472.9 116.7v5.6M490.1 107.5h5.6M492.9 104.7v5.6M620.5 112.7h5.6M623.3 109.9v5.6M536.1 107.9h5.6M538.9 105.1v5.6M589 113.4h5.6M591.8 110.6v5.6M553 115.9h5.6M555.8 113.1v5.6M514.3 108.2h5.6M517.1 105.4v5.6M627.8 125.3h5.6M630.6 122.5v5.6M576.2 110.4h5.6M579 107.6v5.6M513.7 114.8h5.6M516.5 112v5.6M637.6 111.2h5.6M640.4 108.4v5.6M648.3 117.4h5.6M651.1 114.6v5.6M488.3 108.5h5.6M491.1 105.7v5.6M505.9 119.6h5.6M508.7 116.8v5.6M648 114h5.6M650.8 111.2v5.6M584.4 113.4h5.6M587.2 110.6v5.6M497 108.2h5.6M499.8 105.4v5.6M523.5 119.7h5.6M526.3 116.9v5.6M502.5 115.7h5.6M505.3 112.9v5.6M522.9 107.5h5.6M525.7 104.7v5.6M586.5 121.6h5.6M589.3 118.8v5.6M531.9 117.1h5.6M534.7 114.3v5.6M471.8 102.3h5.6M474.6 99.5v5.6M596.7 109.7h5.6M599.5 106.9v5.6M478.3 113.7h5.6M481.1 110.9v5.6M475.5 110.7h5.6M478.3 107.9v5.6M551.4 118.6h5.6M554.2 115.8v5.6M596.3 119.4h5.6M599.1 116.6v5.6M602.3 121.7h5.6M605.1 118.9v5.6M647.5 125.3h5.6M650.3 122.5v5.6M602.9 116.5h5.6M605.7 113.7v5.6M639.6 124.3h5.6M642.4 121.5v5.6M621.7 130.3h5.6M624.5 127.5v5.6M655.9 120.2h5.6M658.7 117.4v5.6M509.8 104.8h5.6M512.6 102v5.6M491.9 119.6h5.6M494.7 116.8v5.6M526.5 102.6h5.6M529.3 99.8v5.6M529.3 99.9h5.6M532.1 97.1v5.6M617 125.3h5.6M619.8 122.5v5.6M537.8 113.6h5.6M540.6 110.8v5.6M470.9 113.1h5.6M473.7 110.3v5.6M481.2 113.8h5.6M484 111v5.6M636.9 115.7h5.6M639.7 112.9v5.6M556.2 111.5h5.6M559 108.7v5.6M541.7 119.9h5.6M544.5 117.1v5.6M535.2 108.5h5.6M538 105.7v5.6M654.8 118.3h5.6M657.6 115.5v5.6M658.9 118h5.6M661.7 115.2v5.6M555.3 116.4h5.6M558.1 113.6v5.6M631.9 117.9h5.6M634.7 115.1v5.6M509.1 111.4h5.6M511.9 108.6v5.6M485.3 112.5h5.6M488.1 109.7v5.6M662.1 129.3h5.6M664.9 126.5v5.6M478.8 114.5h5.6M481.6 111.7v5.6M503.8 122.3h5.6M506.6 119.5v5.6M484.4 102.1h5.6M487.2 99.3v5.6M482.4 113h5.6M485.2 110.2v5.6M505.5 114.8h5.6M508.3 112v5.6M554.1 118.1h5.6M556.9 115.3v5.6M498.2 107.2h5.6M501 104.4v5.6M575 112.8h5.6M577.8 110v5.6M634.5 113.9h5.6M637.3 111.1v5.6M483 111.7h5.6M485.8 108.9v5.6M576.9 113.8h5.6M579.7 111v5.6M658.4 116h5.6M661.2 113.2v5.6M595.9 121h5.6M598.7 118.2v5.6M508.3 119.7h5.6M511.1 116.9v5.6M602.8 115.3h5.6M605.6 112.5v5.6M632.9 119.5h5.6M635.7 116.7v5.6M536.1 111.9h5.6M538.9 109.1v5.6M635.3 111.4h5.6M638.1 108.6v5.6M501.5 110.6h5.6M504.3 107.8v5.6M508.9 106.9h5.6M511.7 104.1v5.6M568 114.7h5.6M570.8 111.9v5.6M552.5 115.3h5.6M555.3 112.5v5.6M508.4 109.3h5.6M511.2 106.5v5.6M654.1 113.7h5.6M656.9 110.9v5.6M560.7 123.7h5.6M563.5 120.9v5.6M636.8 122.4h5.6M639.6 119.6v5.6M657.6 124h5.6M660.4 121.2v5.6M647.4 111.8h5.6M650.2 109v5.6M583.8 110.2h5.6M586.6 107.4v5.6M621.3 123.1h5.6M624.1 120.3v5.6M484.3 106.1h5.6M487.1 103.3v5.6M534.1 108.3h5.6M536.9 105.5v5.6M545 131.7h5.6M547.8 128.9v5.6M547.9 141.2h5.6M550.7 138.4v5.6M578.3 127.1h5.6M581.1 124.3v5.6M514.3 105.2h5.6M517.1 102.4v5.6M461.2 110.4h5.6M464 107.6v5.6M623.3 96h5.6M626.1 93.2v5.6M600.3 130h5.6M603.1 127.2v5.6M498.8 106.5h5.6M501.6 103.7v5.6M509.7 93.9h5.6M512.5 91.1v5.6M542.7 114.1h5.6M545.5 111.3v5.6M569.4 126.7h5.6M572.2 123.9v5.6M545.5 113.4h5.6M548.3 110.6v5.6M548 90.9h5.6M550.8 88.1v5.6M519 129.8h5.6M521.8 127v5.6M553.2 108.5h5.6M556 105.7v5.6M488 77.6h5.6M490.8 74.8v5.6M558.5 99.4h5.6M561.3 96.6v5.6M554.1 113.3h5.6M556.9 110.5v5.6M463.1 100.4h5.6M465.9 97.6v5.6M556.9 101.4h5.6M559.7 98.6v5.6M522.1 101.3h5.6M524.9 98.5v5.6M531.2 109.2h5.6M534 106.4v5.6M481.3 118.5h5.6M484.1 115.7v5.6M568.8 120.8h5.6M571.6 118v5.6M605.1 101h5.6M607.9 98.2v5.6M590.3 114.8h5.6M593.1 112v5.6M642.8 128.6h5.6M645.6 125.8v5.6M595.5 140.9h5.6M598.3 138.1v5.6M506 103h5.6M508.8 100.2v5.6M559.6 136h5.6M562.4 133.2v5.6M649.2 90.7h5.6M652 87.9v5.6M533.1 104.3h5.6M535.9 101.5v5.6M570.9 112.9h5.6M573.7 110.1v5.6M561.5 122.7h5.6M564.3 119.9v5.6M463.2 76.3h5.6M466 73.5v5.6M505 104.1h5.6M507.8 101.3v5.6M547.3 90.9h5.6M550.1 88.1v5.6M563.7 93h5.6M566.5 90.2v5.6M634.8 120.7h5.6M637.6 117.9v5.6M510.6 97h5.6M513.4 94.2v5.6M580.6 120.6h5.6M583.4 117.8v5.6M579.5 133h5.6M582.3 130.2v5.6M523.5 110.2h5.6M526.3 107.4v5.6M494.2 112.1h5.6M497 109.3v5.6M596.5 90.4h5.6M599.3 87.6v5.6M510.5 116.7h5.6M513.3 113.9v5.6M652.8 136.7h5.6M655.6 133.9v5.6M592.4 111.6h5.6M595.2 108.8v5.6M586.3 94.7h5.6M589.1 91.9v5.6M524.7 133.1h5.6M527.5 130.3v5.6M642.4 127.3h5.6M645.2 124.5v5.6M492.4 92.2h5.6M495.2 89.4v5.6M590.4 130.1h5.6M593.2 127.3v5.6M596 74.5h5.6M598.8 71.7v5.6M539.3 107.1h5.6M542.1 104.3v5.6M612.7 119h5.6M615.5 116.2v5.6M592.6 101.3h5.6M595.4 98.5v5.6M483.9 109.2h5.6M486.7 106.4v5.6M571.1 103.9h5.6M573.9 101.1v5.6M485.7 94.5h5.6M488.5 91.7v5.6M586.4 123.3h5.6M589.2 120.5v5.6M513.9 105.4h5.6M516.7 102.6v5.6M467.2 99.9h5.6M470 97.1v5.6M501.3 125.4h5.6M504.1 122.6v5.6M615.5 117.2h5.6M618.3 114.4v5.6M489.1 106.5h5.6M491.9 103.7v5.6M600.5 100.7h5.6M603.3 97.9v5.6M524.4 111h5.6M527.2 108.2v5.6M534.4 106.6h5.6M537.2 103.8v5.6M537.6 110.6h5.6M540.4 107.8v5.6M529.7 122.9h5.6M532.5 120.1v5.6M612.4 116.4h5.6M615.2 113.6v5.6M658.7 116.1h5.6M661.5 113.3v5.6M646.9 123.7h5.6M649.7 120.9v5.6M554.1 104.2h5.6M556.9 101.4v5.6M503.1 105.3h5.6M505.9 102.5v5.6M605.6 144.9h5.6M608.4 142.1v5.6M541.7 96.5h5.6M544.5 93.7v5.6M497.7 138.7h5.6M500.5 135.9v5.6M596.7 97.9h5.6M599.5 95.1v5.6M622.7 82.4h5.6M625.5 79.6v5.6M543.8 114.5h5.6M546.6 111.7v5.6M473.1 121.7h5.6M475.9 118.9v5.6M565 101.5h5.6M567.8 98.7v5.6M634.4 111.6h5.6M637.2 108.8v5.6M578 116.6h5.6M580.8 113.8v5.6M574.1 106h5.6M576.9 103.2v5.6M564.2 108h5.6M567 105.2v5.6M555.3 119.3h5.6M558.1 116.5v5.6M551.6 120.6h5.6M554.4 117.8v5.6M538.5 107.5h5.6M541.3 104.7v5.6M571 111.1h5.6M573.8 108.3v5.6M567.8 103.8h5.6M570.6 101v5.6M652.1 132.1h5.6M654.9 129.3v5.6M467.2 108.6h5.6M470 105.8v5.6M565.9 118.8h5.6M568.7 116v5.6M557 108.9h5.6M559.8 106.1v5.6M586 129.4h5.6M588.8 126.6v5.6M589.2 98.2h5.6M592 95.4v5.6M473 94.3h5.6M475.8 91.5v5.6M583.8 110.8h5.6M586.6 108v5.6M573.9 113.8h5.6M576.7 111v5.6M606.7 104.6h5.6M609.5 101.8v5.6M541.2 123.5h5.6M544 120.7v5.6M588.6 118h5.6M591.4 115.2v5.6M558.1 91.6h5.6M560.9 88.8v5.6M624.2 117.6h5.6M627 114.8v5.6M661.7 100h5.6M664.5 97.2v5.6M555.5 122.1h5.6M558.3 119.3v5.6M514.4 116.5h5.6M517.2 113.7v5.6M526.1 126.7h5.6M528.9 123.9v5.6M484 127.9h5.6M486.8 125.1v5.6M617.3 131h5.6M620.1 128.2v5.6M491.3 105.7h5.6M494.1 102.9v5.6M486.6 92.2h5.6M489.4 89.4v5.6M641.2 101.5h5.6M644 98.7v5.6M513.5 120.9h5.6M516.3 118.1v5.6M575 114.2h5.6M577.8 111.4v5.6M592.8 129h5.6M595.6 126.2v5.6M583 96h5.6M585.8 93.2v5.6M596.8 129.5h5.6M599.6 126.7v5.6M571.4 101h5.6M574.2 98.2v5.6M600.9 128.7h5.6M603.7 125.9v5.6M523.6 99.2h5.6M526.4 96.4v5.6M505.6 101h5.6M508.4 98.2v5.6M658.2 114.5h5.6M661 111.7v5.6M528.2 84.4h5.6M531 81.6v5.6M499.3 122.3h5.6M502.1 119.5v5.6M663.1 125.7h5.6M665.9 122.9v5.6M586.3 106.6h5.6M589.1 103.8v5.6M483 103.8h5.6M485.8 101v5.6M561 126.6h5.6M563.8 123.8v5.6M597.6 118.7h5.6M600.4 115.9v5.6M551 105.5h5.6M553.8 102.7v5.6M513 131.1h5.6M515.8 128.3v5.6M629.7 108.4h5.6M632.5 105.6v5.6M465.9 108h5.6M468.7 105.2v5.6M654.5 145.3h5.6M657.3 142.5v5.6M662.4 125.8h5.6M665.2 123v5.6M478.8 108.3h5.6M481.6 105.5v5.6M603.3 118.6h5.6M606.1 115.8v5.6M622.2 139.5h5.6M625 136.7v5.6M616.7 98.5h5.6M619.5 95.7v5.6M561.8 116.4h5.6M564.6 113.6v5.6M475.7 102.5h5.6M478.5 99.7v5.6M570.7 124h5.6M573.5 121.2v5.6M568.5 116.5h5.6M571.3 113.7v5.6M476.4 117h5.6M479.2 114.2v5.6M491 91.8h5.6M493.8 89v5.6M567 96.2h5.6M569.8 93.4v5.6M503.3 90.7h5.6M506.1 87.9v5.6M650.4 88.5h5.6M653.2 85.7v5.6M517.8 130h5.6M520.6 127.2v5.6M599.4 83.5h5.6M602.2 80.7v5.6M601.5 101.2h5.6M604.3 98.4v5.6M467.7 105.8h5.6M470.5 103v5.6M531.2 108.3h5.6M534 105.5v5.6M651.6 116.5h5.6M654.4 113.7v5.6M625.5 129.9h5.6M628.3 127.1v5.6M462.3 122.8h5.6M465.1 120v5.6M475.6 114.2h5.6M478.4 111.4v5.6M647.9 144.1h5.6M650.7 141.3v5.6M590.9 154.2h5.6M593.7 151.4v5.6M587 105.3h5.6M589.8 102.5v5.6M643.3 107.8h5.6M646.1 105v5.6M574.3 125.3h5.6M577.1 122.5v5.6M533.3 125h5.6M536.1 122.2v5.6M462.5 108h5.6M465.3 105.2v5.6M478.8 101.9h5.6M481.6 99.1v5.6M471.2 108.6h5.6M474 105.8v5.6M602.7 161.9h5.6M605.5 159.1v5.6M629.8 111.6h5.6M632.6 108.8v5.6M537.9 87.7h5.6M540.7 84.9v5.6M634.7 117.7h5.6M637.5 114.9v5.6M567.7 103.6h5.6M570.5 100.8v5.6M505.8 113.1h5.6M508.6 110.3v5.6M621.4 95.8h5.6M624.2 93v5.6M660.9 127.1h5.6M663.7 124.3v5.6M555.9 125.1h5.6M558.7 122.3v5.6M579.8 141.4h5.6M582.6 138.6v5.6M576 132.4h5.6M578.8 129.6v5.6M656.5 134.5h5.6M659.3 131.7v5.6M466 107.8h5.6M468.8 105v5.6M526.3 115.1h5.6M529.1 112.3v5.6M549.9 114h5.6M552.7 111.2v5.6M483.8 113.9h5.6M486.6 111.1v5.6M647.1 90.9h5.6M649.9 88.1v5.6M483.5 124.3h5.6M486.3 121.5v5.6M471.1 118.5h5.6M473.9 115.7v5.6M520.9 126.8h5.6M523.7 124v5.6M576.5 118.7h5.6M579.3 115.9v5.6M473.6 124.6h5.6M476.4 121.8v5.6M498.9 123.9h5.6M501.7 121.1v5.6M576 89.1h5.6M578.8 86.3v5.6M586.1 127.7h5.6M588.9 124.9v5.6M566.5 115.1h5.6M569.3 112.3v5.6M604.5 132.1h5.6M607.3 129.3v5.6M536.3 134.5h5.6M539.1 131.7v5.6M579.7 123.3h5.6M582.5 120.5v5.6M583.3 125.4h5.6M586.1 122.6v5.6M594 108h5.6M596.8 105.2v5.6M551.2 126.8h5.6M554 124v5.6M519.5 107.8h5.6M522.3 105v5.6M588 109.7h5.6M590.8 106.9v5.6M592.8 122.7h5.6M595.6 119.9v5.6M568.7 128.4h5.6M571.5 125.6v5.6M541.9 129.2h5.6M544.7 126.4v5.6M462.3 120.6h5.6M465.1 117.8v5.6M588.7 103.6h5.6M591.5 100.8v5.6M649.4 130.3h5.6M652.2 127.5v5.6M531.7 130h5.6M534.5 127.2v5.6M622.4 98.3h5.6M625.2 95.5v5.6M560.1 94h5.6M562.9 91.2v5.6M552.8 120.5h5.6M555.6 117.7v5.6M663.5 136.1h5.6M666.3 133.3v5.6M484.8 93.9h5.6M487.6 91.1v5.6M506.3 104.8h5.6M509.1 102v5.6M506.6 95.1h5.6M509.4 92.3v5.6M520 112.9h5.6M522.8 110.1v5.6M534.6 111.8h5.6M537.4 109v5.6M487.7 100.7h5.6M490.5 97.9v5.6M659.6 121.1h5.6M662.4 118.3v5.6M482.4 123.6h5.6M485.2 120.8v5.6M659.4 115.1h5.6M662.2 112.3v5.6M637.7 122.6h5.6M640.5 119.8v5.6M572.8 100.7h5.6M575.6 97.9v5.6M549.1 115.6h5.6M551.9 112.8v5.6M461.8 118.7h5.6M464.6 115.9v5.6M640.1 123.5h5.6M642.9 120.7v5.6M505.9 102.8h5.6M508.7 100v5.6M624.9 126.4h5.6M627.7 123.6v5.6M606 100.7h5.6M608.8 97.9v5.6M533.7 120.7h5.6M536.5 117.9v5.6M513.8 111.7h5.6M516.6 108.9v5.6M521.2 106.4h5.6M524 103.6v5.6M524.9 112.2h5.6M527.7 109.4v5.6M562.7 116.3h5.6M565.5 113.5v5.6M563.8 103.4h5.6M566.6 100.6v5.6M502.5 94.1h5.6M505.3 91.3v5.6M611.9 103.7h5.6M614.7 100.9v5.6M523.9 88.2h5.6M526.7 85.4v5.6M479.4 105.1h5.6M482.2 102.3v5.6M487.1 103.5h5.6M489.9 100.7v5.6M449.1 37.2h5.6M451.9 34.4v5.6M456.4 57.2h5.6M459.2 54.4v5.6M472 73.1h5.6M474.8 70.3v5.6M509.5 69.2h5.6M512.3 66.4v5.6M465.5 61.5h5.6M468.3 58.7v5.6M486.4 57.8h5.6M489.2 55v5.6M493.7 76.9h5.6M496.5 74.1v5.6M466 78.5h5.6M468.8 75.7v5.6M477.3 62.1h5.6M480.1 59.3v5.6M463 59.8h5.6M465.8 57v5.6M474.4 74.1h5.6M477.2 71.3v5.6M444.9 50.1h5.6M447.7 47.3v5.6M526.9 79.8h5.6M529.7 77v5.6M447.9 71.9h5.6M450.7 69.1v5.6M477 64.1h5.6M479.8 61.3v5.6M504.7 102.1h5.6M507.5 99.3v5.6M512 79.1h5.6M514.8 76.3v5.6M474.5 65.9h5.6M477.3 63.1v5.6M463.8 69.3h5.6M466.6 66.5v5.6M494.6 92.5h5.6M497.4 89.7v5.6M469.1 62.6h5.6M471.9 59.8v5.6M435.5 59.8h5.6M438.3 57v5.6M505 75h5.6M507.8 72.2v5.6M487 66.5h5.6M489.8 63.7v5.6M476.4 66.8h5.6M479.2 64v5.6M453.8 65.6h5.6M456.6 62.8v5.6M512 92.7h5.6M514.8 89.9v5.6M467.9 80.1h5.6M470.7 77.3v5.6M459.9 72.9h5.6M462.7 70.1v5.6M444.8 58.6h5.6M447.6 55.8v5.6M450.9 57.6h5.6M453.7 54.8v5.6M511.1 105.4h5.6M513.9 102.6v5.6M468 88.2h5.6M470.8 85.4v5.6M468.9 64.4h5.6M471.7 61.6v5.6M476.2 58.4h5.6M479 55.6v5.6M475.1 86.7h5.6M477.9 83.9v5.6M504.5 87.8h5.6M507.3 85v5.6M469.6 65.1h5.6M472.4 62.3v5.6M452.4 62.3h5.6M455.2 59.5v5.6M504.3 94.9h5.6M507.1 92.1v5.6M435.2 62.5h5.6M438 59.7v5.6M468 80.3h5.6M470.8 77.5v5.6M480.2 84.3h5.6M483 81.5v5.6M484.2 73.2h5.6M487 70.4v5.6M475.2 83h5.6M478 80.2v5.6M466.9 62.8h5.6M469.7 60v5.6M433.3 67.9h5.6M436.1 65.1v5.6M492.9 55.6h5.6M495.7 52.8v5.6M486.1 73.8h5.6M488.9 71v5.6M448 65.9h5.6M450.8 63.1v5.6M466.2 62.9h5.6M469 60.1v5.6M466.1 43h5.6M468.9 40.2v5.6M500.7 98.9h5.6M503.5 96.1v5.6M446.1 61.4h5.6M448.9 58.6v5.6M493.2 71.2h5.6M496 68.4v5.6M501.2 71.8h5.6M504 69v5.6M527.8 77.5h5.6M530.6 74.7v5.6M481.8 56.9h5.6M484.6 54.1v5.6M461.9 71.4h5.6M464.7 68.6v5.6M449.5 59.9h5.6M452.3 57.1v5.6M481.3 62.5h5.6M484.1 59.7v5.6M503.4 72.1h5.6M506.2 69.3v5.6M498.7 79.3h5.6M501.5 76.5v5.6M450.6 55.5h5.6M453.4 52.7v5.6M493.9 62.3h5.6M496.7 59.5v5.6M468.1 72.5h5.6M470.9 69.7v5.6M463.8 63h5.6M466.6 60.2v5.6M470.7 70.4h5.6M473.5 67.6v5.6M477.3 73.4h5.6M480.1 70.6v5.6M479.1 77h5.6M481.9 74.2v5.6M437.9 62h5.6M440.7 59.2v5.6M513.2 89.1h5.6M516 86.3v5.6M491.8 61.6h5.6M494.6 58.8v5.6M459.8 62.9h5.6M462.6 60.1v5.6M505.5 77h5.6M508.3 74.2v5.6M455.4 63h5.6M458.2 60.2v5.6M478 74.8h5.6M480.8 72v5.6M465 75h5.6M467.8 72.2v5.6M484.3 70.7h5.6M487.1 67.9v5.6M479.3 76.1h5.6M482.1 73.3v5.6M482.6 75.1h5.6M485.4 72.3v5.6M478.3 72.4h5.6M481.1 69.6v5.6M457.2 75.5h5.6M460 72.7v5.6M430.9 70.4h5.6M433.7 67.6v5.6M481.9 39.7h5.6M484.7 36.9v5.6M435.8 66.4h5.6M438.6 63.6v5.6M471.6 33.6h5.6M474.4 30.8v5.6M467.3 79.1h5.6M470.1 76.3v5.6M481 51h5.6M483.8 48.2v5.6M498.9 88.4h5.6M501.7 85.6v5.6M469.5 74.5h5.6M472.3 71.7v5.6M488.5 88.3h5.6M491.3 85.5v5.6M478.6 68.8h5.6M481.4 66v5.6M484.2 68.4h5.6M487 65.6v5.6M475.2 87.5h5.6M478 84.7v5.6M464.7 76.2h5.6M467.5 73.4v5.6M483.4 74.7h5.6M486.2 71.9v5.6M475.1 59h5.6M477.9 56.2v5.6M469.4 51.6h5.6M472.2 48.8v5.6M490.1 89.1h5.6M492.9 86.3v5.6M459 53.1h5.6M461.8 50.3v5.6M460.8 53.9h5.6M463.6 51.1v5.6M459.5 66.6h5.6M462.3 63.8v5.6M494.3 91.2h5.6M497.1 88.4v5.6M473.5 74h5.6M476.3 71.2v5.6M475.5 53.1h5.6M478.3 50.3v5.6M482.5 85.6h5.6M485.3 82.8v5.6M492.9 79.7h5.6M495.7 76.9v5.6M475.4 58.6h5.6M478.2 55.8v5.6M465 57.5h5.6M467.8 54.7v5.6M475.7 79.1h5.6M478.5 76.3v5.6M465 80.5h5.6M467.8 77.7v5.6M497.7 75h5.6M500.5 72.2v5.6M493 86.3h5.6M495.8 83.5v5.6M490.4 86.3h5.6M493.2 83.5v5.6M478 71h5.6M480.8 68.2v5.6M458.9 62.1h5.6M461.7 59.3v5.6M472.6 77.9h5.6M475.4 75.1v5.6M455.5 77.2h5.6M458.3 74.4v5.6M501.8 76.4h5.6M504.6 73.6v5.6M463.8 59.8h5.6M466.6 57v5.6M452.9 75h5.6M455.7 72.2v5.6M479.6 55.5h5.6M482.4 52.7v5.6M478.4 69.4h5.6M481.2 66.6v5.6M510 95.6h5.6M512.8 92.8v5.6M538.8 99.7h5.6M541.6 96.9v5.6M470.2 81.9h5.6M473 79.1v5.6M445.2 63.6h5.6M448 60.8v5.6M525.3 94.1h5.6M528.1 91.3v5.6M458.3 62.4h5.6M461.1 59.6v5.6M449.5 65h5.6M452.3 62.2v5.6M489.7 96h5.6M492.5 93.2v5.6M465.2 70h5.6M468 67.2v5.6M460.6 66.9h5.6M463.4 64.1v5.6M432.4 61.8h5.6M435.2 59v5.6M460.4 75.9h5.6M463.2 73.1v5.6M499.5 57.2h5.6M502.3 54.4v5.6M489.3 82.8h5.6M492.1 80v5.6M502.9 73.2h5.6M505.7 70.4v5.6M453.9 57.7h5.6M456.7 54.9v5.6M459.1 59.6h5.6M461.9 56.8v5.6M492 63.4h5.6M494.8 60.6v5.6M448.7 63.5h5.6M451.5 60.7v5.6M471.9 81.2h5.6M474.7 78.4v5.6M480.9 64.8h5.6M483.7 62v5.6M441.6 65.6h5.6M444.4 62.8v5.6M447.6 74.6h5.6M450.4 71.8v5.6M448.5 48.5h5.6M451.3 45.7v5.6M457.3 68.7h5.6M460.1 65.9v5.6M493.5 65.2h5.6M496.3 62.4v5.6M502.6 98.8h5.6M505.4 96v5.6M488.4 91.4h5.6M491.2 88.6v5.6M457.9 69.1h5.6M460.7 66.3v5.6M459.3 45.8h5.6M462.1 43v5.6M468.2 56.3h5.6M471 53.5v5.6M467.9 68.5h5.6M470.7 65.7v5.6M483 67.9h5.6M485.8 65.1v5.6M482.8 89.6h5.6M485.6 86.8v5.6M482.9 69.1h5.6M485.7 66.3v5.6M484.9 73.4h5.6M487.7 70.6v5.6M480.8 84.7h5.6M483.6 81.9v5.6M496.6 88.5h5.6M499.4 85.7v5.6M502.5 68h5.6M505.3 65.2v5.6M470.4 71.6h5.6M473.2 68.8v5.6M488.8 77.1h5.6M491.6 74.3v5.6M533.6 67.8h5.6M536.4 65v5.6M543.4 65.4h5.6M546.2 62.6v5.6M490.6 50.9h5.6M493.4 48.1v5.6M540 89.7h5.6M542.8 86.9v5.6M537.7 85h5.6M540.5 82.2v5.6M530.1 57.8h5.6M532.9 55v5.6M564.9 86.5h5.6M567.7 83.7v5.6M551.3 85.2h5.6M554.1 82.4v5.6M549.3 82h5.6M552.1 79.2v5.6M491.5 60.9h5.6M494.3 58.1v5.6M495.6 87.6h5.6M498.4 84.8v5.6M490.9 56.2h5.6M493.7 53.4v5.6M498.9 91.8h5.6M501.7 89v5.6M488.6 73.8h5.6M491.4 71v5.6M518.3 84.9h5.6M521.1 82.1v5.6M571.5 89.4h5.6M574.3 86.6v5.6M551.8 87.4h5.6M554.6 84.6v5.6M554.1 88.1h5.6M556.9 85.3v5.6M512.3 71.6h5.6M515.1 68.8v5.6M542.8 88.8h5.6M545.6 86v5.6M555.7 59.6h5.6M558.5 56.8v5.6M546.6 75h5.6M549.4 72.2v5.6M572 91.5h5.6M574.8 88.7v5.6M542.5 66.8h5.6M545.3 64v5.6M509.3 75.1h5.6M512.1 72.3v5.6M547.8 75.2h5.6M550.6 72.4v5.6M532.5 87.6h5.6M535.3 84.8v5.6M500 94h5.6M502.8 91.2v5.6M581.8 87.6h5.6M584.6 84.8v5.6M566.4 64.4h5.6M569.2 61.6v5.6M514.2 60.1h5.6M517 57.3v5.6M570.6 84.1h5.6M573.4 81.3v5.6M508.2 73.6h5.6M511 70.8v5.6M547.3 81h5.6M550.1 78.2v5.6M561.8 87.1h5.6M564.6 84.3v5.6M495.1 94.3h5.6M497.9 91.5v5.6M545.7 65h5.6M548.5 62.2v5.6M533.6 66.3h5.6M536.4 63.5v5.6M503.8 84h5.6M506.6 81.2v5.6M546.6 74h5.6M549.4 71.2v5.6M533.9 56.5h5.6M536.7 53.7v5.6M490 69.5h5.6M492.8 66.7v5.6M489.3 84.6h5.6M492.1 81.8v5.6M503.8 75h5.6M506.6 72.2v5.6M500.7 46.7h5.6M503.5 43.9v5.6M515.9 79.1h5.6M518.7 76.3v5.6M491.2 75.8h5.6M494 73v5.6M568.1 66.7h5.6M570.9 63.9v5.6M580 63h5.6M582.8 60.2v5.6M553 72.8h5.6M555.8 70v5.6M573.7 71.6h5.6M576.5 68.8v5.6M498.5 83.2h5.6M501.3 80.4v5.6M569.6 91.8h5.6M572.4 89v5.6M503 62.5h5.6M505.8 59.7v5.6M557.2 70.8h5.6M560 68v5.6M459.5 92.6h5.6M462.3 89.8v5.6M456.1 94.6h5.6M458.9 91.8v5.6M451.3 92.7h5.6M454.1 89.9v5.6M440.9 86.2h5.6M443.7 83.4v5.6M444 94.3h5.6M446.8 91.5v5.6M466.1 94h5.6M468.9 91.2v5.6M452.2 91.4h5.6M455 88.6v5.6M444.4 99.8h5.6M447.2 97v5.6M435.7 86.7h5.6M438.5 83.9v5.6M449.7 86.8h5.6M452.5 84v5.6M439.3 97.6h5.6M442.1 94.8v5.6M435.9 86.3h5.6M438.7 83.5v5.6M438 95.5h5.6M440.8 92.7v5.6M461.3 100h5.6M464.1 97.2v5.6M509.2 138.7h5.6M512 135.9v5.6M590.9 141.7h5.6M593.7 138.9v5.6M570.2 125.5h5.6M573 122.7v5.6M539.7 117.3h5.6M542.5 114.5v5.6M532.7 135.8h5.6M535.5 133v5.6M491.4 131.7h5.6M494.2 128.9v5.6M547.7 118.9h5.6M550.5 116.1v5.6M546.5 139.1h5.6M549.3 136.3v5.6M585.9 130.9h5.6M588.7 128.1v5.6M568.8 117.5h5.6M571.6 114.7v5.6M545.8 117.5h5.6M548.6 114.7v5.6M567.4 129.7h5.6M570.2 126.9v5.6M486.7 147.3h5.6M489.5 144.5v5.6M519.8 111.1h5.6M522.6 108.3v5.6M531.5 143.2h5.6M534.3 140.4v5.6M520 138.2h5.6M522.8 135.4v5.6M578.1 132.9h5.6M580.9 130.1v5.6M540.9 137.8h5.6M543.7 135v5.6M499.6 116.5h5.6M502.4 113.7v5.6M466.2 121.8h5.6M469 119v5.6M499.4 112.9h5.6M502.2 110.1v5.6M486.1 147.1h5.6M488.9 144.3v5.6M481.9 132.2h5.6M484.7 129.4v5.6M478.8 117.6h5.6M481.6 114.8v5.6M566.1 123.2h5.6M568.9 120.4v5.6M495.9 116.8h5.6M498.7 114v5.6M545.1 120.6h5.6M547.9 117.8v5.6M571.5 122.6h5.6M574.3 119.8v5.6M462.3 123.9h5.6M465.1 121.1v5.6M569.9 126.5h5.6M572.7 123.7v5.6M548.2 127.9h5.6M551 125.1v5.6M482.9 105.8h5.6M485.7 103v5.6M524.3 129.5h5.6M527.1 126.7v5.6M468.8 138.1h5.6M471.6 135.3v5.6M466.3 116.2h5.6M469.1 113.4v5.6M578.2 109.4h5.6M581 106.6v5.6M499.6 114h5.6M502.4 111.2v5.6M486.2 122.2h5.6M489 119.4v5.6M577.3 115.8h5.6M580.1 113v5.6M562.2 137.6h5.6M565 134.8v5.6M562.4 125h5.6M565.2 122.2v5.6M554.9 137.2h5.6M557.7 134.4v5.6M461.8 128.6h5.6M464.6 125.8v5.6M589.4 140.4h5.6M592.2 137.6v5.6M563.3 143.7h5.6M566.1 140.9v5.6M537 124.1h5.6M539.8 121.3v5.6M541.1 121.9h5.6M543.9 119.1v5.6M494 126.2h5.6M496.8 123.4v5.6M552.5 117.6h5.6M555.3 114.8v5.6M559.7 136.1h5.6M562.5 133.3v5.6M543.7 124.3h5.6M546.5 121.5v5.6M536.5 122.7h5.6M539.3 119.9v5.6M559.1 142.1h5.6M561.9 139.3v5.6M504 119.9h5.6M506.8 117.1v5.6M501.5 122.1h5.6M504.3 119.3v5.6M536.3 119.9h5.6M539.1 117.1v5.6M474.6 124.6h5.6M477.4 121.8v5.6M556.2 129.8h5.6M559 127v5.6M505.7 119.9h5.6M508.5 117.1v5.6M463.5 128.1h5.6M466.3 125.3v5.6M550.8 141.6h5.6M553.6 138.8v5.6M547.7 116.8h5.6M550.5 114v5.6M518.1 135.2h5.6M520.9 132.4v5.6M503.3 139h5.6M506.1 136.2v5.6M485.7 133.1h5.6M488.5 130.3v5.6M466.4 135.4h5.6M469.2 132.6v5.6M481.4 129.7h5.6M484.2 126.9v5.6M529 126.3h5.6M531.8 123.5v5.6M512 131.8h5.6M514.8 129v5.6M557 114.2h5.6M559.8 111.4v5.6M468.9 149.7h5.6M471.7 146.9v5.6M539.8 145.5h5.6M542.6 142.7v5.6M589.5 130h5.6M592.3 127.2v5.6M503.1 120.3h5.6M505.9 117.5v5.6M490.9 122.5h5.6M493.7 119.7v5.6M525.9 121.8h5.6M528.7 119v5.6M566.7 129.4h5.6M569.5 126.6v5.6M560.8 132.1h5.6M563.6 129.3v5.6M543.9 128.8h5.6M546.7 126v5.6M573 128.9h5.6M575.8 126.1v5.6M477.8 126h5.6M480.6 123.2v5.6M564.7 121.6h5.6M567.5 118.8v5.6M584.3 114.7h5.6M587.1 111.9v5.6M571.1 139.2h5.6M573.9 136.4v5.6M522.1 121.3h5.6M524.9 118.5v5.6M478.6 123.5h5.6M481.4 120.7v5.6M475.4 120.2h5.6M478.2 117.4v5.6M466.7 119.1h5.6M469.5 116.3v5.6M498.9 122.4h5.6M501.7 119.6v5.6M527 133.5h5.6M529.8 130.7v5.6M571.9 114.8h5.6M574.7 112v5.6M531.4 126.7h5.6M534.2 123.9v5.6M464.1 112.2h5.6M466.9 109.4v5.6M473.5 136.3h5.6M476.3 133.5v5.6M586.4 142.5h5.6M589.2 139.7v5.6M488 132.5h5.6M490.8 129.7v5.6M464.2 129.4h5.6M467 126.6v5.6M483.9 140.4h5.6M486.7 137.6v5.6M464.6 132.5h5.6M467.4 129.7v5.6M505.4 130.7h5.6M508.2 127.9v5.6M574.1 134.4h5.6M576.9 131.6v5.6M551.9 131h5.6M554.7 128.2v5.6M554.8 150.5h5.6M557.6 147.7v5.6M522.6 137.5h5.6M525.4 134.7v5.6M545.5 121.3h5.6M548.3 118.5v5.6M499.5 124h5.6M502.3 121.2v5.6M516.6 132.2h5.6M519.4 129.4v5.6M550.9 129.4h5.6M553.7 126.6v5.6M467.3 125.5h5.6M470.1 122.7v5.6M463.3 112.7h5.6M466.1 109.9v5.6M503.3 121.4h5.6M506.1 118.6v5.6M509.5 141.5h5.6M512.3 138.7v5.6M482.1 126h5.6M484.9 123.2v5.6M470.8 144.5h5.6M473.6 141.7v5.6M515.1 141.3h5.6M517.9 138.5v5.6M486.8 130.5h5.6M489.6 127.7v5.6M568.1 142.9h5.6M570.9 140.1v5.6M584.6 141.2h5.6M587.4 138.4v5.6M549.9 132.8h5.6M552.7 130v5.6M496 133.6h5.6M498.8 130.8v5.6M509.2 122.5h5.6M512 119.7v5.6M496.7 138.4h5.6M499.5 135.6v5.6M578.7 156.3h5.6M581.5 153.5v5.6M545.9 131.6h5.6M548.7 128.8v5.6M556.6 145.7h5.6M559.4 142.9v5.6M523.1 103.6h5.6M525.9 100.8v5.6M548.6 138.4h5.6M551.4 135.6v5.6M483.3 119.5h5.6M486.1 116.7v5.6M508.5 140.5h5.6M511.3 137.7v5.6M480.9 117.9h5.6M483.7 115.1v5.6M486.1 132.8h5.6M488.9 130v5.6M576 138.5h5.6M578.8 135.7v5.6M462.7 141.8h5.6M465.5 139v5.6M559.3 123.1h5.6M562.1 120.3v5.6M506.5 136.5h5.6M509.3 133.7v5.6M460.8 126h5.6M463.6 123.2v5.6M470.8 122.9h5.6M473.6 120.1v5.6M485.3 107.2h5.6M488.1 104.4v5.6M497.6 140.3h5.6M500.4 137.5v5.6M545.3 134h5.6M548.1 131.2v5.6M500.7 127.7h5.6M503.5 124.9v5.6M564.5 128.4h5.6M567.3 125.6v5.6M509.7 128.9h5.6M512.5 126.1v5.6M524.9 121.7h5.6M527.7 118.9v5.6M479.8 127.9h5.6M482.6 125.1v5.6M485.1 122.2h5.6M487.9 119.4v5.6M529.4 130.2h5.6M532.2 127.4v5.6M574.6 126.1h5.6M577.4 123.3v5.6M468 132.1h5.6M470.8 129.3v5.6M467.7 121.3h5.6M470.5 118.5v5.6M499 140.2h5.6M501.8 137.4v5.6M494.2 121.3h5.6M497 118.5v5.6M510 116.4h5.6M512.8 113.6v5.6M518.6 135.5h5.6M521.4 132.7v5.6M488 121.4h5.6M490.8 118.6v5.6M491.6 147.7h5.6M494.4 144.9v5.6M571.9 137.5h5.6M574.7 134.7v5.6M463.5 117.5h5.6M466.3 114.7v5.6M492 126.1h5.6M494.8 123.3v5.6M568.6 123.5h5.6M571.4 120.7v5.6M585 137.7h5.6M587.8 134.9v5.6M499.7 111.4h5.6M502.5 108.6v5.6M536.4 121.3h5.6M539.2 118.5v5.6M527.8 108.6h5.6M530.6 105.8v5.6M537.7 125.3h5.6M540.5 122.5v5.6M524.5 138.9h5.6M527.3 136.1v5.6M553.6 141.4h5.6M556.4 138.6v5.6M499.4 124.8h5.6M502.2 122v5.6M480.2 121.7h5.6M483 118.9v5.6M537.7 103.7h5.6M540.5 100.9v5.6M462.5 120.4h5.6M465.3 117.6v5.6M527.3 116.5h5.6M530.1 113.7v5.6M590 127.8h5.6M592.8 125v5.6M566 131.8h5.6M568.8 129v5.6M589.2 131.3h5.6M592 128.5v5.6M510.2 150.6h5.6M513 147.8v5.6M542.8 135.4h5.6M545.6 132.6v5.6M554.2 144.6h5.6M557 141.8v5.6M567.9 138.6h5.6M570.7 135.8v5.6M538.5 114.2h5.6M541.3 111.4v5.6M586.4 136.5h5.6M589.2 133.7v5.6M573.2 118.3h5.6M576 115.5v5.6M559.9 131.2h5.6M562.7 128.4v5.6M480.6 130.9h5.6M483.4 128.1v5.6M501.9 128.3h5.6M504.7 125.5v5.6M546.8 130.8h5.6M549.6 128v5.6M475.9 123.1h5.6M478.7 120.3v5.6M532.2 121.1h5.6M535 118.3v5.6M554.4 122.8h5.6M557.2 120v5.6M471.4 127.8h5.6M474.2 125v5.6M572.8 147.9h5.6M575.6 145.1v5.6M554.1 140.5h5.6M556.9 137.7v5.6M477.2 130.1h5.6M480 127.3v5.6M519.2 122.6h5.6M522 119.8v5.6M497.6 113.7h5.6M500.4 110.9v5.6M485 141.5h5.6M487.8 138.7v5.6M591.4 121.8h5.6M594.2 119v5.6M574.9 132.3h5.6M577.7 129.5v5.6M584.4 131.4h5.6M587.2 128.6v5.6M542.8 137.6h5.6M545.6 134.8v5.6M560.8 135.2h5.6M563.6 132.4v5.6M471.8 116.5h5.6M474.6 113.7v5.6M480.7 123.7h5.6M483.5 120.9v5.6M552.4 136.9h5.6M555.2 134.1v5.6M516.5 129.4h5.6M519.3 126.6v5.6M471.5 133h5.6M474.3 130.2v5.6M547.8 129.2h5.6M550.6 126.4v5.6M521 121.3h5.6M523.8 118.5v5.6M525.3 116.6h5.6M528.1 113.8v5.6M517.3 136.8h5.6M520.1 134v5.6M518 131.6h5.6M520.8 128.8v5.6M499.3 129.7h5.6M502.1 126.9v5.6M539.4 116.7h5.6M542.2 113.9v5.6M487.7 131h5.6M490.5 128.2v5.6M587.2 128.7h5.6M590 125.9v5.6M508.5 133.6h5.6M511.3 130.8v5.6M464.5 124.7h5.6M467.3 121.9v5.6M568.7 136.4h5.6M571.5 133.6v5.6M554.4 127.2h5.6M557.2 124.4v5.6M492 138.4h5.6M494.8 135.6v5.6M464.9 126.5h5.6M467.7 123.7v5.6M528.3 128.9h5.6M531.1 126.1v5.6M561.8 123.1h5.6M564.6 120.3v5.6M531.2 120.4h5.6M534 117.6v5.6M479.9 122h5.6M482.7 119.2v5.6M482.9 113.7h5.6M485.7 110.9v5.6M480.1 121.9h5.6M482.9 119.1v5.6M578 108.4h5.6M580.8 105.6v5.6M474.8 134.4h5.6M477.6 131.6v5.6M464.2 129.5h5.6M467 126.7v5.6M493.1 127.6h5.6M495.9 124.8v5.6M586 132.1h5.6M588.8 129.3v5.6M497.6 140h5.6M500.4 137.2v5.6M478.5 107h5.6M481.3 104.2v5.6M477.3 133.9h5.6M480.1 131.1v5.6M502 125.5h5.6M504.8 122.7v5.6M536.6 119.1h5.6M539.4 116.3v5.6M465.9 128.3h5.6M468.7 125.5v5.6M509.1 121.2h5.6M511.9 118.4v5.6M468.1 133.4h5.6M470.9 130.6v5.6M492.9 125.2h5.6M495.7 122.4v5.6M501.9 118.2h5.6M504.7 115.4v5.6M548.2 129.5h5.6M551 126.7v5.6M479.3 128.7h5.6M482.1 125.9v5.6M568.1 118h5.6M570.9 115.2v5.6M483.4 137.8h5.6M486.2 135v5.6M551.1 116.4h5.6M553.9 113.6v5.6M489.2 119.9h5.6M492 117.1v5.6M570.4 124h5.6M573.2 121.2v5.6M555.4 138.1h5.6M558.2 135.3v5.6M561.5 160h5.6M564.3 157.2v5.6M476.7 153.5h5.6M479.5 150.7v5.6M413.7 175.2h5.6M416.5 172.4v5.6M397.4 210.4h5.6M400.2 207.6v5.6M567.5 178.2h5.6M570.3 175.4v5.6M433.2 128h5.6M436 125.2v5.6M457.4 167.4h5.6M460.2 164.6v5.6M515.7 201.5h5.6M518.5 198.7v5.6M662.5 146.3h5.6M665.3 143.5v5.6M632.9 190.4h5.6M635.7 187.6v5.6M647.4 202.1h5.6M650.2 199.3v5.6M418 211.2h5.6M420.8 208.4v5.6M398.8 151.8h5.6M401.6 149v5.6M387.4 174.5h5.6M390.2 171.7v5.6M476.2 149.2h5.6M479 146.4v5.6M652.2 190.7h5.6M655 187.9v5.6M490.4 148h5.6M493.2 145.2v5.6M461.7 137.9h5.6M464.5 135.1v5.6M663.3 197.8h5.6M666.1 195v5.6M509.8 205.2h5.6M512.6 202.4v5.6M535.3 181.4h5.6M538.1 178.6v5.6M656.3 149.3h5.6M659.1 146.5v5.6M613.3 182.4h5.6M616.1 179.6v5.6M566.6 208.3h5.6M569.4 205.5v5.6M474.2 130.7h5.6M477 127.9v5.6M658.5 202.5h5.6M661.3 199.7v5.6M517 180.3h5.6M519.8 177.5v5.6M553.5 162.1h5.6M556.3 159.3v5.6M448.7 134.6h5.6M451.5 131.8v5.6M503.9 144.7h5.6M506.7 141.9v5.6M522.9 162.6h5.6M525.7 159.8v5.6M597.9 197.1h5.6M600.7 194.3v5.6M575.2 147.1h5.6M578 144.3v5.6M606.1 199.9h5.6M608.9 197.1v5.6M628.8 157.7h5.6M631.6 154.9v5.6M648.2 165.8h5.6M651 163v5.6M625.1 213.7h5.6M627.9 210.9v5.6M420.9 166.1h5.6M423.7 163.3v5.6M567.4 182.1h5.6M570.2 179.3v5.6M440.6 151.4h5.6M443.4 148.6v5.6M545.7 196.5h5.6M548.5 193.7v5.6M468.4 196h5.6M471.2 193.2v5.6M528.1 192.5h5.6M530.9 189.7v5.6M531.3 192.1h5.6M534.1 189.3v5.6M407.7 152.2h5.6M410.5 149.4v5.6M448.9 128h5.6M451.7 125.2v5.6M490.8 194h5.6M493.6 191.2v5.6M480.6 148.7h5.6M483.4 145.9v5.6M460.2 215.7h5.6M463 212.9v5.6M373.7 167h5.6M376.5 164.2v5.6M554.9 191.7h5.6M557.7 188.9v5.6M493.4 179.9h5.6M496.2 177.1v5.6M478.6 201h5.6M481.4 198.2v5.6M531.5 155.2h5.6M534.3 152.4v5.6M448.3 173.5h5.6M451.1 170.7v5.6M436.1 154.5h5.6M438.9 151.7v5.6M491.1 163.3h5.6M493.9 160.5v5.6M491.6 170.4h5.6M494.4 167.6v5.6M496.8 187.4h5.6M499.6 184.6v5.6M619.7 190.9h5.6M622.5 188.1v5.6M603.4 178.4h5.6M606.2 175.6v5.6M406.6 164h5.6M409.4 161.2v5.6M454.4 199.8h5.6M457.2 197v5.6M510.2 141.6h5.6M513 138.8v5.6M568.1 190.1h5.6M570.9 187.3v5.6M410.4 163.3h5.6M413.2 160.5v5.6M428.3 146.7h5.6M431.1 143.9v5.6M546.2 198.1h5.6M549 195.3v5.6M503.8 217.5h5.6M506.6 214.7v5.6M507.5 185.3h5.6M510.3 182.5v5.6M640.3 169h5.6M643.1 166.2v5.6M652.9 203.6h5.6M655.7 200.8v5.6M484.4 217.8h5.6M487.2 215v5.6M382.2 197.8h5.6M385 195v5.6M577.2 152.3h5.6M580 149.5v5.6M613 166.7h5.6M615.8 163.9v5.6M577.2 207.3h5.6M580 204.5v5.6M560.5 185.1h5.6M563.3 182.3v5.6M470.6 189.1h5.6M473.4 186.3v5.6M595.6 218.3h5.6M598.4 215.5v5.6M522.3 217h5.6M525.1 214.2v5.6M531.7 203.1h5.6M534.5 200.3v5.6M653 188.6h5.6M655.8 185.8v5.6M525.4 194h5.6M528.2 191.2v5.6M636.4 218.4h5.6M639.2 215.6v5.6M461 197.5h5.6M463.8 194.7v5.6M590.4 183.5h5.6M593.2 180.7v5.6M624 187.7h5.6M626.8 184.9v5.6M409.3 175.5h5.6M412.1 172.7v5.6M397.8 204.6h5.6M400.6 201.8v5.6M525.2 164h5.6M528 161.2v5.6M434.9 201.9h5.6M437.7 199.1v5.6M524.8 176.4h5.6M527.6 173.6v5.6M513.1 154.7h5.6M515.9 151.9v5.6M413.7 218.1h5.6M416.5 215.3v5.6M577.6 204.5h5.6M580.4 201.7v5.6M469 189.6h5.6M471.8 186.8v5.6M641.9 179.6h5.6M644.7 176.8v5.6M581 210.9h5.6M583.8 208.1v5.6M384.7 197.6h5.6M387.5 194.8v5.6M559.8 176.3h5.6M562.6 173.5v5.6M627.1 140.2h5.6M629.9 137.4v5.6M398.7 180.8h5.6M401.5 178v5.6M415 160.4h5.6M417.8 157.6v5.6M520 210.3h5.6M522.8 207.5v5.6M395.8 174.5h5.6M398.6 171.7v5.6M554.9 180.2h5.6M557.7 177.4v5.6M510.3 158.2h5.6M513.1 155.4v5.6M576.3 151.2h5.6M579.1 148.4v5.6M493.7 202.7h5.6M496.5 199.9v5.6M626.4 215.3h5.6M629.2 212.5v5.6M432.6 200.9h5.6M435.4 198.1v5.6M546 159.5h5.6M548.8 156.7v5.6M401.7 169.8h5.6M404.5 167v5.6M540.3 153.2h5.6M543.1 150.4v5.6M394.2 149.3h5.6M397 146.5v5.6M451.4 182.2h5.6M454.2 179.4v5.6M553 141.1h5.6M555.8 138.3v5.6M522.8 208.6h5.6M525.6 205.8v5.6M489.7 211.6h5.6M492.5 208.8v5.6M661.7 216.1h5.6M664.5 213.3v5.6M445.8 189.4h5.6M448.6 186.6v5.6M485.3 154.8h5.6M488.1 152v5.6M604.3 185.1h5.6M607.1 182.3v5.6M373.3 183.3h5.6M376.1 180.5v5.6M501.5 179.7h5.6M504.3 176.9v5.6M483.7 160.9h5.6M486.5 158.1v5.6M651 216.2h5.6M653.8 213.4v5.6M374.4 189h5.6M377.2 186.2v5.6M415.2 145.3h5.6M418 142.5v5.6M626.4 166.7h5.6M629.2 163.9v5.6M648 197.3h5.6M650.8 194.5v5.6M429.8 182.3h5.6M432.6 179.5v5.6M504.3 200.2h5.6M507.1 197.4v5.6M641.4 147h5.6M644.2 144.2v5.6M456.7 197.4h5.6M459.5 194.6v5.6M455.3 181.2h5.6M458.1 178.4v5.6M563.6 144.6h5.6M566.4 141.8v5.6M649.8 211.4h5.6M652.6 208.6v5.6M429.7 182.7h5.6M432.5 179.9v5.6M650.4 175.3h5.6M653.2 172.5v5.6M582.4 139.5h5.6M585.2 136.7v5.6M507.1 183h5.6M509.9 180.2v5.6M599.1 157.7h5.6M601.9 154.9v5.6M662.3 193.2h5.6M665.1 190.4v5.6M650.8 172.4h5.6M653.6 169.6v5.6M626.1 157.6h5.6M628.9 154.8v5.6M537.1 137h5.6M539.9 134.2v5.6M396.1 192.2h5.6M398.9 189.4v5.6M514.9 140.4h5.6M517.7 137.6v5.6M426.9 144.3h5.6M429.7 141.5v5.6M398.3 185.6h5.6M401.1 182.8v5.6M507.9 150.5h5.6M510.7 147.7v5.6M525.1 137.6h5.6M527.9 134.8v5.6M574.7 182.3h5.6M577.5 179.5v5.6M524.6 181.8h5.6M527.4 179v5.6M627.2 190h5.6M630 187.2v5.6M425.3 195.7h5.6M428.1 192.9v5.6M445.7 141.4h5.6M448.5 138.6v5.6M573 195.6h5.6M575.8 192.8v5.6M653 197.8h5.6M655.8 195v5.6M648 213.6h5.6M650.8 210.8v5.6M651.1 216.2h5.6M653.9 213.4v5.6M611.9 164.2h5.6M614.7 161.4v5.6M418 196.4h5.6M420.8 193.6v5.6M437.2 186.2h5.6M440 183.4v5.6M551.5 190.1h5.6M554.3 187.3v5.6M434.8 135.7h5.6M437.6 132.9v5.6M405 158.4h5.6M407.8 155.6v5.6M491 174h5.6M493.8 171.2v5.6M626.9 147.5h5.6M629.7 144.7v5.6M598.6 217.6h5.6M601.4 214.8v5.6M609 143h5.6M611.8 140.2v5.6M398.2 194.2h5.6M401 191.4v5.6M612 142.9h5.6M614.8 140.1v5.6M437.7 164.5h5.6M440.5 161.7v5.6M500.5 148.2h5.6M503.3 145.4v5.6M488.8 188.5h5.6M491.6 185.7v5.6M594.9 152.3h5.6M597.7 149.5v5.6M478.2 150.6h5.6M481 147.8v5.6M449.1 171.1h5.6M451.9 168.3v5.6M427.4 186.2h5.6M430.2 183.4v5.6M494.7 210.7h5.6M497.5 207.9v5.6M463.6 185.4h5.6M466.4 182.6v5.6M468 170.5h5.6M470.8 167.7v5.6M458.9 206.3h5.6M461.7 203.5v5.6M594.3 148.2h5.6M597.1 145.4v5.6M637.5 180.6h5.6M640.3 177.8v5.6M422.6 210.5h5.6M425.4 207.7v5.6M489.1 145.4h5.6M491.9 142.6v5.6M397.5 177.1h5.6M400.3 174.3v5.6M396.3 198.6h5.6M399.1 195.8v5.6M534.1 156.7h5.6M536.9 153.9v5.6M647.6 188.4h5.6M650.4 185.6v5.6M440.4 213.3h5.6M443.2 210.5v5.6M427.4 215.8h5.6M430.2 213v5.6M529.2 175.3h5.6M532 172.5v5.6M637.2 172.5h5.6M640 169.7v5.6M398 205.2h5.6M400.8 202.4v5.6M591.3 196.7h5.6M594.1 193.9v5.6M473.4 177.2h5.6M476.2 174.4v5.6M499.1 192.1h5.6M501.9 189.3v5.6M417.7 216.7h5.6M420.5 213.9v5.6M658 182.7h5.6M660.8 179.9v5.6M573.2 199.3h5.6M576 196.5v5.6M469.8 142.5h5.6M472.6 139.7v5.6M526.6 196.7h5.6M529.4 193.9v5.6M513.1 167.2h5.6M515.9 164.4v5.6M429.6 176.2h5.6M432.4 173.4v5.6M643.7 176.2h5.6M646.5 173.4v5.6M661.6 149.7h5.6M664.4 146.9v5.6M574.6 176.6h5.6M577.4 173.8v5.6M427.7 155.9h5.6M430.5 153.1v5.6M428.1 174.9h5.6M430.9 172.1v5.6M416.7 179.5h5.6M419.5 176.7v5.6M654.8 161.7h5.6M657.6 158.9v5.6M522.2 159.8h5.6M525 157v5.6M563.6 161.3h5.6M566.4 158.5v5.6M455.8 198.8h5.6M458.6 196v5.6M627 172.3h5.6M629.8 169.5v5.6M458.7 162.7h5.6M461.5 159.9v5.6M386.2 171.5h5.6M389 168.7v5.6M399.2 200h5.6M402 197.2v5.6M512.6 160.7h5.6M515.4 157.9v5.6M653.9 208.9h5.6M656.7 206.1v5.6M410.2 172.6h5.6M413 169.8v5.6M604.1 216.4h5.6M606.9 213.6v5.6M483.6 150.9h5.6M486.4 148.1v5.6M495.3 202h5.6M498.1 199.2v5.6M521.5 167.5h5.6M524.3 164.7v5.6M434.3 132.5h5.6M437.1 129.7v5.6M408.3 150.3h5.6M411.1 147.5v5.6M453.5 115.9h5.6M456.3 113.1v5.6M416.1 137.3h5.6M418.9 134.5v5.6M422 138.7h5.6M424.8 135.9v5.6M403.3 135.1h5.6M406.1 132.3v5.6M404.6 136.7h5.6M407.4 133.9v5.6M446.2 123.3h5.6M449 120.5v5.6M382.6 154.7h5.6M385.4 151.9v5.6M380.8 154.6h5.6M383.6 151.8v5.6M419.1 135.3h5.6M421.9 132.5v5.6M419.5 146.5h5.6M422.3 143.7v5.6M458.4 123h5.6M461.2 120.2v5.6M400.2 144.7h5.6M403 141.9v5.6M427.7 138.6h5.6M430.5 135.8v5.6M418.7 139.7h5.6M421.5 136.9v5.6M457.4 116.8h5.6M460.2 114v5.6M448.9 131h5.6M451.7 128.2v5.6M418.2 148.4h5.6M421 145.6v5.6M394.9 151.2h5.6M397.7 148.4v5.6M426.9 140.7h5.6M429.7 137.9v5.6M419.1 140.1h5.6M421.9 137.3v5.6M393 153.9h5.6M395.8 151.1v5.6M414.9 144h5.6M417.7 141.2v5.6M383 159.3h5.6M385.8 156.5v5.6M445.8 128h5.6M448.6 125.2v5.6M379.9 156.9h5.6M382.7 154.1v5.6M456.4 126.5h5.6M459.2 123.7v5.6M405.3 141.8h5.6M408.1 139v5.6M398.3 143.7h5.6M401.1 140.9v5.6M444.9 131.9h5.6M447.7 129.1v5.6M426.7 135.9h5.6M429.5 133.1v5.6M396.7 150.8h5.6M399.5 148v5.6M397.9 147.9h5.6M400.7 145.1v5.6M396.3 147.8h5.6M399.1 145v5.6M415.1 137.4h5.6M417.9 134.6v5.6M427 143.7h5.6M429.8 140.9v5.6M428.6 138h5.6M431.4 135.2v5.6M416.9 139.3h5.6M419.7 136.5v5.6M400.9 150.8h5.6M403.7 148v5.6M379.4 149.7h5.6M382.2 146.9v5.6M411.7 149.2h5.6M414.5 146.4v5.6M447.3 137.8h5.6M450.1 135v5.6M452.1 129h5.6M454.9 126.2v5.6M405.5 147.4h5.6M408.3 144.6v5.6M456.6 117.1h5.6M459.4 114.3v5.6M416.7 141.9h5.6M419.5 139.1v5.6M409.9 143.5h5.6M412.7 140.7v5.6M454 131.6h5.6M456.8 128.8v5.6M451.7 120.2h5.6M454.5 117.4v5.6M455 123.8h5.6M457.8 121v5.6M402.9 153.6h5.6M405.7 150.8v5.6M455.3 120.1h5.6M458.1 117.3v5.6M383 165h5.6M385.8 162.2v5.6M431.4 135.2h5.6M434.2 132.4v5.6M382.1 210h5.6M384.9 207.2v5.6M397.2 207.2h5.6M400 204.4v5.6M392.1 203.6h5.6M394.9 200.8v5.6M396.4 197.3h5.6M399.2 194.5v5.6M388.7 211.1h5.6M391.5 208.3v5.6M391.3 207.2h5.6M394.1 204.4v5.6M396.1 214.4h5.6M398.9 211.6v5.6M377.8 215.2h5.6M380.6 212.4v5.6M394.1 216.3h5.6M396.9 213.5v5.6M379 208.4h5.6M381.8 205.6v5.6M388.6 199.3h5.6M391.4 196.5v5.6M400 200.7h5.6M402.8 197.9v5.6M407.1 209h5.6M409.9 206.2v5.6M392.1 208.3h5.6M394.9 205.5v5.6M381 211.1h5.6M383.8 208.3v5.6M395.5 211.7h5.6M398.3 208.9v5.6M378 212.3h5.6M380.8 209.5v5.6M403.1 202.6h5.6M405.9 199.8v5.6M413.9 213h5.6M416.7 210.2v5.6M420.9 213.1h5.6M423.7 210.3v5.6M429.9 214.8h5.6M432.7 212v5.6M412.5 205.7h5.6M415.3 202.9v5.6M404.1 204.9h5.6M406.9 202.1v5.6M410.1 211.4h5.6M412.9 208.6v5.6M399.2 216.4h5.6M402 213.6v5.6M417.6 208.9h5.6M420.4 206.1v5.6M421.4 205.2h5.6M424.2 202.4v5.6M407.5 202.8h5.6M410.3 200v5.6M413.6 208.6h5.6M416.4 205.8v5.6M420.8 205.8h5.6M423.6 203v5.6M412.4 205.8h5.6M415.2 203v5.6M655.9 199.6h5.6M658.7 196.8v5.6M645.7 170.6h5.6M648.5 167.8v5.6M653.5 201.6h5.6M656.3 198.8v5.6M647.8 180.1h5.6M650.6 177.3v5.6M648.9 194.9h5.6M651.7 192.1v5.6M649.4 204.5h5.6M652.2 201.7v5.6M658.2 205h5.6M661 202.2v5.6M645 196.8h5.6M647.8 194v5.6M650.3 192.9h5.6M653.1 190.1v5.6M650.3 195h5.6M653.1 192.2v5.6M655 202.3h5.6M657.8 199.5v5.6M651.3 203h5.6M654.1 200.2v5.6M652.3 202.7h5.6M655.1 199.9v5.6M654.7 175.1h5.6M657.5 172.3v5.6M656.4 185.7h5.6M659.2 182.9v5.6M651.8 183.6h5.6M654.6 180.8v5.6M648.5 183.5h5.6M651.3 180.7v5.6M650 213.9h5.6M652.8 211.1v5.6M658.7 217.5h5.6M661.5 214.7v5.6M655.8 209.5h5.6M658.6 206.7v5.6M651.1 176.3h5.6M653.9 173.5v5.6M643.1 175.4h5.6M645.9 172.6v5.6M651.8 195.2h5.6M654.6 192.4v5.6M646.1 215.3h5.6M648.9 212.5v5.6M655.2 186.2h5.6M658 183.4v5.6M655.4 186.3h5.6M658.2 183.5v5.6M659.6 192.3h5.6M662.4 189.5v5.6M647 191.4h5.6M649.8 188.6v5.6M645.9 201.9h5.6M648.7 199.1v5.6M648.6 192.6h5.6M651.4 189.8v5.6M645 183.9h5.6M647.8 181.1v5.6M651.2 216.9h5.6M654 214.1v5.6M655.7 197h5.6M658.5 194.2v5.6M658.7 190.3h5.6M661.5 187.5v5.6M649.1 197.3h5.6M651.9 194.5v5.6M647.7 197.6h5.6M650.5 194.8v5.6M655.3 191.8h5.6M658.1 189v5.6M645.1 212.6h5.6M647.9 209.8v5.6M655.7 191.9h5.6M658.5 189.1v5.6M648.6 183.6h5.6M651.4 180.8v5.6M647.3 215.2h5.6M650.1 212.4v5.6M644.7 191.8h5.6M647.5 189v5.6M656.1 196.3h5.6M658.9 193.5v5.6M650.5 210.2h5.6M653.3 207.4v5.6M654.7 212.5h5.6M657.5 209.7v5.6M652.9 191.8h5.6M655.7 189v5.6M649.4 197.9h5.6M652.2 195.1v5.6M647.8 181.1h5.6M650.6 178.3v5.6M653.7 184.1h5.6M656.5 181.3v5.6M660 123.3h5.6M662.8 120.5v5.6M661.1 112h5.6M663.9 109.2v5.6M661.8 135.1h5.6M664.6 132.3v5.6M647.5 117.8h5.6M650.3 115v5.6M656.4 135.6h5.6M659.2 132.8v5.6M658.5 134.1h5.6M661.3 131.3v5.6M663.2 131.7h5.6M666 128.9v5.6M648.7 120.3h5.6M651.5 117.5v5.6M657.1 133.6h5.6M659.9 130.8v5.6M652.7 123.4h5.6M655.5 120.6v5.6M663.1 123.9h5.6M665.9 121.1v5.6M657.2 147.2h5.6M660 144.4v5.6M644.9 119.2h5.6M647.7 116.4v5.6M649.2 127.5h5.6M652 124.7v5.6M646 123h5.6M648.8 120.2v5.6M639.9 111h5.6M642.7 108.2v5.6M654.3 117.4h5.6M657.1 114.6v5.6M656.3 116.6h5.6M659.1 113.8v5.6M659.6 130.4h5.6M662.4 127.6v5.6M655.8 124.1h5.6M658.6 121.3v5.6M649.6 121.5h5.6M652.4 118.7v5.6M650 133.9h5.6M652.8 131.1v5.6M651.3 126.5h5.6M654.1 123.7v5.6M647.4 131.9h5.6M650.2 129.1v5.6M653.7 128.7h5.6M656.5 125.9v5.6M657.2 127.4h5.6M660 124.6v5.6M660.1 128.4h5.6M662.9 125.6v5.6M650.4 116.5h5.6M653.2 113.7v5.6M651.8 119.3h5.6M654.6 116.5v5.6M644.9 140.5h5.6M647.7 137.7v5.6M642.3 130.6h5.6M645.1 127.8v5.6M653.3 124h5.6M656.1 121.2v5.6M654.4 135.5h5.6M657.2 132.7v5.6M656.3 125.6h5.6M659.1 122.8v5.6M651.8 124.2h5.6M654.6 121.4v5.6M655.6 137.5h5.6M658.4 134.7v5.6M652 130.6h5.6M654.8 127.8v5.6M651.7 126h5.6M654.5 123.2v5.6M660.5 126.8h5.6M663.3 124v5.6M660.3 125.9h5.6M663.1 123.1v5.6M660.8 134.4h5.6M663.6 131.6v5.6M649.1 127.7h5.6M651.9 124.9v5.6M648.3 118.2h5.6M651.1 115.4v5.6M655.8 128.8h5.6M658.6 126v5.6M658.8 140.9h5.6M661.6 138.1v5.6M663.7 135.8h5.6M666.5 133v5.6M647.4 118.7h5.6M650.2 115.9v5.6M656.7 131.2h5.6M659.5 128.4v5.6M640.3 126.8h5.6M643.1 124v5.6M651.8 125.7h5.6M654.6 122.9v5.6M654.1 126h5.6M656.9 123.2v5.6M646 112h5.6M648.8 109.2v5.6M646.5 127h5.6M649.3 124.2v5.6M651.2 129h5.6M654 126.2v5.6M651.3 130.2h5.6M654.1 127.4v5.6M655.9 127.7h5.6M658.7 124.9v5.6M656.5 129.9h5.6M659.3 127.1v5.6M653.4 126.5h5.6M656.2 123.7v5.6M663.4 120.5h5.6M666.2 117.7v5.6M646.4 120.3h5.6M649.2 117.5v5.6M638.8 126.8h5.6M641.6 124v5.6M658.9 111.6h5.6M661.7 108.8v5.6M653.6 133.8h5.6M656.4 131v5.6M656.9 124.9h5.6M659.7 122.1v5.6M651.6 123.8h5.6M654.4 121v5.6M650.2 126.5h5.6M653 123.7v5.6M650.4 135.9h5.6M653.2 133.1v5.6M654.1 139.7h5.6M656.9 136.9v5.6M649 116.4h5.6M651.8 113.6v5.6M656.7 122h5.6M659.5 119.2v5.6M647.1 125.9h5.6M649.9 123.1v5.6M656.6 125.3h5.6M659.4 122.5v5.6M641.9 123.4h5.6M644.7 120.6v5.6M646.6 125.5h5.6M649.4 122.7v5.6M654.3 128.7h5.6M657.1 125.9v5.6M653.5 129.6h5.6M656.3 126.8v5.6M651.5 126.7h5.6M654.3 123.9v5.6M652.7 128.8h5.6M655.5 126v5.6M649.4 119.2h5.6M652.2 116.4v5.6M654.1 140.2h5.6M656.9 137.4v5.6M652.7 130.8h5.6M655.5 128v5.6M656.1 128.2h5.6M658.9 125.4v5.6M661 129.1h5.6M663.8 126.3v5.6M652.6 117.1h5.6M655.4 114.3v5.6M647.1 127.5h5.6M649.9 124.7v5.6M632.4 117.1h5.6M635.2 114.3v5.6M657.8 124.3h5.6M660.6 121.5v5.6M650.6 130.9h5.6M653.4 128.1v5.6M656.7 120h5.6M659.5 117.2v5.6M650.5 124.4h5.6M653.3 121.6v5.6M649.3 136.1h5.6M652.1 133.3v5.6M647 129.9h5.6M649.8 127.1v5.6M659 118.6h5.6M661.8 115.8v5.6M659.4 130.8h5.6M662.2 128v5.6M656.8 129.5h5.6M659.6 126.7v5.6M660 120.5h5.6M662.8 117.7v5.6M661.1 124.3h5.6M663.9 121.5v5.6M658.4 140.1h5.6M661.2 137.3v5.6M649.3 117.9h5.6M652.1 115.1v5.6M639.9 132.9h5.6M642.7 130.1v5.6M647.4 118.5h5.6M650.2 115.7v5.6M648.1 136.6h5.6M650.9 133.8v5.6M640.4 130.1h5.6M643.2 127.3v5.6M655.1 116h5.6M657.9 113.2v5.6M654.7 140.7h5.6M657.5 137.9v5.6M657 121.8h5.6M659.8 119v5.6M653.2 124.2h5.6M656 121.4v5.6M663.2 123.8h5.6M666 121v5.6M654.6 121.8h5.6M657.4 119v5.6M656.9 131.2h5.6M659.7 128.4v5.6M655.9 131.4h5.6M658.7 128.6v5.6M642.8 122.7h5.6M645.6 119.9v5.6M646.2 126.6h5.6M649 123.8v5.6M641.2 127.8h5.6M644 125v5.6M647.9 138.4h5.6M650.7 135.6v5.6M648 126.8h5.6M650.8 124v5.6M661.1 117.7h5.6M663.9 114.9v5.6M654.9 121.4h5.6M657.7 118.6v5.6M659.4 125.7h5.6M662.2 122.9v5.6M657.5 122.3h5.6M660.3 119.5v5.6M650 116.1h5.6M652.8 113.3v5.6M651.1 133.7h5.6M653.9 130.9v5.6M649.8 134.4h5.6M652.6 131.6v5.6M643.5 123.8h5.6M646.3 121v5.6M662.6 127.5h5.6M665.4 124.7v5.6M658.8 124.6h5.6M661.6 121.8v5.6M651 125h5.6M653.8 122.2v5.6M658.2 129.3h5.6M661 126.5v5.6M660.8 120.7h5.6M663.6 117.9v5.6M648.3 136.6h5.6M651.1 133.8v5.6M654.8 124h5.6M657.6 121.2v5.6M660.5 129.3h5.6M663.3 126.5v5.6M655.2 130h5.6M658 127.2v5.6M663.1 131.3h5.6M665.9 128.5v5.6M650.7 118.9h5.6M653.5 116.1v5.6M658.4 126.6h5.6M661.2 123.8v5.6M654.7 116.1h5.6M657.5 113.3v5.6M651.5 121.4h5.6M654.3 118.6v5.6M651.7 125.3h5.6M654.5 122.5v5.6M640 128.2h5.6M642.8 125.4v5.6M652.8 128h5.6M655.6 125.2v5.6M661.2 135.2h5.6M664 132.4v5.6M657.8 125.1h5.6M660.6 122.3v5.6M658.9 120.1h5.6M661.7 117.3v5.6M655.2 123.3h5.6M658 120.5v5.6M657.8 113.9h5.6M660.6 111.1v5.6M655.8 125.8h5.6M658.6 123v5.6M662.8 128.7h5.6M665.6 125.9v5.6M653.2 138.8h5.6M656 136v5.6M650.4 126.3h5.6M653.2 123.5v5.6M645 132.1h5.6M647.8 129.3v5.6M661 130.6h5.6M663.8 127.8v5.6M647.4 127.9h5.6M650.2 125.1v5.6M642.1 126.9h5.6M644.9 124.1v5.6M646.4 124.4h5.6M649.2 121.6v5.6M657.8 129.5h5.6M660.6 126.7v5.6M663.2 121.5h5.6M666 118.7v5.6M656.5 121.9h5.6M659.3 119.1v5.6M661.4 123.1h5.6M664.2 120.3v5.6M656.8 127.2h5.6M659.6 124.4v5.6M640.4 139.7h5.6M643.2 136.9v5.6M647.7 129.1h5.6M650.5 126.3v5.6M658.4 127.9h5.6M661.2 125.1v5.6M651.8 129.9h5.6M654.6 127.1v5.6M649.9 123.3h5.6M652.7 120.5v5.6M663.5 128.8h5.6M666.3 126v5.6M655.8 119.7h5.6M658.6 116.9v5.6M662.4 127.4h5.6M665.2 124.6v5.6M653.8 132.1h5.6M656.6 129.3v5.6M662.4 126.8h5.6M665.2 124v5.6M658.1 120.9h5.6M660.9 118.1v5.6M654.2 131h5.6M657 128.2v5.6M647.6 122.1h5.6M650.4 119.3v5.6M653.8 117.2h5.6M656.6 114.4v5.6M656.3 131.5h5.6M659.1 128.7v5.6M641.2 123.7h5.6M644 120.9v5.6M657.1 132.4h5.6M659.9 129.6v5.6M655.1 124.4h5.6M657.9 121.6v5.6M657.1 120h5.6M659.9 117.2v5.6M656.3 125.9h5.6M659.1 123.1v5.6M655.5 118.1h5.6M658.3 115.3v5.6M660.6 130.8h5.6M663.4 128v5.6M648.9 126.3h5.6M651.7 123.5v5.6M652.1 140.8h5.6M654.9 138v5.6M662.5 123.3h5.6M665.3 120.5v5.6M655.5 133.3h5.6M658.3 130.5v5.6M655 115h5.6M657.8 112.2v5.6M660 124.6h5.6M662.8 121.8v5.6M644.8 134.5h5.6M647.6 131.7v5.6M658.8 135.9h5.6M661.6 133.1v5.6M654.2 132.4h5.6M657 129.6v5.6M653.5 137.2h5.6M656.3 134.4v5.6M647.8 133h5.6M650.6 130.2v5.6M654.3 137.1h5.6M657.1 134.3v5.6M651.1 121.1h5.6M653.9 118.3v5.6M658.3 138.5h5.6M661.1 135.7v5.6M652.7 124.9h5.6M655.5 122.1v5.6M658.3 128.2h5.6M661.1 125.4v5.6M654.3 130.3h5.6M657.1 127.5v5.6M655.7 124.9h5.6M658.5 122.1v5.6M660.8 119.5h5.6M663.6 116.7v5.6M648.1 128.8h5.6M650.9 126v5.6M654.2 136.9h5.6M657 134.1v5.6M658.4 120.7h5.6M661.2 117.9v5.6M636.5 118.8h5.6M639.3 116v5.6M655.1 132.4h5.6M657.9 129.6v5.6M659.6 123.8h5.6M662.4 121v5.6M647.1 138.1h5.6M649.9 135.3v5.6M650.9 120.8h5.6M653.7 118v5.6M647.1 130.1h5.6M649.9 127.3v5.6M653.6 130.1h5.6M656.4 127.3v5.6M657.5 125.5h5.6M660.3 122.7v5.6M643.4 121h5.6M646.2 118.2v5.6M661.4 117.6h5.6M664.2 114.8v5.6M644.1 131.6h5.6M646.9 128.8v5.6M659.1 134h5.6M661.9 131.2v5.6M652.7 113.7h5.6M655.5 110.9v5.6M651.9 103.6h5.6M654.7 100.8v5.6M634.5 113.9h5.6M637.3 111.1v5.6M658.5 132.5h5.6M661.3 129.7v5.6M649.8 122.2h5.6M652.6 119.4v5.6M657 137h5.6M659.8 134.2v5.6M662.7 124.4h5.6M665.5 121.6v5.6M646.6 130.1h5.6M649.4 127.3v5.6M656.5 123.6h5.6M659.3 120.8v5.6M642.4 124.9h5.6M645.2 122.1v5.6" stroke="#1e1e1e" stroke-width="0.6" fill="none"/>
<path clip-path="url(#cb)" d="M507.5 109.9h0M559.6 118.5h0M505 106.2h0M521.9 112.9h0M506.9 119.7h0M526 113.8h0M531.2 116.2h0M489.6 118.3h0M489.2 113.8h0M541.5 123.1h0M534.9 114.8h0M536.5 119.6h0M553.3 114.5h0M506.3 104.6h0M458.3 112h0M556.5 117h0M491 109.7h0M522.3 108.9h0M505.9 106.3h0M480.2 103.7h0M491.6 111.2h0M478.6 98h0M502.6 107.3h0M507.2 108.9h0M516.4 107.4h0M564.2 127.3h0M504.5 111.6h0M528.8 106.2h0M560.4 112.9h0M498.2 111.1h0M516.1 107.7h0M513.9 109.5h0M546.9 119.7h0M525 112.9h0M506.7 109.6h0M501.4 119.3h0M550.8 114.7h0M483.7 107.7h0M497.7 113.8h0M544.6 111.8h0M509.5 112.8h0M496 102.5h0M508.7 106.3h0M510 114.9h0M525.5 111.1h0M540.8 111.7h0M553.2 121.9h0M505.3 110.7h0M459.4 114.4h0M515.7 117.3h0M516.4 114h0M538.2 116.2h0M545.5 119.8h0M531.3 120.1h0M461 121.2h0M485.5 112.2h0M550.5 119h0M508.7 114.7h0M525.6 110.2h0M520.3 109.8h0M496.3 112.6h0M537.7 108.8h0M514.3 116.1h0M509.9 114.6h0M495.9 112.5h0M519.1 104.4h0M526.9 106.1h0M521.7 113.5h0M559 115.5h0M527.9 109.9h0M538.9 118.1h0M492.4 103.5h0M470.6 109.7h0M518.8 114.2h0M502.5 113.1h0M512.3 114.4h0M531.8 118.2h0M470.3 112.3h0M541.7 119.2h0M491.3 112.3h0M535.7 115.5h0M504.7 118h0M521.9 125h0M499.7 112.4h0M534.5 122.1h0M548.9 112.9h0M514.8 109.7h0M536.5 111.6h0M486.1 104.8h0M556.9 108.3h0M489.1 115.1h0M556.5 115.3h0M575.3 112.7h0M539.4 116.5h0M562.1 114.4h0M492.7 114h0M516.8 113h0M517.5 113.9h0M463.9 113.3h0M528.3 116.8h0M509.7 107.9h0M514.2 119.3h0M524.1 112.3h0M501.3 104.8h0M546.1 107h0M552.2 103.7h0M527.1 109.9h0M495.9 103.2h0M495.5 111.9h0M505.3 108.6h0M527.5 106h0M541.1 117.1h0M467.6 111.6h0M536.2 107.2h0M489.6 108.9h0M520.9 106.8h0M514.5 110.4h0M506.1 119.1h0M511.2 112.7h0M486 99.7h0M548.7 105h0M535.9 119.6h0M508.3 109.4h0M561.8 114.7h0M503.7 105.8h0M511 108.8h0M508.2 113.5h0M532.8 110h0M524.1 108.6h0M544.4 116.1h0M522.5 105.7h0M504.8 114.8h0M519.2 121.6h0M546.7 119.2h0M534 108.3h0M510.3 110h0M514.3 112.1h0M509.8 111.4h0M531.1 104.7h0M487.7 107.9h0M494.9 105.2h0M539.5 106.7h0M499.1 95.1h0M522.1 105.5h0M511.4 103.2h0M526.4 112.7h0M519.8 112.8h0M522.8 104.9h0M534.6 112.5h0M500.7 108.2h0M536.8 112.2h0M550.8 115.8h0M572.3 112h0M522.9 116.1h0M503.4 106.2h0M532.8 114.6h0M562.3 114.5h0M554.6 116.8h0M499.7 104.2h0M529.4 109.6h0M532.2 109.9h0M514.7 108.5h0M517.7 110.4h0M522.5 106.2h0M479.2 109.5h0M542.6 117.5h0M549.1 115.9h0M546 116.1h0M506 105.8h0M546.7 114.1h0M519.6 120.9h0M539.8 119.7h0M501.9 107.1h0M519 114.1h0M529.4 107.1h0M502.8 105.3h0M497 114.5h0M552.3 115h0M548.7 120.2h0M492.4 109.6h0M560.4 121.8h0M512.5 106.1h0M537.4 107.1h0M539.4 111.9h0M499.1 116.9h0M534.6 126.3h0M497.8 105.9h0M491.6 110.8h0M527.7 114h0M506.4 113h0M488.8 108.4h0M515 116.2h0M523.7 114.3h0M536.4 110.2h0M499 112.8h0M517.7 118.5h0M509.9 107.8h0M536.2 113.7h0M550.7 101.2h0M553.3 123.3h0M555.5 106.1h0M529.6 108.1h0M506.5 115.9h0M544.4 115h0M537.8 106.8h0M504 116.4h0M521.6 109.6h0M484.6 110.1h0M541.1 114.9h0M525.5 114.5h0M526.9 114.7h0M503.2 112.3h0M535.8 113h0M538.2 108.9h0M504.4 115h0M515.4 104.9h0M512.2 107.5h0M552.2 97.4h0M521.8 112.2h0M505.1 120.9h0M543.3 112.2h0M480.8 112h0M513.8 115.3h0M496.3 109.1h0M527.8 123.8h0M512.9 114.8h0M550.7 105.7h0M550.5 110.8h0M508.5 112.7h0M483.7 118.8h0M541.4 109.4h0M526.9 105.2h0M550.6 114.4h0M504.5 114h0M497.8 115.1h0M511.3 117.2h0M509.2 113.1h0M541.5 109.7h0M549.5 112.4h0M506.1 115.2h0M509 110.3h0M528.9 104.2h0M530.2 109.8h0M535.5 116.4h0M520.3 117h0M508.4 109.7h0M556 122.6h0M477.2 113.3h0M556 119.3h0M500 106.1h0M525.9 113.7h0M524.4 104.4h0M546.7 108.8h0M540.5 112.9h0M549.8 117.2h0M532.8 116.8h0M526.3 106.9h0M512.5 105.4h0M548.8 109.6h0M554.4 112.6h0M469.1 116.6h0M516.8 109.2h0M479.9 117.5h0M490.9 109.9h0M498.4 117h0M554.1 109.9h0M511.2 103.1h0M502 112.1h0M501.3 111.2h0M540.4 115.6h0M497.3 109.7h0M534.2 111.7h0M507.2 107.9h0M546.6 108.9h0M529.3 109.6h0M565.5 120.9h0M512.2 112.3h0M522.2 105.1h0M474.6 101.9h0M522.8 109.8h0M477.2 97.9h0M508 108.8h0M512.6 96.4h0M519 118.3h0M483.6 109.6h0M546.1 109.3h0M538 105.1h0M519.3 116.1h0M526.4 111h0M545.4 115.1h0M547.6 118.6h0M511 115.6h0M507.9 116.9h0M521.6 106h0M480 116.4h0M501.3 111.5h0M534.5 114h0M533 111.7h0M469.5 110.4h0M508.5 105h0M550.7 116.7h0M515.4 102.9h0M519.7 97.5h0M505.8 108.3h0M468.8 105.2h0M516.5 115.2h0M545.1 115.6h0M511.1 112.4h0M561.1 109.2h0M515.8 102h0M501.7 107.8h0M512.5 117h0M544.2 109.9h0M480.6 103.3h0M545.4 109.3h0M524.5 106.4h0M530.3 107.3h0M545.7 121.6h0M544.5 120.7h0M585 115.1h0M527.9 118.5h0M521.3 111.3h0M516.8 110h0M537.2 121.9h0M538.7 115.2h0M506.6 117.6h0M547.1 116.2h0M517.5 112.4h0M525.3 115.8h0M526 113.8h0M541.5 112h0M514 109.1h0M527.9 117.4h0M532.2 105.2h0M505.5 111.1h0M533.6 122.1h0M508.2 109.6h0M560.5 123.3h0M565.5 112.1h0M517.3 109.3h0M492 114.5h0M539.6 108.4h0M506.3 116.4h0M510.6 102.6h0M527.4 103.7h0M551.9 107.5h0M522.7 112.3h0M556.8 120.6h0M493.9 103.4h0M458.5 104.6h0M532.6 124.5h0M526.5 115.1h0M531 117.1h0M518.2 103.5h0M541.4 122.9h0M533.7 109.2h0M534.2 105.5h0M551.6 120.8h0M531.7 107.5h0M529.2 118.7h0M544.9 112.4h0M588.4 119.8h0M545.9 118.4h0M525.2 110.9h0M523.6 99.8h0M487.7 111.6h0M513.1 109.8h0M540.5 108.8h0M525.8 113.2h0M541.6 110h0M495.9 105.7h0M521.2 104h0M538.2 114.5h0M478.7 115.4h0M552.2 107.5h0M543.2 115.9h0M493.1 114.2h0M504 116h0M532.6 120.5h0M493 113.2h0M546.9 116.3h0M530.4 112.8h0M518.8 110.6h0M516.2 107.4h0M555 118.4h0M529.2 124.4h0M525.3 115.2h0M503.8 107h0M515.7 104.6h0M542.6 110.5h0M481.9 115.3h0M542.6 112.5h0M539.2 103.9h0M505.1 104.6h0M511.3 112.4h0M499.8 119.8h0M553.5 114.7h0M466 104.8h0M540.9 103.2h0M494.9 105.5h0M477.2 109.4h0M558.1 110.2h0M537.2 107.7h0M523.1 110.3h0M543.8 117.3h0M490.5 100.8h0M484.6 110.9h0M541 116.8h0M530 107.5h0M486.8 113.3h0M492.4 110.9h0M539.4 113.1h0M511.1 108.3h0M520.6 109.6h0M559.4 112.2h0M514.1 105.7h0M510.9 106.6h0M542 112.6h0M554.8 121.2h0M489.4 100.6h0M498.9 114.1h0M487.7 102.8h0M488.6 121.8h0M522.8 108.7h0M517.6 110h0M552.6 119.4h0M514.4 115h0M521.5 118h0M536.8 113h0M484.8 106.4h0M530.9 121.5h0M525.6 113.6h0M559 114.2h0M541 111.4h0M508.8 107.5h0M496.5 104.4h0M525.5 114.8h0M518.2 115.9h0M540.6 124.8h0M530 120.9h0M553.8 116.6h0M558.5 110.9h0M546.9 114h0M477.6 100.7h0M533.6 105.3h0M571.4 119h0M564.4 107.4h0M580.2 119.8h0M517.4 103.8h0M500.3 111.3h0M497 109.3h0M554.3 109.5h0M490.2 110.1h0M513.2 115.5h0M525.8 119.8h0M513.9 111.7h0M520.3 113.4h0M539.2 117h0M530.3 111.3h0M536.8 123.7h0M524 109.4h0M579.5 121.9h0M478.8 102.4h0M495.5 107.1h0M513.5 114.7h0M505.1 108.7h0M537.5 114.8h0M511.4 103.3h0M548.7 113.5h0M515.9 111.4h0M523.1 126.6h0M507.6 107.1h0M546.3 121.5h0M535.1 120h0M501.1 99.3h0M561.2 114.3h0M510.4 101.8h0M524 111.3h0M498.8 103.7h0M507 112.4h0M520.8 116.9h0M523.5 116.5h0M529.7 109.7h0M503.1 107.4h0M531.4 109.5h0M497.2 116.4h0M559.8 109.5h0M518.9 108.9h0M537.1 105.1h0M552 115.3h0M501.3 116.4h0M484.8 106.1h0M520.8 119.1h0M529.8 118.5h0M531.3 117.8h0M527.7 117h0M510.9 112.7h0M544.5 113.1h0M508 114.7h0M524.2 111.6h0M520 119.5h0M570.4 116.5h0M504.7 111.3h0M493.9 107.9h0M527.4 108.3h0M526.5 123.9h0M554.6 109.4h0M502.4 114.1h0M493.1 108h0M500.6 112.6h0M508.1 110.4h0M539.5 116.8h0M532.4 114h0M517.4 114.5h0M550.4 111.6h0M481.8 115.6h0M535.1 101.4h0M529.8 117.2h0M485.5 105.1h0M536.2 116h0M564.1 114.9h0M507.6 107.5h0M518.2 107.3h0M543.6 125.4h0M543.3 102.8h0M535.9 114h0M501.4 105.8h0M551.1 109.9h0M525.1 108.1h0M532 102.8h0M519.4 118.8h0M510.8 117.3h0M491.1 103.3h0M468.7 103.6h0M514.1 107.7h0M515.8 105.9h0M543.5 103.5h0M535.2 103.8h0M515.6 111.8h0M549.9 108.8h0M529.7 111.1h0M507.5 108.3h0M539.6 116.1h0M538.2 114.1h0M529.3 116.3h0M500.2 113.9h0M507.9 103.7h0M498.3 115h0M513.5 108.1h0M501.3 116.3h0M536.3 107.4h0M530.9 102.7h0M547.4 113.2h0M509.8 109.3h0M554.8 119.5h0M514.9 114.6h0M530.5 114h0M525.4 108.8h0M528.3 108.7h0M524.2 110.6h0M542 126.7h0M481.8 111.7h0M479.8 117h0M506.9 111.3h0M519.1 113.6h0M530.5 114.5h0M500.9 113.2h0M526.8 108.3h0M517.7 108.5h0M538.6 114.6h0M535.1 114.8h0M497.9 97.7h0M525.4 104.8h0M553.8 107.9h0M518.9 111.7h0M518.8 109h0M560.8 115.7h0M510.2 111.4h0M530.5 110.7h0M489 113.5h0M545.7 117.8h0M521.3 112.6h0M520.6 114.5h0M463.8 104.9h0M542.7 120h0M501.7 109.8h0M500.7 110.4h0M499.3 109.2h0M494 119.7h0M499.3 107.7h0M545.9 114.8h0M528.1 111.8h0M506.1 109.4h0M532.2 111.3h0M485.4 112.1h0M545.1 117.4h0M542.6 109.4h0M525.9 107.9h0M516 113.7h0M490.4 116.7h0M528.3 114.7h0M492.5 108.8h0M502.1 109.8h0M547 112.4h0M494.7 104.2h0M522.2 109.6h0M512.6 115.1h0M512.9 119.8h0M511 112.7h0M533.9 126.8h0M542.7 109.2h0M524.6 111h0M547.2 112.4h0M492.1 112.9h0M512.6 119.7h0M513.4 111.9h0M525.3 106.2h0M516.1 104.7h0M514.4 113.2h0M533.6 104.9h0M505.2 111.6h0M519.3 113.5h0M544.5 108.8h0M535.7 116.4h0M524.2 124.7h0M512.2 104.6h0M490.3 110.9h0M537.3 125h0M528.8 112h0M530.2 112.1h0M518.4 126.4h0M516.7 112.2h0M519.9 114.7h0M558 115.6h0M512.4 117h0M527.6 111h0M531.9 114.7h0M543.1 109.2h0M515.3 110.7h0M518.3 114.6h0M524 108.2h0M528.4 114.9h0M491.3 111.7h0M557.9 117.6h0M476.5 109.5h0M511.9 108.7h0M464.4 102.4h0M497.5 102.9h0M554.6 122.7h0M522.8 108.9h0M514 99.4h0M529.4 110.9h0M515 121.3h0M533.4 117.5h0M502.6 109.3h0M521.2 114h0M531.1 106h0M514 112.2h0M568.2 110.3h0M507.5 107.5h0M516.4 117.5h0M452.4 105.9h0M557.4 109.7h0M480.2 109.5h0M544.2 109h0M539.5 110.5h0M506.4 107.9h0M508.8 118.5h0M527.8 107.8h0M469.8 111.3h0M539.6 112.8h0M479.7 107.9h0M503.5 104.9h0M491.3 113.6h0M509.7 111.4h0M512.6 111.7h0M497.1 109.7h0M490.3 112.5h0M537.2 115.9h0M521.1 112.4h0M554.5 110.5h0M570.6 120h0M517.7 109.8h0M538.1 115.4h0M529 117.3h0M577.4 105.6h0M501.5 102.9h0M509.8 103.9h0M514.1 114.1h0M528.9 120.2h0M472 95.5h0M497.5 117.5h0M533.9 104.6h0M521.3 105.6h0M484.2 119.1h0M505 116.6h0M556 117.8h0M527.8 108.2h0M484.7 113.1h0M501.4 111.3h0M566 119.1h0M491.3 109.2h0M516.4 108.8h0M477.3 107.7h0M526.9 109.7h0M507.7 122.5h0M509.8 109h0M546.9 104.1h0M538.7 109.7h0M502.1 109.8h0M508.4 107.7h0M481.5 109.2h0M515.3 113.8h0M554.1 111.4h0M497.7 112.4h0M497.5 113.9h0M511.8 108.1h0M566.3 119.5h0M514.5 112.8h0M541.6 116.4h0M519.8 116.4h0M527.9 116.2h0M535.8 102.7h0M534.8 115.7h0M557.9 109.9h0M513.6 115.9h0M549.8 108.1h0M511.2 112.7h0M512.4 113.5h0M545 116.6h0M502.5 111.3h0M476.9 108.6h0M549.8 110.4h0M533.5 121.4h0M500.7 107.2h0M560.5 119.9h0M484.5 103.6h0M532.6 107.3h0M553.1 115.9h0M506.1 99.9h0M518.1 114.5h0M531.7 112h0M500.3 107.7h0M506.9 108h0M503.9 114.5h0M510.5 112.5h0M515.7 114.7h0M537.9 121h0M498.6 123h0M523.7 107.4h0M552.6 117.1h0M531 115.2h0M540.8 119.3h0M523.4 109.7h0M481.3 116.1h0M544.8 114.8h0M517.8 106.7h0M478.5 112.7h0M499.9 98.3h0M485.9 110.9h0M517.4 115.1h0M519.7 118.7h0M527.9 112.1h0M529.7 120.3h0M522.5 121.4h0M514.7 97.6h0M520.7 114.8h0M543.2 116.7h0M513.6 103.2h0M506.6 105.9h0M516.2 117.8h0M520.9 108.7h0M532.1 119.3h0M476.9 104.4h0M529.4 117.8h0M519.9 112.1h0M535.6 113.7h0M528.7 112.9h0M529.6 107.2h0M498.3 114.8h0M521.8 114h0M502.1 105.3h0M482.9 108.5h0M549.3 123.6h0M571.8 115.5h0M527.8 110.4h0M576.2 122.1h0M495.3 118.1h0M523.7 117.8h0M533.6 118.2h0M487.6 102.6h0M509.3 109.7h0M509 107.8h0M570.7 110.3h0M531.6 112.4h0M550.6 117.7h0M569.2 107.8h0M547.5 108.8h0M514.8 109h0M490.9 108.8h0M549.2 110.9h0M535.6 110.1h0M527.9 107.8h0M502.9 106.8h0M501.9 112.6h0M546.6 122.8h0M569.8 112.2h0M524.8 111h0M548.6 116h0M528.9 120.7h0M490.5 114.2h0M515.2 115.4h0M521.4 107.7h0M526.6 118.9h0M548.5 122.8h0M547 110.5h0M535 108.9h0M558.1 111.3h0M547.3 122.2h0M520.1 116h0M518.2 106.1h0M512.7 108h0M546.4 116.1h0M520.4 106h0M528.2 113.5h0M499.7 112.8h0M507.1 112.3h0M480.2 120.2h0M510.3 115.3h0M533.7 107.9h0M522.6 111.3h0M481.3 114.1h0M532.1 114.1h0M516.4 121.5h0M515.1 110h0M528 119.5h0M522 115.9h0M538.1 98.3h0M492.1 106.7h0M519.6 113.5h0M537.9 107.2h0M503.6 112.7h0M517.8 107.7h0M460.1 106.9h0M540.5 103.5h0M524.6 111.9h0M535.5 107.7h0M495.9 113.7h0M527.3 107.9h0M515.5 112.1h0M488 120.1h0M562 118.4h0M530.4 112.4h0M527.5 123.7h0M537.6 113.8h0M499.9 113.4h0M561.1 112.9h0M503.1 110.6h0M539.5 111.1h0M496.7 113.7h0M490.1 107.7h0M493.5 102.4h0M526.7 111.8h0M567.1 122.1h0M503.4 114.5h0M479.3 104.2h0M473.7 106.7h0M505.4 110.9h0M499.6 110.2h0M491.5 111.8h0M516.7 110.5h0M532.4 104.3h0M548.5 109.9h0M509.7 117.6h0M529.8 113.3h0M512 110h0M520.3 105.7h0M545.8 117.3h0M550.6 119.6h0M511.6 120.6h0M516.5 118.9h0M543.6 122.7h0M495.6 106.7h0M533.4 111.6h0M522.1 117.5h0M514.4 110.2h0M533.7 109.5h0M568.1 120.3h0M512.2 116.3h0M510.9 113.2h0M521.8 105.2h0M518.1 113.5h0M471.9 106.9h0M526.1 111.8h0M535.4 111.2h0M543.2 110.2h0M493.9 111h0M494.3 100.5h0M499.5 105.1h0M546.7 104.7h0M508.3 115.9h0M513.8 107.9h0M531.2 111h0M526.1 111.2h0M494.1 115.4h0M548.6 118.7h0M568.3 115h0M536.7 110.7h0M578.2 113.6h0M510.9 110h0M518.7 113.6h0M496.8 109.1h0M552.4 113.2h0M549.5 114.2h0M496.9 101.3h0M492.7 108.4h0M535.9 108.2h0M522.8 108.2h0M530.3 108.3h0M539.7 113.9h0M574.6 114.5h0M500.4 112.5h0M519.1 103h0M537.5 108.9h0M533 112.5h0M537.3 112.4h0M537.4 109.6h0M514.3 113.7h0M507.3 101h0M500.5 122.8h0M517.8 113.4h0M472.1 110.4h0M520 103.1h0M541.8 108.3h0M515.3 103h0M488.4 113h0M557.5 113.2h0M487.2 109.2h0M528.9 114.5h0M537.4 117.9h0M518.3 115.4h0M533.2 110.1h0M535.7 115.1h0M504.9 102.6h0M492 114h0M526.2 118.4h0M481.1 107.5h0M506.6 110.5h0M528.5 108.6h0M514.6 118.3h0M546.1 115.9h0M557.4 109.4h0M523.8 102.7h0M528.7 114.6h0M563 114.9h0M510 113.9h0M560.8 117h0M499 108.2h0M531.8 116.2h0M543.4 119.5h0M482.7 111.5h0M493.6 116.9h0M515.6 110.1h0M523.5 117.4h0M514.6 109h0M508.6 113.3h0M535.8 118.3h0M486.7 105.3h0M534.8 116.5h0M486.6 109h0M507.4 112h0M496.2 107.5h0M511.2 105.1h0M477.3 111.2h0M512.4 114.1h0M539.7 111h0M511.6 115.5h0M532.8 120.9h0M513.9 107.7h0M524.5 107h0M534.7 118.4h0M488.5 110h0M507.6 110h0M521.1 109.5h0M552.2 117.4h0M502.9 113h0M498.1 112h0M540 115.5h0M526.1 113h0M507.5 121.3h0M495.6 106.4h0M481.6 105.4h0M560.1 111.1h0M522.6 113.3h0M556 111h0M519.5 116.1h0M521.5 112.1h0M517.9 108.1h0M510.4 106.9h0M560.6 116h0M480.5 104.9h0M503.6 118.9h0M539 117.1h0M521.9 116.2h0M504.9 109.9h0M474.1 108h0M512.8 116.6h0M513.1 107.3h0M526.8 104.3h0M522.9 111.3h0M535.5 110.3h0M507.5 113.9h0M489.6 111h0M514.3 109.4h0M563.8 118.4h0M534 114.2h0M521.5 114.1h0M482.3 104.7h0M517.1 116.1h0M470.1 104.5h0M501.3 104.3h0M513.2 117.6h0M509.3 109.1h0M542.7 122.6h0M520.3 116.3h0M513.3 109.3h0M519.6 109.7h0M540.7 107.6h0M517.9 119.5h0M546.7 112.7h0M562.9 108.9h0M535.7 106.5h0M509.6 110.9h0M537.4 111.8h0M504 105.7h0M510.8 104.4h0M543.5 114.1h0M486.6 104.5h0M522.7 123.5h0M524.4 107.6h0M535.2 117.2h0M547.7 118.2h0M527.4 118.8h0M524.3 107.8h0M526.5 112.4h0M540.1 115.9h0M536 118.3h0M547.6 112.6h0M578.7 112.4h0M530.5 113.7h0M487.7 110.9h0M539.2 114.4h0M499.2 106.5h0M473.4 104h0M549.8 113.3h0M551.3 108.4h0M501.1 107.1h0M506.4 112.2h0M549.8 118h0M543.2 113.6h0M537.2 115.1h0M514.1 111.1h0M531.4 113.8h0M508.6 112.5h0M566.8 121h0M517.8 114.6h0M546.1 113h0M499.5 108.2h0M532.6 114.6h0M495.9 106.8h0M514.3 112.6h0M498.7 111.9h0M557.7 116.2h0M536.2 118.2h0M529.1 99.6h0M555.5 118.4h0M534.5 110.9h0M530.8 111.8h0M529.5 119.6h0M511.2 108.8h0M506.6 108h0M484.8 106.1h0M526.8 109.2h0M566.4 115.3h0M512.9 111.2h0M535.2 116.8h0M503.5 101.4h0M505.9 111.7h0M539.5 118.5h0M521.1 111h0M506.6 106.3h0M498.2 120.8h0M559.1 119.9h0M554 103.8h0M510.1 105.6h0M518.6 110.3h0M477.6 110.4h0M545.8 105.9h0M501.7 113.5h0M559.2 110.9h0M536.9 117h0M512.4 104.6h0M523.3 117.8h0M498.7 109.3h0M529 106.3h0M529.4 109.2h0M525 117.2h0M521.5 113.1h0M509.8 116.5h0M518.8 108h0M569.4 103.4h0M496.4 110.1h0M526.5 115.9h0M473.8 111h0M537.3 110.9h0M493.5 116.7h0M501.2 119.9h0M515.6 119.4h0M508 105.1h0M523.1 107.2h0M506 113.1h0M494.5 108.1h0M517.5 112.3h0M535.1 103.4h0M475.2 107h0M539.2 113.1h0M553.1 115.3h0M503.9 108h0M498.6 115.2h0M521.7 113.3h0M523 99h0M536.2 114.2h0M542.4 109.1h0M518.6 103.1h0M547.2 119.9h0M541.2 114.2h0M532.9 111.1h0M560.4 122.2h0M512.8 112.2h0M491.1 111.2h0M507.4 108.7h0M544.2 111.6h0M507.3 109.2h0M478.3 109h0M510.2 104.7h0M552 114h0M526.2 119.2h0M503.2 107h0M488.2 113.5h0M508.7 107.4h0M513.1 113.7h0M524.6 119.2h0M505 115.7h0M519 104.8h0M530.5 104.3h0M531.7 120.3h0M489.9 114.3h0M487.8 111.9h0M575.7 121.5h0M506.2 118.2h0M551.2 118.6h0M499.4 117.2h0M494.6 106.6h0M520.2 107.8h0M516.7 119.3h0M536.5 111.3h0M501.6 112.7h0M548.1 119.1h0M524.3 112.4h0M524.7 107.9h0M512.3 105.1h0M504.5 108.2h0M530.6 115h0M532.3 105.8h0M545.6 116.7h0M522 119.7h0M517.8 108.9h0M499.9 110h0M527.6 117.7h0M506 106.9h0M520.7 105.9h0M530.8 113.9h0M505.2 111.3h0M536.2 109.3h0M496 110.8h0M543.1 113.6h0M526.3 108h0M486.5 111.3h0M541 109.7h0M513.6 114.8h0M471.7 111.3h0M559.8 120.7h0M580.6 114.3h0M532.7 114.4h0M501 120.2h0M533.7 110.9h0M535.4 115.8h0M509.9 114.6h0M526.2 117.3h0M495.7 101.4h0M533.6 108.8h0M513.7 110.4h0M501.8 100.2h0M486.9 110.8h0M498.2 112.1h0M533.6 104.1h0M484.7 112.3h0M470.9 109.3h0M529.6 131.6h0M532.6 120.9h0M496.3 113.2h0M501.9 114.3h0M522.7 122.1h0M558.9 108.5h0M506 112h0M501.4 117.3h0M481.7 96.6h0M550.6 113.4h0M527.6 107.2h0M524.7 112.5h0M504 102.5h0M507.4 105.2h0M552.5 112.3h0M557.1 105.8h0M534.2 117.5h0M550.3 108.6h0M533 115h0M529.9 124.8h0M550.5 101.3h0M534.6 118h0M556.8 111.9h0M492.9 120h0M479.8 117.7h0M535.8 117.5h0M523.5 109.3h0M521 103.8h0M509.9 106.3h0M564.9 107.2h0M530.5 104.1h0M512 104.3h0M503.6 112.1h0M470.9 103.8h0M511.6 108.9h0M541.5 104.6h0M552.1 127h0M548.8 109.6h0M537.6 117.1h0M507.7 112h0M503.6 100.1h0M530.4 117.1h0M516.4 111.1h0M510.7 113.1h0M547 109.6h0M497.1 117.2h0M529.2 108h0M511.9 108.8h0M548.1 111.4h0M534.4 116h0M499.8 110.2h0M522.5 102.3h0M513.5 115.7h0M498.8 123.7h0M529.7 100.1h0M518 116.2h0M493.9 106.6h0M513.7 118.1h0M522.4 115.1h0M549.1 124.1h0M494.9 115.1h0M526.9 112.7h0M520.8 110.7h0M522.3 104.6h0M488.9 109.4h0M503.2 112.8h0M512.5 117.4h0M514.4 112.6h0M510.6 105h0M507.5 108.7h0M521.2 113.3h0M478.7 105h0M520.6 116.9h0M565 115.9h0M510.5 114.6h0M509.1 110.3h0M510.8 112.1h0M498 108.1h0M536.3 109.3h0M467.4 106.6h0M519.9 106.5h0M499.3 111.4h0M525.5 113.6h0M493 108.5h0M549.5 103.2h0M548.3 109.2h0M490.1 106.4h0M520.7 124.7h0M527.1 106.3h0M502.2 105.9h0M538.8 119.3h0M511.8 112.1h0M537.4 114.4h0M537.9 110.1h0M518 107.8h0M585.1 115.7h0M525.7 117.4h0M539.9 119h0M482 108.3h0M519.3 110.7h0M505.7 118.2h0M493.6 105.3h0M541.5 108.6h0M511.3 116.8h0M490.7 111.3h0M529.7 112.9h0M516.7 106.3h0M509.5 113.8h0M517 117h0M515.6 112.8h0M512.9 112.8h0M549.7 112.9h0M487.3 97.4h0M530.6 118.4h0M541.6 103.7h0M517 114.1h0M535.2 119h0M519.9 107.1h0M545.2 111.9h0M509.1 115.8h0M501.8 108.1h0M566 109.4h0M552.2 104.5h0M543.2 114.7h0M557 118.5h0M491.3 109.2h0M502.9 117h0M532.7 114h0M498 114.6h0M547.2 108.5h0M537.3 119.5h0M542 114.3h0M528.3 114h0M501.9 109.1h0M524.3 106.4h0M512.7 110.1h0M527.8 117.6h0M512.4 105.1h0M529.7 119.3h0M519.8 111.4h0M522.9 112.3h0M520.2 117h0M520 107.6h0M499.9 108.6h0M531.7 111.1h0M506 114.8h0M509 112.7h0M542.3 117.1h0M506.2 113.3h0M540.2 105.1h0M469.5 107.5h0M481.9 115.1h0M547 121h0M460.1 107.4h0M522.8 120.1h0M518.5 117.4h0M578.4 113.8h0M553 105.4h0M467 114.2h0M546.1 110h0M542.8 107.7h0M551.7 115.9h0M519.6 105.9h0M517 104.6h0M479.9 113.6h0M508.2 113.6h0M496.5 110h0M522.4 111h0M469.5 109.5h0M493.2 107.4h0M503.5 112.4h0M561.5 110h0M501.5 117.5h0M515.6 115.7h0M537.1 106.9h0M534.4 111.3h0M500.8 112.9h0M485.1 110.5h0M508 117.6h0M531.9 111.9h0M518.1 109h0M530.5 111.8h0M508.1 115.2h0M516.9 113.5h0M498.2 111.2h0M549.7 106.1h0M492.1 117.8h0M513.3 104.2h0M504.4 117.2h0M494.3 104.9h0M541.2 113.9h0M548.7 110.3h0M531.1 122.1h0M516.8 97.7h0M513.2 118.1h0M491.8 111.8h0M528.8 115.2h0M554.1 116.7h0M516.9 110h0M556.1 109.3h0M512.1 122.1h0M515.6 112h0M486.4 118.5h0M509.9 111.9h0M528.2 109.6h0M488.6 99.6h0M553.8 119.9h0M527.2 109.8h0M527.6 109.6h0M487 115.2h0M509.1 116.7h0M553.6 112.1h0M519.9 112.7h0M561.3 118.2h0M483.4 105.7h0M539.4 114.4h0M522.2 114.8h0M515.6 120.3h0M521.4 101.8h0M551.2 114.2h0M499.1 103.8h0M541.2 129h0M554 121.3h0M527.3 113.9h0M532.5 115.8h0M530.1 116.5h0M520.7 113.5h0M475.8 110.5h0M504.2 102.6h0M534.2 124.3h0M558.7 109.5h0M543.5 110.8h0M505.6 113.9h0M532.6 99.7h0M527.3 120.2h0M546.8 102.8h0M522.7 121.7h0M524.4 113.4h0M537.3 118.3h0M527.1 114h0M534 111.9h0M522.1 109.9h0M533.8 109h0M491.5 111.6h0M517.9 116.7h0M574 107.2h0M490.6 114.5h0M547.3 113.9h0M554.8 121.1h0M514.9 107.9h0M526.9 113.6h0M548.9 115.8h0M542.3 120.1h0M522 115h0M538 119.7h0M506.9 111.3h0M488.5 106h0M536.3 118.3h0M493 102.9h0M500.3 116.2h0M502.7 111.4h0M551.6 117.3h0M537 110.8h0M578.8 111.9h0M517.3 113.6h0M520.5 110h0M505.1 108.5h0M507.6 118.8h0M518.3 121h0M492.5 110.4h0M494.8 114h0M536.2 122.3h0M533.6 108.5h0M525 113h0M510.7 109.7h0M500.6 107.6h0M509.8 109.7h0M475.6 111.6h0M548 112h0M466.3 117.7h0M499.3 99.8h0M481.9 107.5h0M546.1 119.1h0M500.1 105h0M539.6 107.7h0M507.3 109.1h0M539.5 108.8h0M508.1 107.3h0M530.8 115.4h0M515.2 117.4h0M522.8 114.2h0M505.2 108.6h0M569 110h0M607.7 122.4h0M569.4 109.3h0M604.5 116.4h0M564.3 111.8h0M607.6 121.8h0M619.9 117.5h0M558.2 104.2h0M577 116.4h0M567.8 113.7h0M615.9 118.3h0M582.1 112.7h0M600.6 116.3h0M563.4 109.4h0M630.9 112.7h0M566.3 111.7h0M580.7 114.9h0M575.9 114.7h0M551.7 107.8h0M632.8 113.4h0M616.7 126h0M564 114.5h0M645.7 116h0M612.3 117.9h0M627.1 124h0M649.4 116.7h0M598.8 112.2h0M612.9 119.5h0M582.7 114.9h0M619.3 110h0M559.4 110.2h0M593.9 113.6h0M603.4 117.8h0M571.8 110.1h0M642.3 114.3h0M592.4 112.3h0M619.8 118.6h0M639.2 114.9h0M579.3 108.8h0M591 109.9h0M580 107.9h0M591.2 113h0M609.4 119.7h0M610.5 115.3h0M640.8 122.2h0M573.8 113.8h0M633.6 117.5h0M603.4 114.3h0M559.7 115.4h0M629.2 120.1h0M636.9 116h0M611.7 115h0M611.7 111.2h0M555.4 118.9h0M569.6 115h0M642.2 121.7h0M582.8 111.2h0M594.6 111.5h0M598.2 116.2h0M576.7 117.4h0M648.6 116.4h0M646 113.9h0M641.8 112.4h0M618.8 113.7h0M643.8 119.2h0M630.3 119.3h0M624.4 121.2h0M647 117.8h0M615.5 115.7h0M557.1 107.2h0M652.2 123.2h0M564 115.3h0M622.2 116.3h0M562.3 111.7h0M567 112.3h0M639.5 112.3h0M622 119.9h0M594.6 114.7h0M558.9 111.1h0M559.7 114.8h0M557.7 108.5h0M607.9 119.7h0M558.5 113.6h0M591.7 111.4h0M623 122.3h0M581.3 111.5h0M559.2 107.5h0M597.7 117.4h0M555.7 111.5h0M581.4 119.1h0M633.6 119.6h0M615.7 113.8h0M581.5 115.5h0M586.4 113h0M601.6 113.3h0M590.1 117.1h0M624.9 110.2h0M644.6 123.3h0M611.4 117.8h0M644.9 121.9h0M602.2 108.9h0M629 116.6h0M611.1 119.7h0M596.7 113.6h0M647.9 114.8h0M585 110.8h0M598.8 111.2h0M612.8 113h0M596.3 112h0M608.9 121.4h0M651.5 117.6h0M562.2 110.3h0M562.7 112.6h0M553.9 113.5h0M551.1 121h0M569.5 113.3h0M651.7 114.6h0M558.5 117.5h0M571.1 111.1h0M584.9 116.8h0M631.7 123.3h0M621.8 118h0M552.2 111.4h0M618.5 114.9h0M612.1 122.5h0M592.2 111.1h0M561.9 112.5h0M580.6 114.3h0M641.7 123.3h0M638.4 119.5h0M566.1 123.4h0M626.2 120.6h0M562.9 117.7h0M601.5 110.5h0M645.5 121.7h0M630.1 113.6h0M636.8 116h0M624.1 121.5h0M590.6 115h0M588.1 118h0M610.8 112.7h0M566.2 111.3h0M609.1 111.2h0M600.5 119.6h0M652.4 119h0M580.9 118.2h0M611.9 117.1h0M581.6 116h0M585.2 114.4h0M596.8 120.8h0M555.7 118.2h0M583.4 114.7h0M643.1 113.5h0M645.5 119.7h0M601.6 125.3h0M613.6 112.2h0M577.6 109.7h0M607.1 115.6h0M590.9 110.5h0M640.2 124.7h0M576.8 115.6h0M602 119.3h0M592.7 116h0M552.6 111.2h0M620 113.8h0M609.8 116.7h0M572.7 116.1h0M645.2 116.5h0M607.3 114.3h0M597.5 110.1h0M610.1 122.1h0M596.4 126.9h0M561.8 109.7h0M599.8 115.3h0M560.2 119.8h0M633.4 111.4h0M568.1 117.1h0M642.1 117.5h0M622.1 116.4h0M621.1 115.9h0M557.6 118.5h0M554.3 117.6h0M585.8 120.5h0M628.5 120.5h0M620.6 113.7h0M620.8 118.2h0M620.9 118.6h0M630.2 117.3h0M611.1 122.1h0M575.4 103.6h0M576.9 114.9h0M617.6 116.6h0M580 119.4h0M586.5 111h0M603.5 109.9h0M652.5 115.8h0M616.8 105.4h0M606.6 114.9h0M601.3 114.9h0M562.9 115.9h0M644.6 120.3h0M616.6 108.9h0M620.1 114.4h0M572.5 118.7h0M641.7 113.6h0M591.2 111.9h0M647.8 127.3h0M613.7 115.8h0M623.3 118.4h0M637.6 122.3h0M586.2 108.6h0M635.7 120.1h0M614 112h0M562.7 110.6h0M594.6 113.6h0M615.8 107.2h0M563.4 116.2h0M622.8 115.8h0M560.7 112.8h0M641.9 119.2h0M609.5 121h0M614.3 112.9h0M643.3 115.2h0M553.8 113.8h0M605.1 117.6h0M568.6 112.9h0M594.1 114.8h0M649.8 115.7h0M581.8 111.4h0M587.8 114.4h0M650.6 114.4h0M564.8 110.4h0M597.4 122h0M621.1 128.7h0M555.9 117.5h0M627.9 114.7h0M649.7 123.7h0M555.9 118.7h0M557.9 118h0M605.1 113.5h0M589.4 120.8h0M634 115h0M576 116h0M634.4 117.4h0M651.7 122.8h0M650.2 121.7h0M559.5 115.9h0M551.8 116.7h0M559.2 111h0M573.4 109.9h0M587.2 120.2h0M561.3 105.8h0M628.5 120.9h0M620.2 118.1h0M607.5 119.1h0M550.7 114.4h0M561.8 111.5h0M624.5 120.4h0M630.3 116.1h0M615.9 120.6h0M569.4 122h0M596.4 109.6h0M627.1 114.3h0M553.7 114.3h0M633.9 116.2h0M612.3 116.3h0M645.7 111.8h0M639.9 118.5h0M588.1 114.6h0M577.4 115.6h0M637 121.2h0M579 107.4h0M605.8 121.9h0M554.1 111.5h0M564.2 121.7h0M624.8 114.1h0M580 112.8h0M566.5 121.5h0M601.9 125.2h0M646.8 118.4h0M579.3 112.6h0M634.1 119.3h0M639.4 114.5h0M612.6 123h0M565 109h0M571 117.8h0M620.4 120h0M633.6 118.5h0M624.3 119.4h0M574.5 111.6h0M589.8 113.3h0M602 111.6h0M589.3 111.4h0M651.5 126.1h0M633 116.5h0M612.3 117.3h0M643.3 119.5h0M649.3 116.8h0M572.4 115.2h0M582.7 113.5h0M560.4 111h0M610.3 113.8h0M635.8 120.3h0M639 125.1h0M576.3 118.2h0M612.9 116.7h0M651.3 118.7h0M577.1 121.8h0M599.4 116.6h0M563.3 105.7h0M600.8 116.4h0M583.5 111.4h0M650.5 118.3h0M627.7 113.7h0M559.2 109h0M600.8 114.9h0M601.7 116.1h0M649.3 114.7h0M632.3 114.9h0M636.6 122.9h0M605.8 117.3h0M619.2 110.8h0M573.4 115.2h0M574.2 120.5h0M631.6 117h0M578.3 114h0M628.2 115.6h0M553.6 109h0M632.8 117.2h0M650.7 118.8h0M561.6 110h0M564 111.5h0M623 110.1h0M621.9 116.5h0M649.4 121h0M604.7 116.7h0M575.8 107.2h0M552.2 113.2h0M651.7 120.6h0M636.4 123.1h0M610.9 107.2h0M606 117.9h0M613.1 107.9h0M580.1 116.1h0M584 111.8h0M646.2 123.2h0M626.4 119.8h0M556.9 119.2h0M558.8 118h0M645.6 118.9h0M649.9 118.3h0M592.2 110.2h0M553.9 123.5h0M578.4 118.1h0M623.2 116.8h0M587.5 119.3h0M629.9 116.8h0M605.8 122.3h0M595.4 110.1h0M651.8 117.2h0M621.6 115.6h0M641.2 114.4h0M624.9 115.9h0M624.1 122.9h0M639.5 119.9h0M609.6 118.3h0M584.6 113.1h0M634 115.1h0M574.5 117.5h0M650.4 114.6h0M592.1 114h0M621.8 110.9h0M554.4 111.9h0M571.6 120.8h0M570.1 111.8h0M617.3 114.3h0M581.8 114.5h0M558.3 111.8h0M635.1 122.6h0M598.2 116.6h0M645.9 118.5h0M582.6 119.9h0M592.1 121.6h0M585.7 114.4h0M643.4 125.4h0M591.8 117.9h0M611.2 112.3h0M619.2 114h0M576.2 119.6h0M629.5 116.1h0M560.6 121.4h0M591.4 112.9h0M566.9 117.3h0M554.3 113.7h0M585.8 116h0M597.4 113.5h0M625.6 113.2h0M557.8 116.3h0M613.8 111.1h0M608 117h0M645.8 114.4h0M599.7 116.9h0M562.3 109.4h0M608.8 110.7h0M550.9 115.4h0M636.6 117.3h0M578.9 113.7h0M604.9 103.7h0M592 115.2h0M551.4 117.9h0M552.9 123.6h0M566.7 111.2h0M589.4 112.6h0M553.6 106.6h0M579.4 116.4h0M614.8 123.8h0M575 113.5h0M648.1 118.9h0M608.3 121.9h0M617 108.2h0M600.3 114.6h0M570.7 118.4h0M630.6 112.3h0M572.6 123.5h0M557 105.5h0M590.7 109.1h0M603.5 117.8h0M596.4 109.4h0M585.2 112.1h0M558 111.9h0M598.3 116h0M621.4 120.8h0M626 118.2h0M575.5 115.8h0M649.1 122.4h0M637.6 116.2h0M595.9 107.1h0M585.3 113.5h0M554.2 111.4h0M573 119.1h0M642.9 114h0M621 107.3h0M639.1 120.1h0M580 109.5h0M588 113.7h0M650.7 108.7h0M579.3 113.2h0M619.8 117.4h0M629.4 121.9h0M636.3 112.3h0M651.1 113.2h0M634.7 122.2h0M560.5 116.8h0M607.7 117h0M645.5 115.3h0M576.9 112h0M605.1 108.4h0M640 113.8h0M593.2 107.6h0M640.9 120.7h0M586.8 117.5h0M561.8 115.3h0M642.9 118.5h0M576.8 116.3h0M599.3 112.1h0M645 114.7h0M605.8 114.3h0M603.1 112.4h0M618.7 120.4h0M618.8 119.8h0M572 111.2h0M562.1 107.9h0M562.4 115.4h0M636.7 121.2h0M631.1 115.1h0M580.8 117.7h0M618.8 123.2h0M567.5 109.2h0M612.6 111.7h0M587.5 110.4h0M651.4 120.4h0M569.2 108.6h0M567.8 124.4h0M571 117.8h0M610.5 115.7h0M561.3 112h0M561.8 113.4h0M585.3 113.7h0M567.2 119.3h0M611.4 106h0M564.4 115h0M621.7 109.9h0M583.7 110.8h0M614.9 112.7h0M583 117.2h0M556.3 116.5h0M620 122.1h0M559 115.4h0M566.4 111.3h0M561.8 112.7h0M639 109.8h0M612.7 118h0M642.6 114.7h0M564.6 106.6h0M578.4 108.1h0M648 118.8h0M583.2 113.1h0M638.3 114.2h0M604.5 120.4h0M595.4 121h0M590.7 107.3h0M561.6 117.2h0M582.8 116.9h0M647 120.5h0M644.8 122h0M569.3 109.5h0M561.9 103.9h0M626.2 117.6h0M647.2 116.3h0M624 118.2h0M623.6 114.5h0M627.4 117.5h0M586.5 114h0M606.2 118.5h0M598.6 109.1h0M572.6 116.5h0M622.9 117.6h0M650.1 118.1h0M609.6 113.8h0M575.4 110.8h0M569.5 111.1h0M620 119.7h0M643.2 118.1h0M606.1 114.3h0M576.7 121.5h0M573.2 115.6h0M625.8 112.4h0M563 113.9h0M632.2 116.7h0M645.4 122.7h0M594.4 118.5h0M583.8 115.1h0M574.3 114.4h0M599.3 118.7h0M565.9 109.2h0M589.8 112.7h0M651.3 119.7h0M550.7 102.7h0M643.9 120.1h0M652.2 113.7h0M633.6 118.2h0M568.9 113.1h0M638.2 120h0M629 120.1h0M583.9 121.4h0M633.1 112.4h0M620.3 119.6h0M574.4 119.7h0M610.5 112.6h0M606.5 115.6h0M599.6 115.2h0M634.4 115.3h0M650.5 118.5h0M579.2 110.5h0M632.3 118.1h0M608.7 117.2h0M564.2 115.1h0M643 112.7h0M647.5 116.3h0M615.6 122.3h0M631 120.3h0M580.2 112.1h0M614.8 114.2h0M572.6 117.1h0M585.4 111.4h0M616.6 112h0M632.3 119.4h0M574.2 108.2h0M561.8 118.8h0M552.1 116h0M551.3 111.8h0M567.1 112h0M615.6 120.8h0M601.2 106.7h0M646.3 110.8h0M596.1 109.6h0M593.3 116.7h0M562.4 112.7h0M593.2 115.5h0M583.6 115.4h0M556.1 117.5h0M590.4 109.9h0M645.9 117.2h0M618.4 111.6h0M607.3 117.5h0M608.8 112.7h0M598.2 115.2h0M605.7 110.9h0M585 118.8h0M651.1 119.6h0M603.7 117h0M580.6 119.3h0M636.3 114.4h0M624.3 112h0M561.9 115.5h0M610.3 113.7h0M649.9 120.9h0M557.7 115.8h0M610.4 118.2h0M574.8 117.1h0M644.9 118.6h0M644.5 120.6h0M606.5 116.3h0M571.3 107.3h0M563 117.4h0M565.3 116h0M562.9 116.3h0M568.2 106.2h0M564.5 112h0M557.8 113.8h0M630.5 116.4h0M628.5 128.6h0M644.7 120.5h0M609.8 112.6h0M551.1 107.6h0M648 116.8h0M563.2 119.8h0M632.8 115.3h0M594.5 125h0M588.6 112.2h0M619.2 119.8h0M627.4 115.8h0M632.9 112.4h0M650.8 118.4h0M597.5 112h0M567.4 108.1h0M626.2 117.1h0M593.1 112.7h0M563 110.7h0M614.3 113.5h0M556 112.2h0M601.8 110.5h0M563 116.9h0M564.5 114.8h0M611 117.9h0M554.3 106.6h0M591.4 110.4h0M583.2 108.7h0M607.1 114.1h0M623.4 113.7h0M583.1 112.6h0M551.3 117.8h0M601.5 113.8h0M624.1 121.4h0M568.8 112.8h0M591.8 114.8h0M617.2 112.4h0M599.5 114.8h0M564.3 107.2h0M635.5 115.6h0M568.8 116h0M607.5 111.4h0M600.6 114.7h0M631 114.8h0M558.4 107.4h0M603.4 119.4h0M599.8 113.9h0M584.8 116.7h0M550.8 119.1h0M593.9 117.3h0M635.3 111.9h0M630.2 109.8h0M606.5 121.6h0M552.5 115.4h0M643.6 126.2h0M594.4 112.1h0M566.3 110.8h0M580.7 111.5h0M649.1 111.2h0M634.8 124.7h0M643.8 122.5h0M593.6 117.9h0M570.1 111.9h0M633.8 119.3h0M638.4 114h0M611.1 110.9h0M560.3 112.4h0M601.5 115.7h0M608.5 109.1h0M596.7 115.2h0M593.1 124.3h0M621.7 111.1h0M558.5 105.5h0M616.9 118.1h0M563.6 112.7h0M591.1 112.4h0M652 114.5h0M628.3 114h0M569.1 117.3h0M554.7 117.3h0M619.8 118.5h0M582.1 116.1h0M643.3 112.3h0M596.5 115.5h0M602.5 116.8h0M639.6 110.9h0M595.1 114.4h0M559.2 120.9h0M588.4 123.8h0M563.9 115.3h0M650 118.6h0M614.9 118.1h0M588.5 115h0M550.5 110.1h0M580.9 111.3h0M599.1 116.3h0M646.6 119.3h0M614.5 117.6h0M648 118.6h0M589.2 114.9h0M599.5 109.4h0M571.5 107.6h0M633.2 112.5h0M649.5 120.2h0M644.1 122h0M557.7 121.4h0M605.5 113.8h0M631.9 116.9h0M648.3 121.6h0M553.7 113.3h0M562.3 114.5h0M554.2 111.4h0M593 110.6h0M608.5 113.2h0M557.1 115.7h0M642.4 107.5h0M643.2 119.3h0M606.1 108.7h0M647.9 112.6h0M587.1 114.5h0M591.7 114.2h0M574.1 116.6h0M632.3 114.4h0M592.4 112.7h0M600.1 111h0M558.1 117h0M576.6 113.9h0M642.2 113.2h0M641.6 117.9h0M593.5 112.3h0M581.7 118.5h0M582.7 108.2h0M645.5 122.9h0M644.8 118.1h0M620.4 115.8h0M610.5 117.9h0M624.8 114.4h0M629.6 115.1h0M583.6 112h0M579.1 114.6h0M584.8 115.8h0M631.5 113.5h0M649.7 116.5h0M650.1 120.4h0M614 123.3h0M592.3 110.8h0M550.9 112.4h0M559.8 122.4h0M591 116.1h0M602.8 112.1h0M643.3 113.9h0M651 115.6h0M598.1 114.7h0M598.9 110.1h0M611.1 119.6h0M568.4 116.4h0M620.4 121.1h0M550.5 115.9h0M592 113h0M602.3 114.7h0M571.5 119.2h0M599.9 116.9h0M610.1 116.9h0M607.9 120h0M627.9 122h0M559.3 115h0M615.1 113.6h0M641.3 122.6h0M552.1 108h0M576.2 123h0M625.2 119.3h0M641.6 114.8h0M646.3 118.9h0M566.9 116.5h0M561.7 115.1h0M583.3 116.8h0M566.7 120h0M586.2 109.7h0M633.9 118.7h0M652.6 117.5h0M634.7 116.7h0M633.7 120.4h0M621.3 110.1h0M584.7 117.6h0M602.6 122.6h0M605.5 115.6h0M556.9 112h0M631.6 110h0M638.9 118.2h0M598.1 108.6h0M605.9 110.4h0M610.5 116.9h0M645.9 121.1h0M608 119.1h0M608.7 118.6h0M647.7 116.8h0M621.9 114.4h0M623 123.8h0M604.7 115.7h0M571.5 115.6h0M588 111.9h0M566.1 111h0M570.3 116.4h0M562.6 115.4h0M595.8 115.3h0M564.9 116.1h0M575.3 114.2h0M648.3 113.6h0M634.4 116.1h0M628.4 115.1h0M608.1 113.5h0M625.2 112.7h0M564.6 116.5h0M554 120.9h0M576.5 118.2h0M621.4 116.9h0M570.2 114.5h0M600.5 115.5h0M617.1 114.8h0M565.7 123.9h0M553.9 122.3h0M575.7 110.8h0M630.4 114.6h0M628 118.7h0M606 112.8h0M605.7 108.1h0M632.5 113.3h0M625.9 112.7h0M564.7 111.3h0M645.3 117.3h0M603 114.2h0M600.9 122h0M607.7 113.9h0M593.5 113.5h0M604.2 117.9h0M557.5 112.9h0M608.3 118.9h0M622.2 115.4h0M601.9 115h0M612.5 115.2h0M646.8 114.7h0M616.5 114h0M577.7 109.7h0M553.9 106.1h0M648.8 117.9h0M574.5 115.3h0M566.8 121h0M648.6 117.3h0M574.9 115.3h0M624.8 118.7h0M553.7 112h0M641.6 113.8h0M626.2 118.8h0M619 113.3h0M599.5 115.9h0M612.5 108h0M630.3 120.8h0M604.7 122h0M626.2 107.4h0M649.1 119.2h0M597.1 111.2h0M593.5 111.9h0M625.5 120.3h0M602.4 109.5h0M581.4 119.2h0M652.4 113.9h0M620.2 122.5h0M595.3 114.3h0M587 113.7h0M614.6 113.7h0M622.2 119.8h0M611.3 108.9h0M551.5 118.6h0M625.8 119.5h0M557.2 104.2h0M588.6 109.7h0M555.3 112.2h0M559.1 115.7h0M551.4 114.4h0M640.2 115.3h0M637.3 121.8h0M610.4 115h0M554.4 114.8h0M620 118.4h0M626.4 112.1h0M602.6 118.7h0M589.7 105.7h0M596.3 116.7h0M605.9 116.2h0M613.2 113.4h0M596.4 110.1h0M647 119.5h0M644.5 116.9h0M579.3 108.9h0M586 116.6h0M601.7 113.3h0M564.4 121.9h0M580.5 110.7h0M578.7 112h0M579.1 120.7h0M571.4 123.4h0M604.1 120.7h0M584.1 112.6h0M569.1 116.6h0M601 107.1h0M647.7 115.6h0M644.6 117.8h0M561.8 116h0M564.2 115.2h0M599.1 112.1h0M552 117.1h0M572.2 107.2h0M603.7 116.3h0M583.5 115.4h0M574 113.4h0M637 123h0M648.2 112.3h0M620 117.9h0M562.7 109.6h0M574.1 115.1h0M637.7 116.8h0M601.6 119.3h0M596.8 111.1h0M583 118.2h0M581.7 111.9h0M588.1 123.1h0M632.9 115.8h0M638.7 127.6h0M556.4 111.6h0M636.9 118.1h0M636.8 118.5h0M584 116h0M616.7 117.5h0M617.8 118.9h0M631.6 114.5h0M643.8 114.6h0M604.2 116h0M582.7 117.4h0M637.1 113.1h0M632.6 123.7h0M650.3 113h0M565.4 109.5h0M560.4 103.6h0M576.5 107.1h0M570.7 114.4h0M592.1 112.3h0M629.7 117.4h0M576.3 123.1h0M617.8 112.3h0M594.1 107h0M647 120.2h0M604.3 113.5h0M569 111.7h0M579.3 111.2h0M629.9 112.3h0M552.6 110.4h0M602.3 122.7h0M650.7 117.5h0M562.5 113.2h0M565.2 113.4h0M563 119.6h0M634.9 118.8h0M577.9 119.8h0M589.8 109.7h0M556.2 114.2h0M594.8 121.3h0M605.1 118.5h0M572.3 116.4h0M618.7 121.1h0M651.2 115.4h0M628.4 119.2h0M571.9 115.1h0M630.9 116.2h0M573.2 111.7h0M634.4 122.4h0M621.3 114.1h0M633.3 111.5h0M595 114.7h0M560.2 117.2h0M602.4 112.4h0M645 116.4h0M638.1 117.8h0M565.6 118.1h0M603.5 110h0M632.3 113.9h0M559.4 115.8h0M589.9 110.7h0M621.5 110.2h0M618.2 115.2h0M573.5 112.5h0M566.2 113h0M597.8 115.3h0M588.6 114.7h0M554.8 106.1h0M611.6 115.2h0M577.1 115.6h0M593.8 111.4h0M613.4 113.9h0M615.5 111.7h0M638.4 115.1h0M610.2 122.7h0M555.8 108.8h0M612 120h0M587.4 113.4h0M643.1 117h0M597.8 122.6h0M600 110.5h0M583.9 118.8h0M613.2 113.7h0M623 110.4h0M623.1 115.2h0M644.6 119.3h0M650.2 116.7h0M579.9 109.6h0M625 124.6h0M579.5 120h0M578.4 115h0M609.7 110.9h0M611.9 117h0M596.1 115.9h0M559.8 105.8h0M598.8 124.7h0M568.1 122.1h0M647.6 119h0M583.2 115.9h0M564.7 109.7h0M641.4 122h0M555.2 120.9h0M564.8 110.9h0M585.3 121.1h0M572.8 119.9h0M573.3 109.3h0M616.3 115.3h0M554.8 110.3h0M614.7 113.2h0M555.2 109.7h0M613.7 120h0M615.9 120.5h0M590.4 111.5h0M625.9 118.5h0M588.9 115.3h0M556.9 112.3h0M595.6 116.6h0M625.4 117.9h0M571.2 113.9h0M592.6 115.5h0M572.7 106.7h0M647.6 119.4h0M593.5 118.1h0M610 111.7h0M564.9 106.4h0M620.1 124.6h0M559.4 114.1h0M564.7 116.9h0M575.8 115.7h0M582.9 114.4h0M565.3 119h0M616.3 116.5h0M578.1 114.5h0M590 118.3h0M565.7 113.8h0M634.6 113.7h0M632.9 114.3h0M586.4 116.8h0M616.8 119.4h0M558 104.1h0M648.5 120.6h0M619.6 122.3h0M632.7 116h0M641.2 121.6h0M570.1 114.1h0M580.3 115.3h0M613.2 118.1h0M555.5 112.9h0M596.3 118.4h0M638.1 117.8h0M618.9 118.8h0M589.8 112.3h0M613.4 116.7h0M598.5 121.5h0M593.2 115.5h0M630.3 119.6h0M571.8 116.5h0M617 119h0M594.5 116.3h0M644.5 121h0M614 114.8h0M556.4 119.2h0M554.1 106.2h0M564.3 115.6h0M554.6 111.1h0M602.9 116.6h0M624.1 117.6h0M606.4 118.2h0M615 118.8h0M652.5 115.4h0M552.7 115.7h0M587.4 114.9h0M613.5 120.7h0M620.1 119.4h0M627 116h0M598.4 119.4h0M606.1 116.6h0M612.7 113.4h0M606.9 121.7h0M637 116.9h0M560.4 120.7h0M645.2 121.2h0M626.8 116.2h0M568.2 115.1h0M619.4 117.7h0M630.3 118.1h0M630.2 122.3h0M571.8 119.5h0M579 113.9h0M645 113.4h0M552.4 115.5h0M583.1 115.6h0M623.9 121.9h0M607.6 114h0M647.4 126h0M601.2 116h0M576.3 122.2h0M647 114.6h0M558.3 110.9h0M640.7 118h0M584.7 116.3h0M622.3 116.4h0M582.4 112.3h0M590.6 118.3h0M580.1 114.8h0M643.9 115.4h0M571.7 113.5h0M601.1 118.8h0M647 121.9h0M599.8 114.2h0M611.5 115.1h0M559.9 113.3h0M576.3 120.9h0M648.7 114.5h0M565.3 114.7h0M598.1 117.5h0M563.8 106.7h0M600.6 122.1h0M591.4 111.2h0M562.6 109.6h0M589.1 114.8h0M592 115.8h0M604.5 119.8h0M561.5 109.6h0M620.6 116.6h0M583.6 113.4h0M561.9 114.4h0M575.3 114h0M568 112.2h0M650.4 121.9h0M642.4 110.3h0M596 114.5h0M615.5 123.3h0M609.8 117.6h0M615.2 117.6h0M612.2 111.3h0M600.7 120.5h0M613.2 117h0M566.6 111.1h0M611.2 117.2h0M624.7 114.3h0M641.9 109.8h0M586.7 106.8h0M594.2 119.3h0M636.9 125.7h0M636.6 122h0M551.2 117h0M605.3 107.8h0M579.4 111.5h0M615.8 109.6h0M570.1 111.5h0M556.7 115.4h0M610.8 110.5h0M580.2 115.2h0M569.2 113.9h0M561 111.2h0M617.3 117.4h0M616.5 110.5h0M632.4 114.1h0M628.3 116h0M617.4 115.8h0M648.4 118.4h0M618.5 117.5h0M561.2 112.6h0M621.4 112.9h0M585.9 115.5h0M585.7 108.3h0M588.7 112.4h0M627.6 115.5h0M552 116.7h0M617.1 117.1h0M575.4 120.4h0M645.7 117.4h0M564.6 119.6h0M552.7 113.5h0M564.2 113.1h0M550.8 109.1h0M572.4 121.2h0M648.8 115.8h0M642.1 116.5h0M608.3 115.2h0M603.5 112.5h0M645.4 114.7h0M599.5 119.2h0M614.2 115.3h0M648.6 121.5h0M621.3 118.8h0M605.3 119.3h0M560.3 116.3h0M628.2 117.8h0M587.9 113.8h0M572.6 114.6h0M635.6 118.5h0M610.5 111h0M591.9 111.4h0M611.3 117h0M584.6 112.8h0M610.7 110.3h0M601.9 116.5h0M626.9 117.1h0M555.2 117.5h0M639.8 116.3h0M581.8 112.9h0M621.7 120.7h0M566.6 112.1h0M629.9 117.8h0M642.1 123.7h0M554.3 110.5h0M599.2 122.2h0M589.3 108.1h0M647.4 118.9h0M554.4 113.6h0M554.1 116.7h0M634.3 112h0M605.9 120.6h0M608.6 111.2h0M579.5 111.4h0M634.2 115.2h0M577.5 113.3h0M604.8 117.5h0M600.8 112.1h0M565.8 114.8h0M594.8 115.7h0M611.8 117.2h0M603.8 116.1h0M642.9 120.2h0M635.1 115.3h0M636.4 116.2h0M572.6 118.7h0M562.4 115.4h0M617.8 118.4h0M564.7 119.5h0M616.5 114.6h0M582.3 122.2h0M628.3 121.8h0M596.5 114h0M570.9 113.9h0M553.4 115.9h0M555.2 118.6h0M649.2 126.8h0M570.2 112h0M618.7 111h0M579 117.1h0M646 119.9h0M600.7 112.1h0M579.3 111.4h0M560.5 116.9h0M583.7 114.9h0M556.8 122.3h0M626.3 117h0M605.9 116.3h0M642.8 124.6h0M622.6 123.8h0M575.7 111.7h0M562.2 117.6h0M590.7 106.9h0M552.6 112.3h0M640.4 117h0M618.6 115.4h0M608.3 119.6h0M589.5 115.9h0M593.2 111.1h0M639.6 120.5h0M607.4 117.3h0M602.7 114h0M618.8 112.9h0M619.2 116.2h0M579 109.6h0M627.5 118.1h0M570 112.3h0M564 117.2h0M595.9 113.9h0M643.4 113.9h0M590.5 113.5h0M586.3 108.8h0M610.4 115.3h0M573.2 117.4h0M561.9 114.7h0M644.7 119.4h0M557.2 109.4h0M627.5 122.9h0M650.6 122.9h0M610.2 111.9h0M550.5 119h0M581.8 116.5h0M579.1 113.9h0M568 113.6h0M555.9 110.1h0M602.6 115.4h0M623.1 111.3h0M636.8 110.4h0M597.1 111.5h0M552.2 110.2h0M563.4 116.8h0M644.5 120.5h0M612.9 119.5h0M601.3 123.2h0M591.8 116.5h0M568.9 115.7h0M560.7 112.9h0M569.1 119.8h0M640.4 116.2h0M584.3 112.8h0M630.2 127.8h0M625.9 125.4h0M630.6 118.6h0M604.3 122.6h0M648.1 118.6h0M613 121.3h0M600.3 119.3h0M635.4 112.6h0M617.3 112.9h0M593 114.1h0M651.1 119.4h0M557.2 110.4h0M553.7 116h0M607.5 112.8h0M554.7 106.1h0M568.2 116.6h0M596.4 115.9h0M574.1 116.3h0M574 120.9h0M632.3 119.2h0M586.9 113.3h0M587.8 114.9h0M559.9 115.5h0M599.6 108.8h0M581.1 121.5h0M651.5 114.4h0M621.5 110.5h0M640.3 113.9h0M596.2 112.3h0M633.6 112.3h0M650.6 117.1h0M567.5 116.8h0M647.1 114.2h0M556.5 118.1h0M563 123h0M625.3 121.8h0M609 120.1h0M636.7 120.3h0M598.3 112.4h0M598.6 118.6h0M651.5 120.8h0M551.6 117.1h0M593.4 114.8h0M555.1 109.3h0M592.3 120.6h0M583.3 109.6h0M626.1 121.9h0M631.1 120.3h0M640.4 115.7h0M554.4 110.9h0M610 113.1h0M642.8 116.9h0M591.4 118h0M631 115.5h0M602.7 124h0M566.9 113.3h0M552.5 107.7h0M626.2 121.5h0M632.6 119.3h0M570.2 114.5h0M623 113.4h0M591.8 111.1h0M645.1 117.7h0M563 117.7h0M606.1 116.8h0M599.7 116.6h0M565.2 117h0M644.6 112h0M560.9 116.6h0M646.6 114.2h0M641.7 117.3h0M627.6 119.5h0M619.5 112.7h0M602.5 114.9h0M569.6 111.9h0M550.9 109.8h0M584.7 118.2h0M603.7 116.3h0M641.7 121.9h0M619.9 116h0M640.8 112.3h0M643.2 112.7h0M643.9 114.8h0M584.6 106.9h0M586.3 116.7h0M615.1 109.5h0M565.6 115.8h0M635.3 112.5h0M612.6 118.2h0M637.5 120.7h0M613.4 119.1h0M608.8 118.2h0M583 122.7h0M595.7 109.8h0M569.9 116.7h0M622.8 115.4h0M572.1 115.5h0M592.9 119.8h0M609.9 110.9h0M571.9 115.1h0M583.2 111.3h0M643.3 113.5h0M556.7 113.8h0M604.4 114h0M635.9 113.2h0M591.3 109.1h0M605.3 123.7h0M646.6 123.9h0M650.6 127.3h0M630.8 122.4h0M609.3 119.2h0M566.5 116h0M597.2 115.6h0M645.7 117.9h0M572 109.6h0M576.9 115.6h0M591.2 111h0M582.3 112h0M550.7 112.5h0M644.1 113.9h0M573 112.3h0M585.9 118.9h0M590.4 118.9h0M612.8 116.7h0M627.7 114h0M609.9 119.1h0M565.6 122.4h0M569.8 115.2h0M558.2 110.5h0M588.9 115.1h0M606.4 125.2h0M608.2 108.7h0M640.1 117.5h0M605.6 113h0M550.9 114.2h0M623.4 120.4h0M603 114.4h0M646.4 120.5h0M650.6 122.9h0M551 110.4h0M607.7 122.4h0M626.3 113.8h0M622.5 116.1h0M585.3 115.1h0M613 113.4h0M630 119.2h0M633.6 123.8h0M626.8 116.7h0M618.4 116h0M635.4 118.8h0M555.9 116.8h0M604.2 118.1h0M636.5 118.7h0M627.4 112.5h0M605.2 121.3h0M650.1 120.3h0M558.8 120.5h0M554.4 110.4h0M629.9 118.9h0M628.2 115.2h0M620.5 117.6h0M626.9 123.9h0M651.7 117.6h0M559.2 114.9h0M616.7 118.5h0M643.7 114.9h0M575.3 123.7h0M619.3 111.3h0M611.7 114.1h0M592 108.4h0M648.3 121h0M593.2 112.5h0M643.6 118.3h0M554.4 119h0M566.5 117.3h0M585.6 109.4h0M586.6 115.7h0M633.4 117.2h0M581.5 106.1h0M610.5 118.3h0M611.4 116.7h0M652 119.9h0M611.9 122.3h0M610.2 118.6h0M634.9 121.2h0M568.2 114.6h0M580.7 117.5h0M606.2 113.7h0M612.9 118.9h0M621.2 113h0M652.5 118h0M621.3 115.5h0M630.2 117.5h0M558.1 117.3h0M587.7 113.8h0M618.2 119.2h0M586.3 114.5h0M612 116.8h0M579.9 115.5h0M593.3 120.4h0M651.2 124.1h0M615.4 115h0M582.6 123.3h0M651.1 123.5h0M594.4 119.9h0M561.4 118h0M578.3 122.1h0M594.6 119.2h0M633.3 124.4h0M645.2 121.5h0M584 115.9h0M631.3 116.6h0M603.2 114.7h0M596.6 116.9h0M636.2 116.2h0M639.8 113h0M630.1 116.2h0M588.7 111h0M594.9 107.7h0M607.2 112h0M638.7 118.5h0M586.9 116.4h0M566.3 116.2h0M629.7 110.7h0M552.4 113.3h0M552.2 114.4h0M643.2 113.3h0M633 114.4h0M555.7 111.8h0M636.5 121h0M630.8 122.9h0M593.9 114.6h0M559.8 118.4h0M557.6 116.7h0M599.5 115.7h0M612.9 112.4h0M578.3 115.2h0M623.6 116.2h0M631.6 112.9h0M590.5 115.5h0M587.7 119.1h0M558.6 117.3h0M596.8 112.5h0M613 118.1h0M650.3 111h0M584.6 108.3h0M602.7 117.1h0M596.1 112.4h0M617.4 118.3h0M624.3 117.8h0M597.2 112.2h0M645.8 116.2h0M622.8 114h0M563 115.6h0M556 111.2h0M554.6 105.1h0M620.5 116.5h0M648.2 118.2h0M628.1 114.9h0M564.6 116.2h0M633.9 117.3h0M622.2 120.1h0M613.9 106h0M567 111.1h0M615.5 118.3h0M631.7 113h0M563.6 114.7h0M583.5 110.7h0M617.5 112.1h0M615.1 122.6h0M605.2 117.8h0M622.3 119.8h0M568.5 107.9h0M626.1 120.1h0M598.4 119.4h0M618 119.3h0M558.7 117.8h0M640.2 118h0M559.1 107.1h0M648.3 125.7h0M578.9 115.4h0M631.6 115.2h0M623.1 116.1h0M576 108.3h0M630.6 109.6h0M593.3 112.3h0M641.1 120h0M629.1 117.5h0M623.9 114.8h0M564.7 113.6h0M592.2 120.6h0M644.2 119.7h0M599.1 121.8h0M648.3 119.9h0M644.5 122h0M561.3 114.6h0M567.2 112.7h0M612.1 112.1h0M561.1 122h0M640.7 119h0M638.4 115.5h0M601.3 119.9h0M558 109.4h0M551.9 114.1h0M638.9 118h0M572.9 120.4h0M557.4 116h0M605.5 117.5h0M622.5 122h0M640.1 112.2h0M650.9 113.8h0M626.7 116.1h0M585.5 115.3h0M601.4 118h0M652.4 119.7h0M607 115.1h0M568 122.7h0M649.3 119.1h0M622 118.4h0M616.8 120.7h0M605 119.1h0M598.4 113.6h0M551.6 113.8h0M585.3 120.6h0M625.1 117.4h0M606.2 120.7h0M560.3 106.5h0M579.1 112.7h0M625.2 122.8h0M639.2 113.8h0M557.2 111h0M560.2 110.1h0M551.4 114.8h0M645.1 117.2h0M635.3 112h0M624.6 116.1h0M559 110.9h0M628.4 116.8h0M562.6 110.1h0M597.6 110.4h0M605 114.4h0M590 114h0M603.3 122.5h0M624.8 113.1h0M624.3 119h0M610.8 119.4h0M573.2 111h0M613 118.7h0M625.4 117.5h0M554.9 115.6h0M579.6 118.2h0M567.4 116.3h0M623.5 114h0M590.4 112.1h0M548.6 108.6h0M641.2 129.1h0M569.1 124.9h0M633.7 119.4h0M583.5 130h0M587.6 132.4h0M545.1 115.8h0M611.6 123.7h0M651.9 115.4h0M546 116.6h0M644.3 122.9h0M595.8 110.8h0M566.6 120.2h0M626.5 121.1h0M640.6 108.5h0M564.5 133.1h0M576.1 118.4h0M596.2 114.9h0M553.8 111h0M563.3 118.7h0M559 116.6h0M571.7 125.2h0M602.2 132.6h0M550 122.1h0M599.7 116.8h0M645.6 113.8h0M627.3 116.3h0M557.4 99h0M556.3 116.1h0M639.6 98.2h0M621 121.5h0M611.4 99.6h0M553.3 106.6h0M637.2 122.8h0M536.9 107.4h0M637.8 121.2h0M601.4 108.2h0M589.4 115h0M643.2 120h0M582.5 119.2h0M651.8 120.8h0M566.3 124.1h0M644.1 113.4h0M590.5 109.4h0M605.8 109.2h0M604.1 128.6h0M629.5 118.1h0M548.2 121.3h0M642.8 119.8h0M599.6 122.4h0M585.5 117.7h0M621.5 113.7h0M566.6 107.2h0M574 111.6h0M637.4 117.8h0M647.8 116.7h0M592.8 118.9h0M591.7 100.4h0M580.8 127.5h0M536 112.8h0M648.6 130.3h0M630.3 115h0M611.7 104.3h0M576.1 113.8h0M596.6 115.7h0M552.1 117.9h0M561 103.4h0M601.3 117.4h0M624.9 94.7h0M563.6 123.8h0M652.2 110.2h0M536.3 113.7h0M617.9 116.8h0M594.9 113.8h0M641.6 109.7h0M634.4 112.8h0M599.1 99.4h0M547.3 121.9h0M563.8 115.6h0M594.2 121.5h0M609 110.1h0M637.9 114.3h0M651.8 122.8h0M552.9 114.1h0M542.7 120.3h0M583.8 128.2h0M608.4 110.1h0M598.2 116.7h0M599.9 116h0M627.6 112.5h0M595.2 109.3h0M579.2 118.6h0M619.5 114.9h0M650.8 130.5h0M616.7 125.2h0M646.4 117.3h0M597.8 116.7h0M598.2 117h0M594 111.8h0M606.2 121.7h0M614.3 115.4h0M593.7 129.4h0M559.2 112h0M536.2 102.2h0M609.9 114.7h0M611.8 122.7h0M559 101.9h0M645.2 121.9h0M567.9 102.3h0M638.8 115.6h0M635.1 113.8h0M581.7 117.7h0M652 137.5h0M580.7 127.6h0M555.5 119.3h0M626.7 131.4h0M626.1 98h0M617.3 118.8h0M574.4 118.8h0M584 115.4h0M577.5 124.9h0M544.1 101.2h0M584.2 120.5h0M615.9 111.3h0M603.6 105.9h0M625.7 127.7h0M640.8 108.1h0M564.1 119.2h0M562.7 123.1h0M559.3 123.4h0M652.5 120.5h0M567.6 115.6h0M610.4 119.2h0M601.2 105.2h0M648 117.3h0M568.7 114.8h0M631.7 124.5h0M635 112.1h0M649.7 112h0M599.2 132.6h0M586.8 119h0M585.3 113.5h0M537.4 122.1h0M537.6 111.9h0M601.3 124.8h0M638.6 110.4h0M641.4 126.5h0M648.5 111.1h0M651 120.2h0M554.9 107.5h0M647.9 125.3h0M637.4 119.4h0M639.1 121.1h0M579.3 104.6h0M633.1 101h0M565.9 121.8h0M541.2 110.6h0M624.1 107.5h0M595.6 110.7h0M596 122.3h0M591.4 110.8h0M589.8 125.9h0M579 106.5h0M539.4 115.9h0M640.7 104.9h0M577.5 116.8h0M612.4 113.7h0M575.4 112h0M564 128.3h0M604.4 117.2h0M585.8 111.4h0M555.1 120.9h0M636 122h0M615.4 117.3h0M543.4 110.5h0M602.7 125.2h0M625.1 130.7h0M576.6 132.6h0M560.5 112.7h0M608.5 138.1h0M553.4 120h0M588.9 118.2h0M640.6 117.2h0M611.9 94.2h0M606.6 112.8h0M640 110.8h0M612.4 104.7h0M642.7 126.6h0M572 115.9h0M550.5 109.6h0M617.9 122h0M570.4 111.6h0M566.2 122.9h0M648.9 111.7h0M597.2 102h0M601.6 119.1h0M597.2 110h0M572.2 106.7h0M536 115.6h0M592.8 114.2h0M591.5 103.4h0M588.6 102h0M574.3 118.1h0M587 118.9h0M600.3 114h0M553.8 110.7h0M636.1 130h0M606.1 129.8h0M602.8 124h0M594.7 113.9h0M555.3 105.2h0M562.2 117.6h0M635.7 113.9h0M638.9 121.6h0M640.8 126.2h0M537.7 115.3h0M612.6 135.1h0M612.9 121.9h0M638.1 123.4h0M646.5 131.4h0M582.4 104.4h0M565.2 115.3h0M633.5 117.9h0M591.6 122.7h0M555.7 113.1h0M616.4 131.4h0M564.4 107.6h0M588.5 108.1h0M565.3 104.4h0M584.4 122.2h0M618 113h0M550.9 100.2h0M603.7 122h0M648.5 125.9h0M651.1 123.2h0M563 119h0M630.1 123.8h0M596.2 110.2h0M575.3 109.9h0M580 110.5h0M575 100.6h0M640.1 114.9h0M553.8 115.4h0M625.4 131.3h0M631.4 123.9h0M632.2 112.9h0M621.6 126.7h0M606.8 114h0M551.8 106.5h0M605.3 108.5h0M622.7 104.4h0M542.7 106.8h0M569.8 109.8h0M612.3 116.7h0M623.1 105.3h0M640.1 130.7h0M561.2 119.9h0M613.6 118.5h0M564.9 101.5h0M627 125.8h0M645 122.5h0M603.4 98.4h0M634.4 121.5h0M540.9 124.1h0M641.3 122.6h0M594.2 120.7h0M581.1 108.7h0M539 116h0M652.1 116h0M613.1 121.3h0M548.7 108.9h0M562.6 121.9h0M607.4 110.7h0M546.4 124.1h0M611.7 129.6h0M641.8 105.4h0M630.9 129.8h0M575.9 125.9h0M610.4 112.7h0M626.4 118.8h0M604.7 102.7h0M620.6 112.7h0M561.1 101.2h0M626.7 118.7h0M594.1 112.5h0M629 112.4h0M638.9 124.9h0M550.5 99.3h0M573.9 112.9h0M555.8 127.5h0M649 127.2h0M650.7 132.6h0M633.7 124.5h0M581.2 119.9h0M635.6 96.4h0M608.4 118.9h0M573 128.8h0M389.5 97.4h0M379.8 106.6h0M421 88.6h0M449.1 100.3h0M393.5 101.8h0M398.5 86.5h0M376.4 103.1h0M399.4 99.8h0M427.6 102.5h0M376.5 87.3h0M402.9 103.1h0M414.9 107.9h0M399.4 112.7h0M456.3 93.8h0M410.1 89.6h0M379.4 95.9h0M443.3 89.6h0M436.1 112.4h0M434.4 103.2h0M411.4 94h0M433.9 102.2h0M392 89.3h0M421.3 107.8h0M413.5 96.3h0M400 102.5h0M438.7 96.7h0M421.6 96.3h0M404.7 87.1h0M462 91.2h0M435.3 114.4h0M406.2 107.9h0M456.8 97.1h0M433.6 98h0M462.9 100.7h0M395.8 86.8h0M398.7 96.9h0M424 87.5h0M442.5 86.5h0M444.1 97.4h0M387.5 111.4h0M407 105.7h0M391.2 96.9h0M453.8 99.8h0M441.9 105h0M408.8 97h0M379 148h0M391.6 167.3h0M397.1 143.2h0M392.1 161.4h0M388.6 152.5h0M398.6 151.8h0M381.5 141.3h0M389.3 161.7h0M389.6 160.3h0M384.5 157.4h0M395.3 139h0M397.2 150.4h0M450.8 71.2h0M452.6 66.9h0M530.3 131.7h0M525.6 84.3h0M617 60.2h0M509.1 47.9h0M525 119.3h0M568.1 181.3h0M558.5 159.4h0M489.1 201h0M570.6 195.6h0M594.2 103.7h0M596.1 155.2h0M620.4 64.6h0M586.5 166.2h0M629.8 127h0M508.5 156.6h0M520.4 131.3h0M621.2 170.6h0M549.6 187.7h0M471.8 82.2h0M508 94.1h0M460.6 62.7h0M467.3 90h0M482.1 87.8h0M505.4 91h0M460.8 62.8h0M498.3 72.9h0M473 91.6h0M480.8 76h0M452.3 63.6h0M459.3 83.8h0M465.5 71h0M482.2 62.9h0M664.6 67.6h0M665.9 57.5h0M664.4 47.3h0M662.9 54.1h0M659.4 45.3h0M660.4 48.8h0M662.6 59.1h0M662.7 24.7h0M664.3 71.3h0M666.1 55.7h0" stroke="#000" stroke-width="1.7" stroke-linecap="round" fill="none"/>
<path d="M470.5 109.5 C474 104 484 100.5 497 100 C515 99.5 540 101 556 105 C566 108 574 112 574 116 C572 121 560 125 540 125.5 C515 126 492 124 480 119 C474 116 471 113 470.5 109.5Z" fill="#000"/>
<path clip-path="url(#cb)" d="M665.1 126h0M656.4 114.9h0M662.7 119.4h0M658.9 125.6h0M654 127.4h0M666.6 126.9h0M659.4 129h0M656.7 125.8h0M655.4 122h0M655.3 122.9h0M657.3 119.7h0M654.9 125.5h0M657.8 122.8h0M656.5 123.4h0M652.7 124.2h0M650.1 120.6h0M663 120.7h0M662.9 119h0M654.2 122.1h0M654.1 129.9h0M657.2 129.9h0M652 126.9h0M663.5 124.6h0M653.8 126.9h0M665.8 122.1h0M655.9 126.5h0M654.7 122.7h0M658 115.5h0M657.2 133.4h0M661.3 121.7h0M647.1 121.2h0M661.4 128.7h0M654.3 125.3h0M663 131.8h0M653.1 129.5h0M656.6 131.2h0M650.7 127.9h0M661.1 125.5h0M656.7 126.4h0M661.2 130.1h0M658.1 124.3h0M661.3 128.4h0M652.2 114.6h0M662.8 120.6h0M659.4 122.3h0M664.2 123.3h0M659.5 118.9h0M659.8 118.5h0M660.5 130.4h0M652.7 127.6h0M656.9 118.6h0M656.6 117h0M659.2 120.5h0M659.5 133.9h0M660.5 131.9h0M652 127.4h0M664.7 125h0M662.4 116.9h0M663.4 127.8h0M650.8 128.6h0M662.4 124.2h0M650.4 120.6h0M659.4 119.5h0M651.8 119.9h0M657.1 120h0M661.8 130.5h0M660.4 117h0M654 128.7h0M664 126.9h0M653.7 133.7h0M656.5 122.4h0M661.9 129.8h0M663.5 125.4h0M658 125.5h0M655.3 123.7h0M659.2 118h0M658.8 131.6h0M659 130h0M655.3 123.1h0M662.9 123.4h0M655 121.9h0M660.1 133.6h0M662.4 124.3h0M665.4 131.1h0M661.5 128.4h0M658.4 128.4h0M660.1 126.9h0M658.7 131.3h0M653.8 122.8h0M657.7 131.5h0M657.5 125h0M657.3 118.8h0M658.9 130.7h0M655.5 125.8h0M656.1 123.6h0M662.7 130.7h0M650.6 131.1h0M650.5 123.6h0M653.7 131h0M664.4 116.8h0M657.7 116.9h0M655.8 125.9h0M656 118.6h0M656.2 128.1h0M659.9 126.4h0M659.1 127.3h0M650.2 117.8h0M657.7 119.5h0M649.5 125.7h0M655.7 126.4h0M654.3 126.5h0M662.4 133.1h0M654.4 120.5h0M664.6 120.8h0M655.5 122h0M664.7 123.3h0M660.6 119.8h0M657.8 122.1h0M652.1 118.3h0M657.9 125.9h0M660.7 120h0M663.3 125.1h0M661.2 124.8h0M652.9 124.3h0M659.9 126.3h0M663.8 129.7h0M665.2 125.2h0M658 120.4h0M657.9 121.4h0M649 131.5h0M656.5 127.8h0M647.7 125.4h0M654.9 122.2h0M662 135.3h0M659.8 123.9h0M661.6 125.7h0M657.2 125.3h0M663.9 131.2h0M663.6 125.8h0M657.6 121.3h0M656.6 121h0M661.2 120h0M655 123.8h0M653.3 125.5h0M659.6 122.5h0M662.4 118.1h0M661.3 128.2h0M656.5 122.8h0M651.2 128.6h0M661.7 125.7h0M663.9 119.9h0M652.2 127.3h0M657.2 121.5h0M659 129.6h0M655.9 123.6h0M654.4 123.1h0M657.4 127.6h0M652.6 123.6h0M656.1 122.8h0M649.5 133.2h0M655.8 128.3h0M651.9 129.1h0M664.5 121.5h0M657.9 122.1h0M665.2 122.4h0M664.2 132h0M653.1 123.4h0M656.5 127.6h0M664.3 121h0M650.8 119.3h0M656.2 123.3h0M653.1 122.1h0M657.7 122.2h0M655.8 134.8h0M653 125h0M645.9 122.5h0M649.7 116.7h0M656.5 124.5h0M656.7 114.3h0M653 126.7h0M659 129.4h0M659.1 122.6h0M665.7 130.2h0M653.2 121.4h0M657.2 119.1h0M653 125.8h0M657.4 118.5h0M660.4 123.2h0M657.7 117.1h0M660.7 131.7h0M651.1 118.8h0M659.9 128h0M659.8 115.5h0M652.3 130.3h0M649.8 122.7h0M651.6 123.1h0M657.4 120.7h0M654.4 126.3h0M664 118.9h0M653.3 125.6h0M650 129.9h0M665.6 127.2h0M656.3 123.6h0M660.1 127.6h0M659.1 127.1h0M656.8 123.9h0M647.4 123.3h0M653.9 126.5h0M653.2 127h0M659.8 123.4h0M652.4 123.5h0M661.9 123.3h0M663.9 113.8h0M642.6 127.8h0M657.6 121.6h0M648.9 118.5h0M662.5 130.1h0M653.7 116.2h0M665 130.9h0M657 124h0M662 128.1h0M655.7 129.3h0M650.3 116.6h0M656.5 133.4h0M658.3 133.4h0M660.7 118.5h0M653.8 122.3h0M661.6 125.2h0M659 113.4h0M660.5 127.1h0M656.2 134.6h0M658.8 122.8h0M661.5 130.2h0M658 119.9h0M657.7 126.8h0M656.3 123h0M658.5 124.6h0M644.4 126.7h0M661.8 130.9h0M657.9 130.5h0M663.2 124.6h0M657.4 129.9h0M661.3 123.9h0M656.1 120.3h0M657 120.6h0M660.7 120.6h0M659.8 120.3h0M658.7 130.9h0M662.4 119.5h0M653.9 123.3h0M654.5 120.2h0M666.4 123.2h0M652.5 124.6h0M656.1 122.5h0M654.5 126.9h0M658.6 118.3h0M650.1 118.4h0M660.9 123.8h0M663.5 137h0M653.4 127.3h0M658.5 131h0M660.4 113.1h0M658.4 123.9h0M650.9 125.8h0M663 133.2h0M654.8 114.8h0M654.8 131.1h0M648.6 127.6h0M658.3 128.2h0M661.3 118.7h0M655.6 126.2h0M655.7 132h0M665.1 123.1h0M658.8 127.3h0M661.4 137h0M655.8 123.6h0M649.9 130.6h0M658.6 134.6h0M656.2 123.5h0M653.3 120.8h0M660.3 139.6h0M663.2 124.2h0M659.4 126.8h0M657 128.4h0M655.7 125.6h0M652.5 125.6h0M665.9 127.2h0M662.4 124.1h0M655.4 122.7h0M652.6 122.1h0M655.5 123.8h0M661 124.3h0M661.2 133.7h0M655 121.3h0M662.6 119.2h0M654.6 117.5h0M653.2 120.4h0M658 121.5h0M653.9 121.3h0M652.2 121.3h0M658.8 120.9h0M662 122.5h0M652.1 115.3h0M658.4 113.9h0M658.3 127.9h0M653.6 127.3h0M661.3 129.6h0M661.8 121h0M657.5 119.9h0M648.2 132.1h0M649.5 132.2h0M650.3 120.9h0M661.5 125.6h0M645.9 122.8h0M664.9 128.8h0M658.4 131h0M657.8 118.1h0M662.2 131.6h0M654.2 124.7h0M659 140.5h0M653.7 128h0M656 125.5h0M656.7 123.1h0M659.5 120.1h0M653.9 126.5h0M659.1 127.7h0M654.3 124.3h0M659.7 118h0M652.7 127.3h0M660.5 111.7h0M656.1 129.9h0M656.3 121.8h0M651.8 132.5h0M655.9 114.9h0M656.4 112h0M656.9 128.1h0M660.9 124.9h0M662.3 129.5h0M657.2 123.5h0M655 124h0M654 117.7h0M655.9 127.9h0M655 123.6h0M656.2 121.8h0M651.9 129.2h0M660.8 118.9h0M658.8 129.7h0M658.6 122.7h0M664.5 128.2h0M659 124.4h0M661.1 116.7h0M659.1 121.6h0M665.1 126.5h0M659.6 123.1h0M666.1 127.8h0M663.9 114h0M664.4 133.8h0M660.4 122.6h0M665.8 119h0M653.4 116.8h0M664.6 123.2h0M650.1 126.1h0M656.7 126.3h0M662.3 123.8h0M660.8 123.4h0M660.7 123.8h0M656.8 116.4h0M660.4 126.1h0M662 121.2h0M664 120.7h0M661.4 125h0M657.7 127.4h0M658.9 115.9h0M660.1 121.6h0M658.4 123.3h0M657.4 132.3h0M660.9 137.2h0M652.1 134.4h0M662.6 125.2h0M663 119.4h0M657.7 132.8h0M651.8 116.6h0M649.7 120h0M658.6 120.3h0M656 124.3h0M661.8 121.2h0M652.2 127.3h0M660.1 125.3h0M661.8 126.6h0M658 131.6h0M656.3 124.9h0M651.3 124.6h0M654.7 123.1h0M654.7 128.8h0M663.8 117.3h0M663.8 121.7h0M650.1 126.4h0M660.8 123.5h0M661.4 127.4h0M655 132.9h0M654.3 118.4h0M652.1 128.7h0M665.3 117.7h0M655.5 119.3h0M661.1 125.7h0M658 127.4h0M659.9 121.3h0M653.1 128h0M657.1 126.5h0M655.4 130.5h0M656.5 127.5h0M650.1 115.2h0M652.7 123.3h0M655.4 132.4h0M660.7 125h0M658 126.9h0M656.5 121.7h0M658.3 124.3h0M661.5 131.9h0M662.7 128.9h0M654.6 128.9h0M661.9 130.9h0M663.1 130h0M656 132.4h0M652.9 132.3h0M659.1 126.5h0M665.6 124.3h0M662.1 117.6h0M654.6 127.6h0M654.4 128.7h0M655.9 123.4h0M665.3 124h0M658.8 127.3h0M653.7 128.8h0M664.1 119.4h0M652.6 118.7h0M664.2 136.2h0M654.4 121h0M660.9 121h0M660.1 130.3h0M659.3 129.6h0M664.9 118.7h0M655 133.8h0M660.2 130.2h0M653.1 124.9h0M664.6 125.7h0M655.3 130.8h0M654.1 132h0M654.4 113.6h0M652.3 115.9h0M654 120.4h0M664.9 126.1h0M651.6 129.6h0M659.4 128.6h0M661.6 122h0M650.8 138h0M656.8 122.6h0M657.2 131.9h0M656.5 120.2h0M655 124.5h0M653.9 128.1h0M662.1 128.1h0M655.5 124.2h0M658.9 119.7h0M654.3 129.8h0M659.4 128.3h0M656.4 118.5h0M659.6 115.4h0" stroke="#000" stroke-width="1.7" stroke-linecap="round" fill="none"/>
<circle cx="509.4" cy="111.4" r="2.5" fill="#1f78c1"/>
<circle cx="518.3" cy="111.4" r="2.5" fill="#1f78c1"/>
<circle cx="530" cy="111.4" r="2.5" fill="#a8231b"/>
<circle cx="535.8" cy="113" r="2.5" fill="#a8231b"/>
<rect x="375.4" y="4.7" width="291.8" height="214.5" fill="none" stroke="#262626" stroke-width="1.1"/>
<path d="M375.4 219.2v-3M375.4 4.7v3M433.8 219.2v-3M433.8 4.7v3M492.1 219.2v-3M492.1 4.7v3M550.5 219.2v-3M550.5 4.7v3M608.8 219.2v-3M608.8 4.7v3M667.2 219.2v-3M667.2 4.7v3M375.4 219.2h3M667.2 219.2h-3M375.4 176.3h3M667.2 176.3h-3M375.4 133.4h3M667.2 133.4h-3M375.4 90.5h3M667.2 90.5h-3M375.4 47.6h3M667.2 47.6h-3M375.4 4.7h3M667.2 4.7h-3" stroke="#262626" stroke-width="1" fill="none"/>
<text x="375.4" y="235.7" font-size="13" font-weight="bold" text-anchor="middle" fill="#1a1a1a">0</text>
<text x="433.8" y="235.7" font-size="13" font-weight="bold" text-anchor="middle" fill="#1a1a1a">0.2</text>
<text x="492.1" y="235.7" font-size="13" font-weight="bold" text-anchor="middle" fill="#1a1a1a">0.4</text>
<text x="550.5" y="235.7" font-size="13" font-weight="bold" text-anchor="middle" fill="#1a1a1a">0.6</text>
<text x="608.8" y="235.7" font-size="13" font-weight="bold" text-anchor="middle" fill="#1a1a1a">0.8</text>
<text x="667.2" y="235.7" font-size="13" font-weight="bold" text-anchor="middle" fill="#1a1a1a">1</text>
<text x="371.1" y="223.8" font-size="13" font-weight="bold" text-anchor="end" fill="#1a1a1a">0</text>
<text x="371.1" y="180.9" font-size="13" font-weight="bold" text-anchor="end" fill="#1a1a1a">1</text>
<text x="371.1" y="138" font-size="13" font-weight="bold" text-anchor="end" fill="#1a1a1a">2</text>
<text x="371.1" y="95.2" font-size="13" font-weight="bold" text-anchor="end" fill="#1a1a1a">3</text>
<text x="371.1" y="52.2" font-size="13" font-weight="bold" text-anchor="end" fill="#1a1a1a">4</text>
<text x="371.1" y="9.3" font-size="13" font-weight="bold" text-anchor="end" fill="#1a1a1a">5</text>
<text x="520.8" y="252.7" font-size="13.5" font-weight="bold" text-anchor="middle" fill="#1a1a1a" textLength="49.8" lengthAdjust="spacingAndGlyphs">Fe (M3)</text>
<text transform="translate(357.9 112) rotate(-90)" font-size="15.5" font-weight="bold" text-anchor="middle" fill="#1a1a1a">Al</text>
<rect x="566.7" y="12.7" width="94.8" height="46.7" fill="#fff" stroke="#333" stroke-width="0.9"/>
<circle cx="574.1" cy="22.5" r="2.7" fill="#1f78c1" stroke="#223" stroke-width="0.5"/>
<text x="581.7" y="25.7" font-size="9.3" font-weight="normal" text-anchor="start" fill="#2a2a2a" textLength="72" lengthAdjust="spacingAndGlyphs">inclusion in Grt (PA)</text>
<circle cx="574.1" cy="30.4" r="2.7" fill="#a8231b" stroke="#311" stroke-width="0.5"/>
<text x="581.7" y="33.6" font-size="9.3" font-weight="normal" text-anchor="start" fill="#2a2a2a" textLength="39.5" lengthAdjust="spacingAndGlyphs">matrix (PA)</text>
<circle cx="574.1" cy="39.8" r="2.9" fill="#000"/>
<text x="581.7" y="43" font-size="9.3" font-weight="normal" text-anchor="start" fill="#2a2a2a" textLength="79" lengthAdjust="spacingAndGlyphs">inclusion in Grt (map)</text>
<path d="M570.1 49h7M573.6 45.5v7" stroke="#999" stroke-width="0.9"/>
<text x="581.7" y="52.2" font-size="9.3" font-weight="normal" text-anchor="start" fill="#2a2a2a" textLength="47" lengthAdjust="spacingAndGlyphs">matrix (map)</text>
<text x="381.4" y="25.1" font-size="17.5" font-weight="normal" text-anchor="start" fill="#111" textLength="14.6" lengthAdjust="spacingAndGlyphs">b)</text>
<clipPath id="cc"><rect x="42.2" y="274.4" width="288.3" height="221.6"/></clipPath>
<g clip-path="url(#cc)" fill="none" stroke-linejoin="round">
<path d="M42.2 336.3L64.4 321.5L86.6 307.8L108.7 297.9L130.9 295L153.1 298.3L175.3 293.1L197.4 295.8L219.6 301.3L241.8 302.4L264 298.6L286.1 304.8L308.3 304.8L330.5 306.8M42.2 346.8L64.4 334.5L86.6 311.2L108.7 306.4L130.9 301.3L153.1 314.5L175.3 299.1L197.4 300.7L219.6 307.1L241.8 306.5L264 309L286.1 311.2L308.3 316.4L330.5 322.4M42.2 354.8L64.4 342.9L86.6 336.7L108.7 318.8L130.9 308.5L153.1 307.8L175.3 306.4L197.4 307.2L219.6 300.1L241.8 310.6L264 311.7L286.1 320.7L308.3 326.9L330.5 328.6M42.2 356L64.4 345.5L86.6 336.4L108.7 328.9L130.9 316.2L153.1 323.2L175.3 310.9L197.4 319.1L219.6 317.7L241.8 321L264 320.9L286.1 331.9L308.3 330.4L330.5 335.6M42.2 357L64.4 348L86.6 338.7L108.7 330.2L130.9 317L153.1 322.7L175.3 313L197.4 319.2L219.6 318.6L241.8 323.9L264 327.2L286.1 336.1L308.3 342.7L330.5 348.2M42.2 364.8L64.4 352.9L86.6 340.2L108.7 327.6L130.9 317.8L153.1 324L175.3 316.4L197.4 318.4L219.6 320.6L241.8 326.3L264 328.9L286.1 341.9L308.3 350.8L330.5 352.1M42.2 365.9L64.4 353.1L86.6 342L108.7 334.5L130.9 316.3L153.1 324.3L175.3 318.5L197.4 319.5L219.6 322L241.8 331.2L264 336.7L286.1 347L308.3 354.8L330.5 363.4M42.2 369.6L64.4 355.3L86.6 347.6L108.7 332.9L130.9 320.5L153.1 331.2L175.3 324.4L197.4 323.7L219.6 322.3L241.8 331.6L264 337.2L286.1 353.5L308.3 361.1L330.5 367.8M42.2 372.1L64.4 364.4L86.6 346.4L108.7 331.5L130.9 322L153.1 334.1L175.3 323L197.4 321.8L219.6 318.8L241.8 330.4L264 339L286.1 353.4L308.3 362.7L330.5 363.7M42.2 377.7L64.4 366.3L86.6 353L108.7 340.6L130.9 331.1L153.1 337.9L175.3 328.1L197.4 329.1L219.6 327.8L241.8 325.9L264 326.6L286.1 338.1L308.3 341.6L330.5 351.7M42.2 385.4L64.4 372.1L86.6 359L108.7 345.8L130.9 335.9L153.1 338.9L175.3 327.3L197.4 323.2L219.6 323.5L241.8 329.6L264 334.9L286.1 343.5L308.3 346.9L330.5 362.2" stroke="#111" stroke-width="1.1"/>
<path d="M42.2 294L64.4 292.5L86.6 287.5L108.7 282.2L130.9 277.1L153.1 278.2L175.3 276.6L197.4 282.2L219.6 287.9L241.8 318.4L264 343.5L286.1 391.2L308.3 401.3L330.5 436.3M42.2 296.6L64.4 295.1L86.6 290.2L108.7 285.1L130.9 279.5L153.1 281.7L175.3 281.7L197.4 285.3L219.6 299.9L241.8 321.8L264 349L286.1 367.3L308.3 404.9L330.5 439.1M42.2 298.4L64.4 297.4L86.6 293L108.7 289L130.9 282.2L153.1 283.4L175.3 283.4L197.4 290.2L219.6 299.4L241.8 330.9L264 345.7L286.1 391L308.3 409.7L330.5 455.7M42.2 300.6L64.4 299.8L86.6 295.9L108.7 291.6L130.9 286L153.1 286.4L175.3 286.4L197.4 294.4L219.6 305.7L241.8 326.3L264 340.1L286.1 391.3L308.3 421.5L330.5 446.2M42.2 302.6L64.4 302.3L86.6 297.4L108.7 293L130.9 288.2L153.1 290.2L175.3 288.9L197.4 297.4L219.6 303.8L241.8 335L264 352.5L286.1 391.2L308.3 421.8L330.5 456.8M42.2 305.4L64.4 305L86.6 300.6L108.7 294.6L130.9 290.2L153.1 291.6L175.3 291.6L197.4 299L219.6 305.5L241.8 334L264 342.9L286.1 390.6L308.3 419.1L330.5 462.3M42.2 307.8L64.4 306.8L86.6 303.2L108.7 297.4L130.9 293L153.1 295.9L175.3 293.7L197.4 301.9L219.6 311L241.8 340.6L264 362L286.1 388.9L308.3 414.3L330.5 457.8M42.2 310.2L64.4 308.7L86.6 305.9L108.7 300.6L130.9 295.9L153.1 297.4L175.3 297.4L197.4 304.1L219.6 310.2L241.8 338.6L264 360L286.1 393.2L308.3 423.2L330.5 469.9M42.2 312.3L64.4 311.8L86.6 307.8L108.7 303.2L130.9 299L153.1 300.6L175.3 300.6L197.4 305.7L219.6 320.2L241.8 345.6L264 359.7L286.1 394.1L308.3 424.6L330.5 461.5M42.2 315.8L64.4 313L86.6 310.2L108.7 305.7L130.9 303.2L153.1 305L175.3 303.2L197.4 309.7L219.6 319.7L241.8 345.4L264 360.4L286.1 408.7L308.3 442.9L330.5 468.6M42.2 321.6L64.4 321.6L86.6 313.7L108.7 310.2L130.9 305L153.1 306.8L175.3 308.7L197.4 312.8L219.6 328.3L241.8 348.7L264 367.5L286.1 405.4L308.3 436.7L330.5 485.5M42.2 323.8L64.4 321.6L86.6 318.5L108.7 310.2L130.9 309.2L153.1 307.8L175.3 305.9L197.4 315.2L219.6 321.8L241.8 351.1L264 375.8L286.1 416.7L308.3 443.1L330.5 480.7" stroke="#1f77c0" stroke-width="1.1"/>
</g>
<rect x="42.2" y="274.4" width="288.3" height="221.6" fill="none" stroke="#262626" stroke-width="1.1"/>
<path d="M42.2 496v-3M42.2 274.4v3M64.4 496v-3M64.4 274.4v3M86.6 496v-3M86.6 274.4v3M108.7 496v-3M108.7 274.4v3M130.9 496v-3M130.9 274.4v3M153.1 496v-3M153.1 274.4v3M175.3 496v-3M175.3 274.4v3M197.4 496v-3M197.4 274.4v3M219.6 496v-3M219.6 274.4v3M241.8 496v-3M241.8 274.4v3M264 496v-3M264 274.4v3M286.1 496v-3M286.1 274.4v3M308.3 496v-3M308.3 274.4v3M330.5 496v-3M330.5 274.4v3M42.2 496h3.5M330.5 496h-3.5M42.2 462.6h2.2M330.5 462.6h-2.2M42.2 443.1h2.2M330.5 443.1h-2.2M42.2 429.3h2.2M330.5 429.3h-2.2M42.2 418.6h2.2M330.5 418.6h-2.2M42.2 409.8h2.2M330.5 409.8h-2.2M42.2 402.4h2.2M330.5 402.4h-2.2M42.2 395.9h2.2M330.5 395.9h-2.2M42.2 390.3h2.2M330.5 390.3h-2.2M42.2 385.2h3.5M330.5 385.2h-3.5M42.2 351.8h2.2M330.5 351.8h-2.2M42.2 332.3h2.2M330.5 332.3h-2.2M42.2 318.5h2.2M330.5 318.5h-2.2M42.2 307.8h2.2M330.5 307.8h-2.2M42.2 299h2.2M330.5 299h-2.2M42.2 291.6h2.2M330.5 291.6h-2.2M42.2 285.1h2.2M330.5 285.1h-2.2M42.2 279.5h2.2M330.5 279.5h-2.2" stroke="#262626" stroke-width="1" fill="none"/>
<text x="32.8" y="282" font-size="13" font-weight="bold" text-anchor="end" fill="#1a1a1a">10</text>
<text x="33.1" y="275.7" font-size="10.5" font-weight="bold" text-anchor="start" fill="#1a1a1a">2</text>
<text x="32.8" y="392.8" font-size="13" font-weight="bold" text-anchor="end" fill="#1a1a1a">10</text>
<text x="33.1" y="386.5" font-size="10.5" font-weight="bold" text-anchor="start" fill="#1a1a1a">1</text>
<text x="32.8" y="503.6" font-size="13" font-weight="bold" text-anchor="end" fill="#1a1a1a">10</text>
<text x="33.1" y="497.3" font-size="10.5" font-weight="bold" text-anchor="start" fill="#1a1a1a">0</text>
<text transform="translate(39.9 511.8) rotate(-30)" font-size="13.3" font-weight="bold" text-anchor="middle" dominant-baseline="central" fill="#1a1a1a">La</text>
<text transform="translate(62.1 511.8) rotate(-30)" font-size="13.3" font-weight="bold" text-anchor="middle" dominant-baseline="central" fill="#1a1a1a">Ce</text>
<text transform="translate(84.3 511.8) rotate(-30)" font-size="13.3" font-weight="bold" text-anchor="middle" dominant-baseline="central" fill="#1a1a1a">Pr</text>
<text transform="translate(106.4 511.8) rotate(-30)" font-size="13.3" font-weight="bold" text-anchor="middle" dominant-baseline="central" fill="#1a1a1a">Nd</text>
<text transform="translate(128.6 511.8) rotate(-30)" font-size="13.3" font-weight="bold" text-anchor="middle" dominant-baseline="central" fill="#1a1a1a">Sm</text>
<text transform="translate(150.8 511.8) rotate(-30)" font-size="13.3" font-weight="bold" text-anchor="middle" dominant-baseline="central" fill="#1a1a1a">Eu</text>
<text transform="translate(173 511.8) rotate(-30)" font-size="13.3" font-weight="bold" text-anchor="middle" dominant-baseline="central" fill="#1a1a1a">Gd</text>
<text transform="translate(195.1 511.8) rotate(-30)" font-size="13.3" font-weight="bold" text-anchor="middle" dominant-baseline="central" fill="#1a1a1a">Tb</text>
<text transform="translate(217.3 511.8) rotate(-30)" font-size="13.3" font-weight="bold" text-anchor="middle" dominant-baseline="central" fill="#1a1a1a">Dy</text>
<text transform="translate(239.5 511.8) rotate(-30)" font-size="13.3" font-weight="bold" text-anchor="middle" dominant-baseline="central" fill="#1a1a1a">Ho</text>
<text transform="translate(261.7 511.8) rotate(-30)" font-size="13.3" font-weight="bold" text-anchor="middle" dominant-baseline="central" fill="#1a1a1a">Er</text>
<text transform="translate(283.8 511.8) rotate(-30)" font-size="13.3" font-weight="bold" text-anchor="middle" dominant-baseline="central" fill="#1a1a1a">Tm</text>
<text transform="translate(306 511.8) rotate(-30)" font-size="13.3" font-weight="bold" text-anchor="middle" dominant-baseline="central" fill="#1a1a1a">Yb</text>
<text transform="translate(328.2 511.8) rotate(-30)" font-size="13.3" font-weight="bold" text-anchor="middle" dominant-baseline="central" fill="#1a1a1a">Lu</text>
<text transform="translate(11.7 474) rotate(-90)" font-size="14.5" font-weight="bold" fill="#1a1a1a" textLength="178" lengthAdjust="spacingAndGlyphs">Epidote mineral/Chondrite</text>
<text x="45.9" y="289.8" font-size="17.5" font-weight="normal" text-anchor="start" fill="#111" textLength="13.2" lengthAdjust="spacingAndGlyphs">c)</text>
<rect x="246.1" y="459.3" width="78.1" height="32.1" fill="#fff" stroke="#333" stroke-width="0.9"/>
<path d="M249.5 467.3h18.4" stroke="#1f77c0" stroke-width="1.2"/>
<path d="M249.5 481.1h18.4" stroke="#555" stroke-width="1.4"/>
<text x="270.9" y="472.6" font-size="12" font-weight="bold" text-anchor="start" fill="#1a1a1a" textLength="36.1" lengthAdjust="spacingAndGlyphs">matrix</text>
<text x="270.9" y="486.4" font-size="12" font-weight="bold" text-anchor="start" fill="#1a1a1a" textLength="51" lengthAdjust="spacingAndGlyphs">inclusion</text>
<path d="M462.5 380.7H585.6M524.3 380.7V476.6" stroke="#333" stroke-width="1" stroke-dasharray="2.6 2.6" fill="none"/>
<text x="479.4" y="339" font-size="15.5" font-weight="bold" text-anchor="end" fill="#1a1a1a" textLength="16.8" lengthAdjust="spacingAndGlyphs">10</text>
<text x="455.3" y="384.6" font-size="15.5" font-weight="bold" text-anchor="end" fill="#1a1a1a" textLength="17.6" lengthAdjust="spacingAndGlyphs">20</text>
<text x="425.9" y="431.8" font-size="15.5" font-weight="bold" text-anchor="end" fill="#1a1a1a" textLength="18.7" lengthAdjust="spacingAndGlyphs">30</text>
<text x="394.7" y="478" font-size="15.5" font-weight="bold" text-anchor="end" fill="#1a1a1a" textLength="18.9" lengthAdjust="spacingAndGlyphs">40</text>
<text x="384.1" y="497" font-size="16" font-weight="bold" text-anchor="start" fill="#1a1a1a" textLength="15.3" lengthAdjust="spacingAndGlyphs">Jd</text>
<text x="644.6" y="497" font-size="15.5" font-weight="bold" text-anchor="start" fill="#1a1a1a" textLength="18.1" lengthAdjust="spacingAndGlyphs">Ae</text>
<text x="506.9" y="358.4" font-size="12.8" font-weight="bold" text-anchor="start" fill="#1a1a1a" textLength="30.6" lengthAdjust="spacingAndGlyphs">Quad</text>
<text x="454.9" y="477.6" font-size="12.8" font-weight="bold" text-anchor="start" fill="#1a1a1a" textLength="61.4" lengthAdjust="spacingAndGlyphs">omphacite</text>
<text x="481.2" y="282.6" font-size="14" font-weight="bold" text-anchor="start" fill="#1a1a1a" textLength="75.4" lengthAdjust="spacingAndGlyphs">(Wo, En, Fs)</text>
<text x="382.4" y="289.3" font-size="17.5" font-weight="normal" text-anchor="start" fill="#111" textLength="15.2" lengthAdjust="spacingAndGlyphs">d)</text>
<circle cx="472.3" cy="396.4" r="5.9" fill="#6574c0" fill-opacity="0.68" stroke="#333" stroke-width="0.75"/>
<circle cx="460.4" cy="400.2" r="5.9" fill="#6574c0" fill-opacity="0.68" stroke="#333" stroke-width="0.75"/>
<circle cx="450.3" cy="395.9" r="5.9" fill="#6574c0" fill-opacity="0.68" stroke="#333" stroke-width="0.75"/>
<circle cx="454.6" cy="407.4" r="5.9" fill="#6574c0" fill-opacity="0.68" stroke="#333" stroke-width="0.75"/>
<circle cx="447.8" cy="410.4" r="5.9" fill="#6574c0" fill-opacity="0.68" stroke="#333" stroke-width="0.75"/>
<circle cx="441.5" cy="404.5" r="5.9" fill="#6574c0" fill-opacity="0.68" stroke="#333" stroke-width="0.75"/>
<circle cx="442.4" cy="407.4" r="5.9" fill="#6574c0" fill-opacity="0.68" stroke="#333" stroke-width="0.75"/>
<circle cx="441" cy="411.7" r="5.9" fill="#6574c0" fill-opacity="0.68" stroke="#333" stroke-width="0.75"/>
<circle cx="437.4" cy="416" r="5.9" fill="#6574c0" fill-opacity="0.68" stroke="#333" stroke-width="0.75"/>
<circle cx="444" cy="409" r="5.9" fill="#6574c0" fill-opacity="0.68" stroke="#333" stroke-width="0.75"/>
<circle cx="490.9" cy="333.3" r="5.8" fill="#f6c8a8" fill-opacity="0.7" stroke="#333" stroke-width="0.75"/>
<circle cx="492.5" cy="336" r="5.8" fill="#f6c8a8" fill-opacity="0.7" stroke="#333" stroke-width="0.75"/>
<circle cx="497.8" cy="324.7" r="5.8" fill="#f6c8a8" fill-opacity="0.7" stroke="#333" stroke-width="0.75"/>
<circle cx="495" cy="329" r="5.8" fill="#f6c8a8" fill-opacity="0.7" stroke="#333" stroke-width="0.75"/>
<circle cx="505.3" cy="314.9" r="5.8" fill="#9fce8e" fill-opacity="0.75" stroke="#333" stroke-width="0.75"/>
<circle cx="507.6" cy="307.4" r="5.8" fill="#9fce8e" fill-opacity="0.75" stroke="#333" stroke-width="0.75"/>
<circle cx="510.5" cy="309.7" r="5.8" fill="#9fce8e" fill-opacity="0.75" stroke="#333" stroke-width="0.75"/>
<circle cx="512.5" cy="303.5" r="5.8" fill="#9fce8e" fill-opacity="0.75" stroke="#333" stroke-width="0.75"/>
<circle cx="516" cy="296.5" r="5.7" fill="#e8b416" fill-opacity="0.85" stroke="#333" stroke-width="0.75"/>
<circle cx="513.5" cy="302.5" r="5.7" fill="#e8b416" fill-opacity="0.85" stroke="#333" stroke-width="0.75"/>
<circle cx="515.7" cy="300" r="5.7" fill="#e8b416" fill-opacity="0.85" stroke="#333" stroke-width="0.75"/>
<circle cx="514.8" cy="298.3" r="5.7" fill="#e8b416" fill-opacity="0.85" stroke="#333" stroke-width="0.75"/>
<path d="M397.5 477.5L524.4 288.5L648.3 476.8" fill="none" stroke="#111" stroke-width="1.2"/>
<path d="M521.8 288.5h5.8M493.4 334.6h6M555 334.6h-6M462.5 380.7h6M585.6 380.7h-6M431.5 426.8h6M616.2 426.8h-6M400.6 472.9h6M646.8 472.9h-6" stroke="#111" stroke-width="1.1" fill="none"/>
<rect x="572.4" y="292.8" width="111.1" height="50.2" fill="#fff" stroke="#333" stroke-width="0.9"/>
<circle cx="584.3" cy="299.9" r="3.5" fill="#8c96cf" stroke="#333" stroke-width="0.7"/>
<text x="592.6" y="303" font-size="9.5" font-weight="normal" text-anchor="start" fill="#2a2a2a" textLength="80.5" lengthAdjust="spacingAndGlyphs">retr. eclogite MOL20-1</text>
<circle cx="584.3" cy="312.2" r="3.5" fill="#e4b21f" stroke="#333" stroke-width="0.7"/>
<text x="592.6" y="315.3" font-size="9.5" font-weight="normal" text-anchor="start" fill="#2a2a2a" textLength="83" lengthAdjust="spacingAndGlyphs">metarodingite CM20-6</text>
<circle cx="584.3" cy="323.2" r="3.5" fill="#b3d9a6" stroke="#333" stroke-width="0.7"/>
<text x="592.6" y="326.3" font-size="9.5" font-weight="normal" text-anchor="start" fill="#2a2a2a" textLength="84" lengthAdjust="spacingAndGlyphs">metasediment CM20-8</text>
<circle cx="584.3" cy="334.9" r="3.5" fill="#f6c8ac" stroke="#333" stroke-width="0.7"/>
<text x="592.6" y="338" font-size="9.5" font-weight="normal" text-anchor="start" fill="#2a2a2a" textLength="87.6" lengthAdjust="spacingAndGlyphs">metarodingite CM20-12</text>
</svg></body></html>
